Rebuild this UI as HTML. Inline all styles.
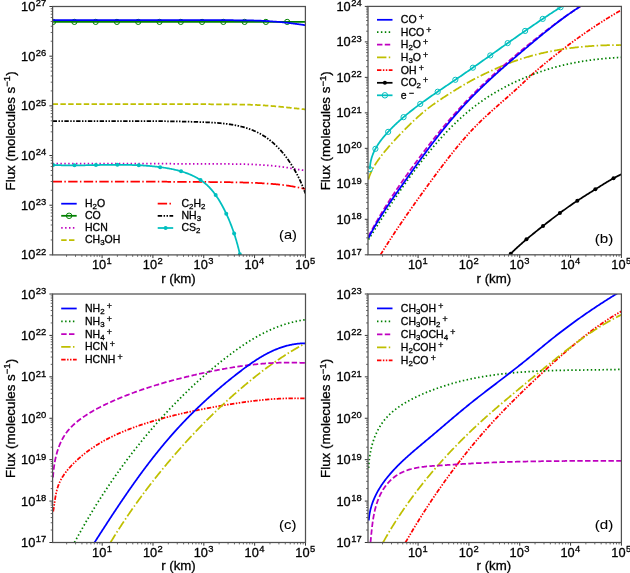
<!DOCTYPE html>
<html><head><meta charset="utf-8"><style>
html,body{margin:0;padding:0;background:#fff;}
svg{display:block;will-change:transform;}
text{font-family:"Liberation Sans",sans-serif;fill:#000;stroke:#000;stroke-width:0.3px;}
</style></head><body>
<svg width="630" height="573" viewBox="0 0 630 573">
<rect width="630" height="573" fill="#fff"/>
<defs>
<clipPath id="clipa"><rect x="52.6" y="6.5" width="252.8" height="248.4"/></clipPath>
<clipPath id="mclipa"><rect x="48.6" y="2.5" width="260.8" height="256.4"/></clipPath>
<clipPath id="clipb"><rect x="368" y="6.4" width="253.4" height="248.4"/></clipPath>
<clipPath id="mclipb"><rect x="364" y="2.4" width="261.4" height="256.4"/></clipPath>
<clipPath id="clipc"><rect x="52.6" y="294" width="252.9" height="248.5"/></clipPath>
<clipPath id="mclipc"><rect x="48.6" y="290" width="260.9" height="256.5"/></clipPath>
<clipPath id="clipd"><rect x="368" y="294" width="253.4" height="248.5"/></clipPath>
<clipPath id="mclipd"><rect x="364" y="290" width="261.4" height="256.5"/></clipPath>
</defs>
<path d="M52.6 181.6 L53.23 181.6 L53.87 181.6 L54.5 181.6 L55.13 181.6 L55.77 181.6 L56.4 181.6 L57.04 181.6 L57.67 181.61 L58.3 181.61 L58.94 181.61 L59.57 181.61 L60.2 181.61 L60.84 181.61 L61.47 181.61 L62.1 181.61 L62.74 181.61 L63.37 181.61 L64 181.61 L64.64 181.61 L65.27 181.61 L65.91 181.61 L66.54 181.61 L67.17 181.62 L67.81 181.62 L68.44 181.62 L69.07 181.62 L69.71 181.62 L70.34 181.62 L70.97 181.62 L71.61 181.62 L72.24 181.62 L72.87 181.62 L73.51 181.62 L74.14 181.62 L74.78 181.62 L75.41 181.62 L76.04 181.63 L76.68 181.63 L77.31 181.63 L77.94 181.63 L78.58 181.63 L79.21 181.63 L79.84 181.63 L80.48 181.63 L81.11 181.63 L81.74 181.63 L82.38 181.63 L83.01 181.63 L83.65 181.63 L84.28 181.63 L84.91 181.63 L85.55 181.64 L86.18 181.64 L86.81 181.64 L87.45 181.64 L88.08 181.64 L88.71 181.64 L89.35 181.64 L89.98 181.64 L90.62 181.64 L91.25 181.64 L91.88 181.64 L92.52 181.64 L93.15 181.64 L93.78 181.64 L94.42 181.64 L95.05 181.64 L95.68 181.65 L96.32 181.65 L96.95 181.65 L97.58 181.65 L98.22 181.65 L98.85 181.65 L99.49 181.65 L100.12 181.65 L100.75 181.65 L101.39 181.65 L102.02 181.65 L102.65 181.65 L103.29 181.65 L103.92 181.65 L104.55 181.65 L105.19 181.66 L105.82 181.66 L106.45 181.66 L107.09 181.66 L107.72 181.66 L108.36 181.66 L108.99 181.66 L109.62 181.66 L110.26 181.66 L110.89 181.66 L111.52 181.66 L112.16 181.66 L112.79 181.66 L113.42 181.66 L114.06 181.66 L114.69 181.66 L115.32 181.66 L115.96 181.66 L116.59 181.66 L117.23 181.67 L117.86 181.67 L118.49 181.67 L119.13 181.67 L119.76 181.67 L120.39 181.67 L121.03 181.67 L121.66 181.67 L122.29 181.67 L122.93 181.67 L123.56 181.67 L124.19 181.67 L124.83 181.67 L125.46 181.67 L126.1 181.67 L126.73 181.67 L127.36 181.67 L128 181.67 L128.63 181.67 L129.26 181.68 L129.9 181.68 L130.53 181.68 L131.16 181.68 L131.8 181.68 L132.43 181.68 L133.07 181.68 L133.7 181.68 L134.33 181.68 L134.97 181.68 L135.6 181.68 L136.23 181.68 L136.87 181.68 L137.5 181.68 L138.13 181.68 L138.77 181.68 L139.4 181.69 L140.03 181.69 L140.67 181.69 L141.3 181.69 L141.94 181.69 L142.57 181.69 L143.2 181.69 L143.84 181.69 L144.47 181.69 L145.1 181.69 L145.74 181.69 L146.37 181.69 L147 181.7 L147.64 181.7 L148.27 181.7 L148.9 181.7 L149.54 181.7 L150.17 181.7 L150.81 181.7 L151.44 181.7 L152.07 181.7 L152.71 181.7 L153.34 181.71 L153.97 181.71 L154.61 181.71 L155.24 181.71 L155.87 181.71 L156.51 181.71 L157.14 181.72 L157.77 181.72 L158.41 181.72 L159.04 181.72 L159.68 181.72 L160.31 181.72 L160.94 181.73 L161.58 181.73 L162.21 181.73 L162.84 181.73 L163.48 181.73 L164.11 181.74 L164.74 181.74 L165.38 181.74 L166.01 181.74 L166.65 181.74 L167.28 181.75 L167.91 181.75 L168.55 181.75 L169.18 181.75 L169.81 181.76 L170.45 181.76 L171.08 181.76 L171.71 181.76 L172.35 181.77 L172.98 181.77 L173.61 181.77 L174.25 181.77 L174.88 181.78 L175.52 181.78 L176.15 181.78 L176.78 181.79 L177.42 181.79 L178.05 181.79 L178.68 181.79 L179.32 181.8 L179.95 181.8 L180.58 181.8 L181.22 181.81 L181.85 181.81 L182.48 181.81 L183.12 181.81 L183.75 181.82 L184.39 181.82 L185.02 181.82 L185.65 181.83 L186.29 181.83 L186.92 181.83 L187.55 181.84 L188.19 181.84 L188.82 181.85 L189.45 181.85 L190.09 181.85 L190.72 181.86 L191.35 181.86 L191.99 181.86 L192.62 181.87 L193.26 181.87 L193.89 181.88 L194.52 181.88 L195.16 181.88 L195.79 181.89 L196.42 181.89 L197.06 181.9 L197.69 181.9 L198.32 181.91 L198.96 181.91 L199.59 181.92 L200.23 181.92 L200.86 181.92 L201.49 181.93 L202.13 181.93 L202.76 181.94 L203.39 181.94 L204.03 181.95 L204.66 181.95 L205.29 181.96 L205.93 181.97 L206.56 181.97 L207.19 181.98 L207.83 181.98 L208.46 181.99 L209.1 181.99 L209.73 182 L210.36 182 L211 182.01 L211.63 182.02 L212.26 182.02 L212.9 182.03 L213.53 182.03 L214.16 182.04 L214.8 182.05 L215.43 182.05 L216.06 182.06 L216.7 182.07 L217.33 182.07 L217.97 182.08 L218.6 182.08 L219.23 182.09 L219.87 182.1 L220.5 182.11 L221.13 182.11 L221.77 182.12 L222.4 182.13 L223.03 182.14 L223.67 182.14 L224.3 182.15 L224.93 182.16 L225.57 182.17 L226.2 182.18 L226.84 182.19 L227.47 182.2 L228.1 182.21 L228.74 182.22 L229.37 182.23 L230 182.24 L230.64 182.25 L231.27 182.26 L231.9 182.27 L232.54 182.28 L233.17 182.3 L233.81 182.31 L234.44 182.32 L235.07 182.33 L235.71 182.34 L236.34 182.36 L236.97 182.37 L237.61 182.38 L238.24 182.4 L238.87 182.41 L239.51 182.42 L240.14 182.44 L240.77 182.45 L241.41 182.46 L242.04 182.48 L242.68 182.49 L243.31 182.51 L243.94 182.52 L244.58 182.54 L245.21 182.55 L245.84 182.57 L246.48 182.59 L247.11 182.61 L247.74 182.62 L248.38 182.64 L249.01 182.66 L249.64 182.68 L250.28 182.7 L250.91 182.73 L251.55 182.75 L252.18 182.77 L252.81 182.79 L253.45 182.82 L254.08 182.84 L254.71 182.87 L255.35 182.9 L255.98 182.93 L256.61 182.96 L257.25 182.99 L257.88 183.02 L258.51 183.05 L259.15 183.08 L259.78 183.12 L260.42 183.15 L261.05 183.19 L261.68 183.22 L262.32 183.26 L262.95 183.3 L263.58 183.33 L264.22 183.37 L264.85 183.41 L265.48 183.45 L266.12 183.49 L266.75 183.53 L267.38 183.58 L268.02 183.62 L268.65 183.67 L269.29 183.71 L269.92 183.76 L270.55 183.81 L271.19 183.85 L271.82 183.9 L272.45 183.96 L273.09 184.01 L273.72 184.06 L274.35 184.11 L274.99 184.17 L275.62 184.23 L276.26 184.29 L276.89 184.34 L277.52 184.41 L278.16 184.47 L278.79 184.53 L279.42 184.6 L280.06 184.67 L280.69 184.73 L281.32 184.81 L281.96 184.88 L282.59 184.95 L283.22 185.03 L283.86 185.11 L284.49 185.19 L285.13 185.27 L285.76 185.36 L286.39 185.45 L287.03 185.54 L287.66 185.63 L288.29 185.73 L288.93 185.83 L289.56 185.93 L290.19 186.03 L290.83 186.13 L291.46 186.24 L292.09 186.35 L292.73 186.45 L293.36 186.56 L294 186.67 L294.63 186.79 L295.26 186.9 L295.9 187.02 L296.53 187.14 L297.16 187.26 L297.8 187.38 L298.43 187.5 L299.06 187.63 L299.7 187.76 L300.33 187.89 L300.96 188.02 L301.6 188.16 L302.23 188.29 L302.87 188.43 L303.5 188.57 L304.13 188.71 L304.77 188.86 L305.4 189" fill="none" stroke="#ff0000" stroke-width="1.75" stroke-dasharray="9.41,2.35,1.47,2.35" clip-path="url(#clipa)"/>
<path d="M52.6 163.5 L53.23 163.5 L53.87 163.5 L54.5 163.5 L55.13 163.5 L55.77 163.5 L56.4 163.5 L57.04 163.5 L57.67 163.51 L58.3 163.51 L58.94 163.51 L59.57 163.51 L60.2 163.51 L60.84 163.51 L61.47 163.51 L62.1 163.51 L62.74 163.51 L63.37 163.51 L64 163.51 L64.64 163.51 L65.27 163.51 L65.91 163.51 L66.54 163.51 L67.17 163.52 L67.81 163.52 L68.44 163.52 L69.07 163.52 L69.71 163.52 L70.34 163.52 L70.97 163.52 L71.61 163.52 L72.24 163.52 L72.87 163.52 L73.51 163.52 L74.14 163.52 L74.78 163.52 L75.41 163.52 L76.04 163.53 L76.68 163.53 L77.31 163.53 L77.94 163.53 L78.58 163.53 L79.21 163.53 L79.84 163.53 L80.48 163.53 L81.11 163.53 L81.74 163.53 L82.38 163.53 L83.01 163.53 L83.65 163.53 L84.28 163.53 L84.91 163.53 L85.55 163.54 L86.18 163.54 L86.81 163.54 L87.45 163.54 L88.08 163.54 L88.71 163.54 L89.35 163.54 L89.98 163.54 L90.62 163.54 L91.25 163.54 L91.88 163.54 L92.52 163.54 L93.15 163.54 L93.78 163.54 L94.42 163.54 L95.05 163.54 L95.68 163.55 L96.32 163.55 L96.95 163.55 L97.58 163.55 L98.22 163.55 L98.85 163.55 L99.49 163.55 L100.12 163.55 L100.75 163.55 L101.39 163.55 L102.02 163.55 L102.65 163.55 L103.29 163.55 L103.92 163.55 L104.55 163.55 L105.19 163.55 L105.82 163.56 L106.45 163.56 L107.09 163.56 L107.72 163.56 L108.36 163.56 L108.99 163.56 L109.62 163.56 L110.26 163.56 L110.89 163.56 L111.52 163.56 L112.16 163.56 L112.79 163.56 L113.42 163.56 L114.06 163.56 L114.69 163.56 L115.32 163.56 L115.96 163.56 L116.59 163.56 L117.23 163.56 L117.86 163.56 L118.49 163.57 L119.13 163.57 L119.76 163.57 L120.39 163.57 L121.03 163.57 L121.66 163.57 L122.29 163.57 L122.93 163.57 L123.56 163.57 L124.19 163.57 L124.83 163.57 L125.46 163.57 L126.1 163.57 L126.73 163.57 L127.36 163.57 L128 163.57 L128.63 163.57 L129.26 163.57 L129.9 163.57 L130.53 163.57 L131.16 163.58 L131.8 163.58 L132.43 163.58 L133.07 163.58 L133.7 163.58 L134.33 163.58 L134.97 163.58 L135.6 163.58 L136.23 163.58 L136.87 163.58 L137.5 163.58 L138.13 163.58 L138.77 163.58 L139.4 163.58 L140.03 163.58 L140.67 163.59 L141.3 163.59 L141.94 163.59 L142.57 163.59 L143.2 163.59 L143.84 163.59 L144.47 163.59 L145.1 163.59 L145.74 163.59 L146.37 163.59 L147 163.59 L147.64 163.6 L148.27 163.6 L148.9 163.6 L149.54 163.6 L150.17 163.6 L150.81 163.6 L151.44 163.6 L152.07 163.61 L152.71 163.61 L153.34 163.61 L153.97 163.61 L154.61 163.62 L155.24 163.62 L155.87 163.62 L156.51 163.63 L157.14 163.63 L157.77 163.63 L158.41 163.64 L159.04 163.64 L159.68 163.64 L160.31 163.65 L160.94 163.65 L161.58 163.66 L162.21 163.66 L162.84 163.67 L163.48 163.67 L164.11 163.68 L164.74 163.68 L165.38 163.69 L166.01 163.69 L166.65 163.7 L167.28 163.7 L167.91 163.71 L168.55 163.71 L169.18 163.72 L169.81 163.72 L170.45 163.73 L171.08 163.73 L171.71 163.74 L172.35 163.74 L172.98 163.75 L173.61 163.75 L174.25 163.76 L174.88 163.76 L175.52 163.77 L176.15 163.77 L176.78 163.77 L177.42 163.78 L178.05 163.78 L178.68 163.78 L179.32 163.79 L179.95 163.79 L180.58 163.79 L181.22 163.8 L181.85 163.8 L182.48 163.8 L183.12 163.8 L183.75 163.81 L184.39 163.81 L185.02 163.81 L185.65 163.81 L186.29 163.81 L186.92 163.82 L187.55 163.82 L188.19 163.82 L188.82 163.82 L189.45 163.82 L190.09 163.82 L190.72 163.83 L191.35 163.83 L191.99 163.83 L192.62 163.83 L193.26 163.83 L193.89 163.83 L194.52 163.83 L195.16 163.84 L195.79 163.84 L196.42 163.84 L197.06 163.84 L197.69 163.84 L198.32 163.84 L198.96 163.84 L199.59 163.84 L200.23 163.84 L200.86 163.85 L201.49 163.85 L202.13 163.85 L202.76 163.85 L203.39 163.85 L204.03 163.85 L204.66 163.85 L205.29 163.85 L205.93 163.86 L206.56 163.86 L207.19 163.86 L207.83 163.86 L208.46 163.86 L209.1 163.86 L209.73 163.86 L210.36 163.87 L211 163.87 L211.63 163.87 L212.26 163.87 L212.9 163.87 L213.53 163.88 L214.16 163.88 L214.8 163.88 L215.43 163.88 L216.06 163.88 L216.7 163.89 L217.33 163.89 L217.97 163.89 L218.6 163.89 L219.23 163.9 L219.87 163.9 L220.5 163.9 L221.13 163.91 L221.77 163.91 L222.4 163.91 L223.03 163.92 L223.67 163.92 L224.3 163.93 L224.93 163.93 L225.57 163.94 L226.2 163.94 L226.84 163.95 L227.47 163.95 L228.1 163.96 L228.74 163.97 L229.37 163.97 L230 163.98 L230.64 163.99 L231.27 164 L231.9 164 L232.54 164.01 L233.17 164.02 L233.81 164.03 L234.44 164.04 L235.07 164.05 L235.71 164.06 L236.34 164.07 L236.97 164.08 L237.61 164.09 L238.24 164.1 L238.87 164.11 L239.51 164.12 L240.14 164.13 L240.77 164.14 L241.41 164.15 L242.04 164.16 L242.68 164.17 L243.31 164.19 L243.94 164.2 L244.58 164.21 L245.21 164.23 L245.84 164.24 L246.48 164.26 L247.11 164.27 L247.74 164.29 L248.38 164.31 L249.01 164.33 L249.64 164.36 L250.28 164.38 L250.91 164.4 L251.55 164.43 L252.18 164.45 L252.81 164.48 L253.45 164.5 L254.08 164.53 L254.71 164.56 L255.35 164.59 L255.98 164.62 L256.61 164.65 L257.25 164.68 L257.88 164.72 L258.51 164.75 L259.15 164.78 L259.78 164.82 L260.42 164.85 L261.05 164.89 L261.68 164.92 L262.32 164.96 L262.95 165 L263.58 165.04 L264.22 165.08 L264.85 165.12 L265.48 165.16 L266.12 165.21 L266.75 165.26 L267.38 165.31 L268.02 165.36 L268.65 165.41 L269.29 165.47 L269.92 165.53 L270.55 165.59 L271.19 165.65 L271.82 165.71 L272.45 165.77 L273.09 165.84 L273.72 165.9 L274.35 165.97 L274.99 166.04 L275.62 166.11 L276.26 166.18 L276.89 166.25 L277.52 166.33 L278.16 166.4 L278.79 166.48 L279.42 166.55 L280.06 166.63 L280.69 166.71 L281.32 166.79 L281.96 166.87 L282.59 166.95 L283.22 167.03 L283.86 167.11 L284.49 167.21 L285.13 167.3 L285.76 167.4 L286.39 167.5 L287.03 167.61 L287.66 167.72 L288.29 167.83 L288.93 167.94 L289.56 168.05 L290.19 168.17 L290.83 168.28 L291.46 168.39 L292.09 168.51 L292.73 168.62 L293.36 168.73 L294 168.84 L294.63 168.94 L295.26 169.04 L295.9 169.14 L296.53 169.24 L297.16 169.34 L297.8 169.44 L298.43 169.54 L299.06 169.64 L299.7 169.74 L300.33 169.84 L300.96 169.93 L301.6 170.03 L302.23 170.13 L302.87 170.22 L303.5 170.32 L304.13 170.41 L304.77 170.51 L305.4 170.6" fill="none" stroke="#bf00bf" stroke-width="1.75" stroke-dasharray="1.47,2.43" clip-path="url(#clipa)"/>
<path d="M52.6 104.1 L53.23 104.1 L53.87 104.1 L54.5 104.1 L55.13 104.1 L55.77 104.1 L56.4 104.1 L57.04 104.1 L57.67 104.1 L58.3 104.1 L58.94 104.1 L59.57 104.1 L60.2 104.1 L60.84 104.1 L61.47 104.1 L62.1 104.1 L62.74 104.1 L63.37 104.1 L64 104.1 L64.64 104.1 L65.27 104.1 L65.91 104.1 L66.54 104.1 L67.17 104.1 L67.81 104.1 L68.44 104.1 L69.07 104.1 L69.71 104.1 L70.34 104.1 L70.97 104.1 L71.61 104.1 L72.24 104.1 L72.87 104.1 L73.51 104.1 L74.14 104.1 L74.78 104.1 L75.41 104.1 L76.04 104.1 L76.68 104.1 L77.31 104.1 L77.94 104.1 L78.58 104.1 L79.21 104.1 L79.84 104.1 L80.48 104.1 L81.11 104.1 L81.74 104.1 L82.38 104.1 L83.01 104.1 L83.65 104.1 L84.28 104.1 L84.91 104.1 L85.55 104.1 L86.18 104.1 L86.81 104.1 L87.45 104.1 L88.08 104.1 L88.71 104.1 L89.35 104.1 L89.98 104.1 L90.62 104.1 L91.25 104.1 L91.88 104.1 L92.52 104.1 L93.15 104.1 L93.78 104.1 L94.42 104.1 L95.05 104.1 L95.68 104.1 L96.32 104.1 L96.95 104.1 L97.58 104.1 L98.22 104.1 L98.85 104.1 L99.49 104.1 L100.12 104.1 L100.75 104.1 L101.39 104.1 L102.02 104.1 L102.65 104.1 L103.29 104.1 L103.92 104.1 L104.55 104.1 L105.19 104.1 L105.82 104.1 L106.45 104.1 L107.09 104.1 L107.72 104.1 L108.36 104.1 L108.99 104.1 L109.62 104.1 L110.26 104.1 L110.89 104.1 L111.52 104.1 L112.16 104.1 L112.79 104.1 L113.42 104.1 L114.06 104.1 L114.69 104.1 L115.32 104.1 L115.96 104.1 L116.59 104.1 L117.23 104.1 L117.86 104.1 L118.49 104.1 L119.13 104.1 L119.76 104.1 L120.39 104.1 L121.03 104.1 L121.66 104.1 L122.29 104.1 L122.93 104.1 L123.56 104.1 L124.19 104.1 L124.83 104.1 L125.46 104.1 L126.1 104.1 L126.73 104.1 L127.36 104.1 L128 104.1 L128.63 104.1 L129.26 104.1 L129.9 104.1 L130.53 104.1 L131.16 104.1 L131.8 104.1 L132.43 104.1 L133.07 104.1 L133.7 104.1 L134.33 104.1 L134.97 104.1 L135.6 104.1 L136.23 104.1 L136.87 104.1 L137.5 104.1 L138.13 104.1 L138.77 104.1 L139.4 104.1 L140.03 104.1 L140.67 104.1 L141.3 104.1 L141.94 104.1 L142.57 104.1 L143.2 104.1 L143.84 104.1 L144.47 104.1 L145.1 104.1 L145.74 104.1 L146.37 104.1 L147 104.1 L147.64 104.1 L148.27 104.1 L148.9 104.1 L149.54 104.1 L150.17 104.1 L150.81 104.1 L151.44 104.1 L152.07 104.1 L152.71 104.1 L153.34 104.1 L153.97 104.1 L154.61 104.1 L155.24 104.1 L155.87 104.1 L156.51 104.1 L157.14 104.1 L157.77 104.1 L158.41 104.1 L159.04 104.1 L159.68 104.1 L160.31 104.11 L160.94 104.11 L161.58 104.11 L162.21 104.11 L162.84 104.11 L163.48 104.11 L164.11 104.11 L164.74 104.11 L165.38 104.11 L166.01 104.11 L166.65 104.11 L167.28 104.11 L167.91 104.12 L168.55 104.12 L169.18 104.12 L169.81 104.12 L170.45 104.12 L171.08 104.12 L171.71 104.12 L172.35 104.12 L172.98 104.13 L173.61 104.13 L174.25 104.13 L174.88 104.13 L175.52 104.13 L176.15 104.13 L176.78 104.13 L177.42 104.14 L178.05 104.14 L178.68 104.14 L179.32 104.14 L179.95 104.14 L180.58 104.14 L181.22 104.14 L181.85 104.15 L182.48 104.15 L183.12 104.15 L183.75 104.15 L184.39 104.15 L185.02 104.15 L185.65 104.16 L186.29 104.16 L186.92 104.16 L187.55 104.16 L188.19 104.16 L188.82 104.17 L189.45 104.17 L190.09 104.17 L190.72 104.17 L191.35 104.17 L191.99 104.17 L192.62 104.18 L193.26 104.18 L193.89 104.18 L194.52 104.18 L195.16 104.18 L195.79 104.19 L196.42 104.19 L197.06 104.19 L197.69 104.19 L198.32 104.19 L198.96 104.2 L199.59 104.2 L200.23 104.2 L200.86 104.2 L201.49 104.21 L202.13 104.21 L202.76 104.21 L203.39 104.21 L204.03 104.21 L204.66 104.22 L205.29 104.22 L205.93 104.22 L206.56 104.23 L207.19 104.23 L207.83 104.23 L208.46 104.24 L209.1 104.24 L209.73 104.24 L210.36 104.25 L211 104.25 L211.63 104.25 L212.26 104.26 L212.9 104.26 L213.53 104.27 L214.16 104.27 L214.8 104.27 L215.43 104.28 L216.06 104.28 L216.7 104.29 L217.33 104.29 L217.97 104.3 L218.6 104.3 L219.23 104.31 L219.87 104.31 L220.5 104.32 L221.13 104.32 L221.77 104.33 L222.4 104.33 L223.03 104.34 L223.67 104.34 L224.3 104.35 L224.93 104.35 L225.57 104.36 L226.2 104.36 L226.84 104.37 L227.47 104.38 L228.1 104.38 L228.74 104.39 L229.37 104.39 L230 104.4 L230.64 104.41 L231.27 104.41 L231.9 104.42 L232.54 104.43 L233.17 104.43 L233.81 104.44 L234.44 104.45 L235.07 104.46 L235.71 104.47 L236.34 104.47 L236.97 104.48 L237.61 104.49 L238.24 104.5 L238.87 104.51 L239.51 104.52 L240.14 104.53 L240.77 104.54 L241.41 104.55 L242.04 104.56 L242.68 104.57 L243.31 104.59 L243.94 104.6 L244.58 104.61 L245.21 104.62 L245.84 104.64 L246.48 104.65 L247.11 104.67 L247.74 104.68 L248.38 104.69 L249.01 104.71 L249.64 104.73 L250.28 104.74 L250.91 104.76 L251.55 104.78 L252.18 104.79 L252.81 104.81 L253.45 104.83 L254.08 104.86 L254.71 104.88 L255.35 104.91 L255.98 104.94 L256.61 104.97 L257.25 105.01 L257.88 105.04 L258.51 105.08 L259.15 105.12 L259.78 105.16 L260.42 105.2 L261.05 105.24 L261.68 105.28 L262.32 105.32 L262.95 105.36 L263.58 105.41 L264.22 105.45 L264.85 105.49 L265.48 105.53 L266.12 105.58 L266.75 105.62 L267.38 105.66 L268.02 105.71 L268.65 105.76 L269.29 105.81 L269.92 105.86 L270.55 105.91 L271.19 105.96 L271.82 106.01 L272.45 106.06 L273.09 106.11 L273.72 106.17 L274.35 106.22 L274.99 106.28 L275.62 106.33 L276.26 106.39 L276.89 106.45 L277.52 106.5 L278.16 106.56 L278.79 106.62 L279.42 106.68 L280.06 106.74 L280.69 106.8 L281.32 106.86 L281.96 106.93 L282.59 106.99 L283.22 107.06 L283.86 107.12 L284.49 107.19 L285.13 107.26 L285.76 107.33 L286.39 107.4 L287.03 107.46 L287.66 107.53 L288.29 107.6 L288.93 107.67 L289.56 107.74 L290.19 107.81 L290.83 107.88 L291.46 107.94 L292.09 108.01 L292.73 108.08 L293.36 108.14 L294 108.21 L294.63 108.27 L295.26 108.34 L295.9 108.41 L296.53 108.47 L297.16 108.54 L297.8 108.61 L298.43 108.67 L299.06 108.74 L299.7 108.8 L300.33 108.87 L300.96 108.94 L301.6 109 L302.23 109.07 L302.87 109.14 L303.5 109.2 L304.13 109.27 L304.77 109.33 L305.4 109.4" fill="none" stroke="#bfbf00" stroke-width="1.75" stroke-dasharray="5.44,2.35" clip-path="url(#clipa)"/>
<path d="M52.6 121 L53.45 121.01 L54.3 121.02 L55.15 121.03 L56 121.04 L56.85 121.05 L57.7 121.06 L58.55 121.07 L59.4 121.07 L60.24 121.08 L61.09 121.09 L61.94 121.1 L62.79 121.1 L63.63 121.11 L64.48 121.12 L65.32 121.12 L66.17 121.13 L67.01 121.13 L67.86 121.14 L68.7 121.14 L69.55 121.15 L70.39 121.15 L71.23 121.16 L72.08 121.16 L72.92 121.16 L73.76 121.17 L74.6 121.17 L75.44 121.17 L76.28 121.17 L77.13 121.18 L77.97 121.18 L78.81 121.18 L79.65 121.18 L80.49 121.18 L81.32 121.18 L82.16 121.18 L83 121.18 L83.84 121.18 L84.68 121.18 L85.52 121.18 L86.36 121.18 L87.19 121.18 L88.03 121.18 L88.87 121.18 L89.7 121.18 L90.54 121.18 L91.38 121.18 L92.21 121.18 L93.05 121.18 L93.88 121.18 L94.72 121.18 L95.55 121.18 L96.39 121.17 L97.22 121.17 L98.06 121.17 L98.89 121.17 L99.73 121.17 L100.56 121.16 L101.4 121.16 L102.23 121.16 L103.06 121.16 L103.9 121.16 L104.73 121.15 L105.56 121.15 L106.4 121.15 L107.23 121.15 L108.06 121.14 L108.9 121.14 L109.73 121.14 L110.56 121.14 L111.39 121.13 L112.23 121.13 L113.06 121.13 L113.89 121.13 L114.72 121.12 L115.56 121.12 L116.39 121.12 L117.22 121.12 L118.05 121.11 L118.88 121.11 L119.72 121.11 L120.55 121.11 L121.38 121.11 L122.21 121.1 L123.04 121.1 L123.87 121.1 L124.71 121.1 L125.54 121.1 L126.37 121.1 L127.2 121.1 L128.03 121.09 L128.86 121.09 L129.7 121.09 L130.53 121.09 L131.36 121.09 L132.19 121.09 L133.02 121.09 L133.85 121.09 L134.69 121.09 L135.52 121.09 L136.35 121.09 L137.18 121.09 L138.01 121.09 L138.85 121.09 L139.68 121.09 L140.51 121.09 L141.34 121.09 L142.17 121.1 L143.01 121.1 L143.84 121.1 L144.67 121.1 L145.51 121.1 L146.34 121.11 L147.17 121.11 L148 121.11 L148.84 121.12 L149.67 121.12 L150.51 121.13 L151.34 121.13 L152.17 121.13 L153.01 121.14 L153.84 121.14 L154.68 121.15 L155.51 121.16 L156.34 121.16 L157.18 121.17 L158.01 121.17 L158.85 121.18 L159.69 121.19 L160.52 121.2 L161.36 121.2 L162.19 121.21 L163.03 121.22 L163.87 121.23 L164.7 121.24 L165.54 121.25 L166.38 121.26 L167.21 121.27 L168.05 121.28 L168.89 121.29 L169.73 121.3 L170.57 121.32 L171.41 121.33 L172.25 121.34 L173.08 121.36 L173.92 121.37 L174.76 121.38 L175.6 121.4 L176.44 121.41 L177.29 121.43 L178.13 121.45 L178.97 121.46 L179.81 121.48 L180.65 121.5 L181.49 121.51 L182.34 121.53 L183.18 121.55 L184.02 121.57 L184.87 121.59 L185.71 121.61 L186.56 121.63 L187.4 121.65 L188.25 121.68 L189.09 121.7 L189.94 121.72 L190.78 121.74 L191.63 121.77 L192.48 121.79 L193.33 121.82 L194.17 121.84 L195.02 121.87 L195.87 121.9 L196.72 121.92 L197.57 121.95 L198.42 121.98 L199.27 122.01 L200.12 122.04 L200.97 122.07 L201.82 122.1 L202.68 122.13 L203.53 122.17 L204.38 122.2 L205.23 122.24 L206.09 122.27 L206.94 122.31 L207.79 122.35 L208.64 122.39 L209.5 122.44 L210.35 122.48 L211.2 122.53 L212.05 122.58 L212.9 122.63 L213.75 122.68 L214.61 122.74 L215.45 122.8 L216.3 122.86 L217.15 122.92 L218 122.99 L218.85 123.06 L219.69 123.13 L220.54 123.21 L221.38 123.29 L222.22 123.38 L223.07 123.46 L223.91 123.55 L224.75 123.65 L225.58 123.75 L226.42 123.85 L227.26 123.96 L228.09 124.07 L228.92 124.19 L229.75 124.31 L230.58 124.43 L231.41 124.56 L232.23 124.7 L233.06 124.84 L233.88 124.98 L234.7 125.13 L235.52 125.29 L236.33 125.45 L237.15 125.62 L237.96 125.79 L238.77 125.97 L239.57 126.15 L240.38 126.34 L241.18 126.54 L241.98 126.74 L242.77 126.95 L243.57 127.17 L244.36 127.39 L245.15 127.62 L245.94 127.85 L246.72 128.1 L247.5 128.35 L248.28 128.6 L249.05 128.87 L249.82 129.14 L250.59 129.42 L251.35 129.71 L252.12 130 L252.87 130.31 L253.63 130.62 L254.38 130.94 L255.13 131.27 L255.87 131.6 L256.61 131.95 L257.35 132.3 L258.08 132.66 L258.81 133.03 L259.54 133.41 L260.26 133.8 L260.97 134.2 L261.69 134.6 L262.4 135.02 L263.1 135.45 L263.8 135.88 L264.5 136.33 L265.19 136.78 L265.88 137.25 L266.56 137.72 L267.24 138.2 L267.92 138.69 L268.59 139.19 L269.25 139.69 L269.91 140.21 L270.57 140.73 L271.22 141.26 L271.86 141.8 L272.51 142.35 L273.14 142.9 L273.77 143.46 L274.4 144.03 L275.02 144.6 L275.64 145.18 L276.25 145.77 L276.85 146.36 L277.45 146.96 L278.05 147.57 L278.64 148.18 L279.22 148.79 L279.8 149.42 L280.38 150.05 L280.95 150.68 L281.51 151.32 L282.07 151.96 L282.62 152.61 L283.16 153.26 L283.7 153.92 L284.24 154.58 L284.76 155.25 L285.29 155.92 L285.8 156.59 L286.32 157.27 L286.82 157.95 L287.32 158.64 L287.82 159.33 L288.31 160.02 L288.79 160.72 L289.27 161.42 L289.75 162.12 L290.22 162.83 L290.68 163.54 L291.14 164.25 L291.59 164.96 L292.04 165.68 L292.49 166.4 L292.93 167.12 L293.36 167.84 L293.79 168.57 L294.21 169.3 L294.63 170.03 L295.05 170.76 L295.46 171.49 L295.87 172.23 L296.27 172.97 L296.66 173.71 L297.06 174.45 L297.44 175.2 L297.83 175.94 L298.2 176.69 L298.58 177.44 L298.95 178.19 L299.31 178.94 L299.67 179.69 L300.03 180.45 L300.38 181.21 L300.72 181.97 L301.06 182.73 L301.4 183.49 L301.74 184.25 L302.07 185.01 L302.39 185.78 L302.71 186.55 L303.03 187.31 L303.34 188.08 L303.65 188.85 L303.95 189.62 L304.25 190.4 L304.54 191.17 L304.83 191.94 L305.12 192.72 L305.4 193.49" fill="none" stroke="#000000" stroke-width="1.75" stroke-dasharray="4.41,1.47,1.47,1.47,1.47,1.47" clip-path="url(#clipa)"/>
<path d="M53.1 164.99 L53.94 165.03 L54.78 165.06 L55.62 165.09 L56.46 165.12 L57.3 165.15 L58.14 165.18 L58.98 165.2 L59.82 165.22 L60.66 165.24 L61.5 165.26 L62.34 165.28 L63.18 165.29 L64.01 165.31 L64.85 165.32 L65.69 165.33 L66.53 165.34 L67.37 165.35 L68.2 165.35 L69.04 165.36 L69.88 165.36 L70.72 165.36 L71.56 165.37 L72.39 165.37 L73.23 165.36 L74.07 165.36 L74.9 165.36 L75.74 165.36 L76.58 165.35 L77.41 165.35 L78.25 165.34 L79.09 165.33 L79.92 165.32 L80.76 165.31 L81.6 165.3 L82.43 165.29 L83.27 165.28 L84.1 165.27 L84.94 165.26 L85.78 165.25 L86.61 165.23 L87.45 165.22 L88.28 165.21 L89.12 165.19 L89.95 165.18 L90.79 165.16 L91.62 165.15 L92.46 165.13 L93.29 165.12 L94.13 165.1 L94.96 165.09 L95.8 165.07 L96.63 165.06 L97.47 165.04 L98.3 165.02 L99.14 165.01 L99.97 164.99 L100.81 164.98 L101.64 164.97 L102.48 164.95 L103.31 164.94 L104.15 164.93 L104.98 164.91 L105.82 164.9 L106.65 164.89 L107.49 164.88 L108.32 164.87 L109.16 164.86 L109.99 164.85 L110.83 164.84 L111.66 164.83 L112.5 164.83 L113.33 164.82 L114.17 164.82 L115 164.81 L115.84 164.81 L116.67 164.81 L117.51 164.81 L118.34 164.81 L119.18 164.81 L120.01 164.81 L120.85 164.81 L121.68 164.82 L122.52 164.82 L123.35 164.83 L124.19 164.84 L125.02 164.85 L125.86 164.86 L126.69 164.88 L127.53 164.89 L128.37 164.91 L129.2 164.93 L130.04 164.95 L130.87 164.97 L131.71 164.99 L132.55 165.02 L133.38 165.05 L134.22 165.08 L135.05 165.11 L135.89 165.14 L136.73 165.18 L137.56 165.21 L138.4 165.25 L139.24 165.29 L140.07 165.34 L140.91 165.38 L141.75 165.43 L142.59 165.48 L143.42 165.54 L144.26 165.59 L145.1 165.65 L145.94 165.71 L146.78 165.77 L147.61 165.84 L148.45 165.9 L149.29 165.98 L150.13 166.05 L150.97 166.12 L151.81 166.2 L152.65 166.28 L153.48 166.37 L154.32 166.46 L155.16 166.55 L156 166.64 L156.84 166.74 L157.68 166.84 L158.52 166.94 L159.36 167.04 L160.2 167.15 L161.04 167.26 L161.88 167.38 L162.72 167.5 L163.56 167.62 L164.4 167.75 L165.24 167.88 L166.08 168.01 L166.92 168.15 L167.76 168.29 L168.59 168.44 L169.43 168.59 L170.26 168.75 L171.09 168.91 L171.92 169.08 L172.75 169.25 L173.58 169.43 L174.4 169.61 L175.22 169.8 L176.04 169.99 L176.86 170.19 L177.68 170.4 L178.49 170.61 L179.3 170.83 L180.11 171.05 L180.91 171.28 L181.71 171.52 L182.51 171.76 L183.3 172.01 L184.1 172.27 L184.88 172.53 L185.67 172.8 L186.45 173.08 L187.22 173.37 L188 173.66 L188.76 173.96 L189.53 174.27 L190.29 174.59 L191.04 174.91 L191.79 175.25 L192.54 175.59 L193.28 175.94 L194.01 176.3 L194.74 176.66 L195.46 177.04 L196.18 177.43 L196.9 177.82 L197.6 178.22 L198.31 178.64 L199 179.06 L199.69 179.49 L200.37 179.93 L201.05 180.39 L201.72 180.85 L202.39 181.32 L203.04 181.8 L203.69 182.3 L204.34 182.8 L204.97 183.31 L205.6 183.84 L206.22 184.37 L206.84 184.92 L207.44 185.48 L208.04 186.05 L208.63 186.63 L209.22 187.22 L209.79 187.82 L210.36 188.43 L210.92 189.06 L211.48 189.69 L212.02 190.33 L212.56 190.98 L213.09 191.63 L213.62 192.3 L214.14 192.97 L214.65 193.65 L215.15 194.34 L215.65 195.03 L216.14 195.73 L216.63 196.44 L217.11 197.15 L217.58 197.87 L218.04 198.59 L218.5 199.31 L218.96 200.04 L219.41 200.77 L219.85 201.51 L220.29 202.25 L220.72 202.99 L221.14 203.73 L221.56 204.48 L221.98 205.23 L222.39 205.98 L222.79 206.73 L223.19 207.48 L223.58 208.23 L223.97 208.99 L224.36 209.74 L224.74 210.5 L225.11 211.26 L225.48 212.02 L225.85 212.78 L226.21 213.55 L226.56 214.31 L226.91 215.08 L227.26 215.84 L227.6 216.61 L227.94 217.38 L228.28 218.15 L228.61 218.92 L228.93 219.69 L229.26 220.46 L229.57 221.24 L229.89 222.01 L230.2 222.78 L230.51 223.56 L230.81 224.34 L231.11 225.11 L231.41 225.89 L231.7 226.67 L231.99 227.45 L232.28 228.23 L232.56 229.01 L232.84 229.79 L233.11 230.57 L233.39 231.35 L233.66 232.14 L233.92 232.92 L234.18 233.71 L234.44 234.49 L234.7 235.28 L234.95 236.07 L235.2 236.86 L235.45 237.65 L235.69 238.44 L235.93 239.24 L236.17 240.03 L236.4 240.83 L236.63 241.62 L236.86 242.42 L237.08 243.22 L237.31 244.02 L237.53 244.82 L237.74 245.63 L237.95 246.43 L238.16 247.24 L238.37 248.05 L238.58 248.85 L238.78 249.66 L238.98 250.48 L239.18 251.29 L239.37 252.1 L239.56 252.92 L239.75 253.74 L239.94 254.56 L240.12 255.38 L240.3 256.2 L240.48 257.02 L240.66 257.85 L240.83 258.68 L241 259.5 L241.17 260.34 L241.34 261.17 L241.5 262" fill="none" stroke="#00bfbf" stroke-width="1.75" clip-path="url(#clipa)"/>
<g clip-path="url(#clipa)"><circle cx="53.1" cy="164.99" r="2.0" fill="#00bfbf" stroke="none"/><circle cx="74.51" cy="165.36" r="2.0" fill="#00bfbf" stroke="none"/><circle cx="95.93" cy="165.07" r="2.0" fill="#00bfbf" stroke="none"/><circle cx="117.35" cy="164.81" r="2.0" fill="#00bfbf" stroke="none"/><circle cx="138.76" cy="165.27" r="2.0" fill="#00bfbf" stroke="none"/><circle cx="160.1" cy="167.14" r="2.0" fill="#00bfbf" stroke="none"/><circle cx="181.08" cy="171.33" r="2.0" fill="#00bfbf" stroke="none"/><circle cx="200.55" cy="180.05" r="2.0" fill="#00bfbf" stroke="none"/><circle cx="215.66" cy="195.05" r="2.0" fill="#00bfbf" stroke="none"/><circle cx="226.25" cy="213.64" r="2.0" fill="#00bfbf" stroke="none"/><circle cx="234.13" cy="233.55" r="2.0" fill="#00bfbf" stroke="none"/><circle cx="239.85" cy="254.18" r="2.0" fill="#00bfbf" stroke="none"/></g>
<path d="M53.1 21.9 L58.25 21.9 L63.4 21.9 L68.55 21.9 L73.7 21.9 L78.84 21.9 L83.99 21.9 L89.14 21.9 L94.29 21.9 L99.44 21.9 L104.59 21.9 L109.74 21.9 L114.89 21.9 L120.04 21.9 L125.19 21.9 L130.33 21.9 L135.48 21.9 L140.63 21.9 L145.78 21.9 L150.93 21.9 L156.08 21.9 L161.23 21.9 L166.38 21.9 L171.53 21.9 L176.68 21.9 L181.82 21.9 L186.97 21.9 L192.12 21.9 L197.27 21.9 L202.42 21.9 L207.57 21.9 L212.72 21.9 L217.87 21.9 L223.02 21.9 L228.17 21.9 L233.31 21.9 L238.46 21.9 L243.61 21.9 L248.76 21.9 L253.91 21.9 L259.06 21.9 L264.21 21.9 L269.36 21.9 L274.51 21.9 L279.66 21.9 L284.8 21.9 L289.95 21.9 L295.1 21.9 L300.25 21.9 L305.4 21.9" fill="none" stroke="#008000" stroke-width="1.75" clip-path="url(#clipa)"/>
<g clip-path="url(#clipa)"><circle cx="53.1" cy="21.9" r="2.6" fill="none" stroke="#008000" stroke-width="1"/><circle cx="74.38" cy="21.9" r="2.6" fill="none" stroke="#008000" stroke-width="1"/><circle cx="95.66" cy="21.9" r="2.6" fill="none" stroke="#008000" stroke-width="1"/><circle cx="116.94" cy="21.9" r="2.6" fill="none" stroke="#008000" stroke-width="1"/><circle cx="138.22" cy="21.9" r="2.6" fill="none" stroke="#008000" stroke-width="1"/><circle cx="159.5" cy="21.9" r="2.6" fill="none" stroke="#008000" stroke-width="1"/><circle cx="180.78" cy="21.9" r="2.6" fill="none" stroke="#008000" stroke-width="1"/><circle cx="202.06" cy="21.9" r="2.6" fill="none" stroke="#008000" stroke-width="1"/><circle cx="223.34" cy="21.9" r="2.6" fill="none" stroke="#008000" stroke-width="1"/><circle cx="244.62" cy="21.9" r="2.6" fill="none" stroke="#008000" stroke-width="1"/><circle cx="265.9" cy="21.9" r="2.6" fill="none" stroke="#008000" stroke-width="1"/><circle cx="287.18" cy="21.9" r="2.6" fill="none" stroke="#008000" stroke-width="1"/></g>
<path d="M52.6 20.1 L53.23 20.1 L53.87 20.1 L54.5 20.1 L55.13 20.1 L55.77 20.1 L56.4 20.1 L57.04 20.1 L57.67 20.1 L58.3 20.1 L58.94 20.1 L59.57 20.1 L60.2 20.1 L60.84 20.1 L61.47 20.1 L62.1 20.1 L62.74 20.1 L63.37 20.1 L64 20.1 L64.64 20.1 L65.27 20.1 L65.91 20.1 L66.54 20.1 L67.17 20.1 L67.81 20.1 L68.44 20.1 L69.07 20.1 L69.71 20.1 L70.34 20.1 L70.97 20.1 L71.61 20.1 L72.24 20.1 L72.87 20.1 L73.51 20.1 L74.14 20.1 L74.78 20.1 L75.41 20.1 L76.04 20.1 L76.68 20.1 L77.31 20.1 L77.94 20.1 L78.58 20.1 L79.21 20.1 L79.84 20.1 L80.48 20.1 L81.11 20.1 L81.74 20.1 L82.38 20.1 L83.01 20.1 L83.65 20.1 L84.28 20.1 L84.91 20.1 L85.55 20.1 L86.18 20.1 L86.81 20.1 L87.45 20.1 L88.08 20.1 L88.71 20.1 L89.35 20.1 L89.98 20.1 L90.62 20.1 L91.25 20.1 L91.88 20.1 L92.52 20.1 L93.15 20.1 L93.78 20.1 L94.42 20.1 L95.05 20.1 L95.68 20.1 L96.32 20.1 L96.95 20.1 L97.58 20.1 L98.22 20.1 L98.85 20.1 L99.49 20.1 L100.12 20.1 L100.75 20.1 L101.39 20.1 L102.02 20.1 L102.65 20.1 L103.29 20.1 L103.92 20.1 L104.55 20.1 L105.19 20.1 L105.82 20.1 L106.45 20.1 L107.09 20.1 L107.72 20.1 L108.36 20.1 L108.99 20.1 L109.62 20.1 L110.26 20.1 L110.89 20.1 L111.52 20.1 L112.16 20.1 L112.79 20.1 L113.42 20.1 L114.06 20.1 L114.69 20.1 L115.32 20.1 L115.96 20.1 L116.59 20.1 L117.23 20.1 L117.86 20.1 L118.49 20.1 L119.13 20.1 L119.76 20.1 L120.39 20.1 L121.03 20.1 L121.66 20.1 L122.29 20.1 L122.93 20.1 L123.56 20.1 L124.19 20.1 L124.83 20.1 L125.46 20.1 L126.1 20.1 L126.73 20.1 L127.36 20.1 L128 20.1 L128.63 20.1 L129.26 20.1 L129.9 20.1 L130.53 20.1 L131.16 20.1 L131.8 20.1 L132.43 20.1 L133.07 20.1 L133.7 20.1 L134.33 20.1 L134.97 20.1 L135.6 20.1 L136.23 20.1 L136.87 20.1 L137.5 20.1 L138.13 20.1 L138.77 20.1 L139.4 20.1 L140.03 20.1 L140.67 20.1 L141.3 20.1 L141.94 20.1 L142.57 20.1 L143.2 20.1 L143.84 20.1 L144.47 20.1 L145.1 20.1 L145.74 20.1 L146.37 20.1 L147 20.1 L147.64 20.1 L148.27 20.1 L148.9 20.1 L149.54 20.1 L150.17 20.1 L150.81 20.1 L151.44 20.1 L152.07 20.1 L152.71 20.1 L153.34 20.1 L153.97 20.1 L154.61 20.1 L155.24 20.1 L155.87 20.1 L156.51 20.1 L157.14 20.1 L157.77 20.1 L158.41 20.1 L159.04 20.1 L159.68 20.1 L160.31 20.1 L160.94 20.1 L161.58 20.1 L162.21 20.1 L162.84 20.1 L163.48 20.1 L164.11 20.11 L164.74 20.11 L165.38 20.11 L166.01 20.11 L166.65 20.11 L167.28 20.11 L167.91 20.11 L168.55 20.11 L169.18 20.11 L169.81 20.11 L170.45 20.11 L171.08 20.11 L171.71 20.11 L172.35 20.11 L172.98 20.11 L173.61 20.11 L174.25 20.11 L174.88 20.12 L175.52 20.12 L176.15 20.12 L176.78 20.12 L177.42 20.12 L178.05 20.12 L178.68 20.12 L179.32 20.12 L179.95 20.12 L180.58 20.12 L181.22 20.12 L181.85 20.12 L182.48 20.12 L183.12 20.13 L183.75 20.13 L184.39 20.13 L185.02 20.13 L185.65 20.13 L186.29 20.13 L186.92 20.13 L187.55 20.13 L188.19 20.13 L188.82 20.13 L189.45 20.13 L190.09 20.13 L190.72 20.14 L191.35 20.14 L191.99 20.14 L192.62 20.14 L193.26 20.14 L193.89 20.14 L194.52 20.14 L195.16 20.14 L195.79 20.14 L196.42 20.14 L197.06 20.15 L197.69 20.15 L198.32 20.15 L198.96 20.15 L199.59 20.15 L200.23 20.15 L200.86 20.15 L201.49 20.15 L202.13 20.15 L202.76 20.15 L203.39 20.16 L204.03 20.16 L204.66 20.16 L205.29 20.16 L205.93 20.16 L206.56 20.16 L207.19 20.16 L207.83 20.16 L208.46 20.16 L209.1 20.17 L209.73 20.17 L210.36 20.17 L211 20.17 L211.63 20.17 L212.26 20.17 L212.9 20.17 L213.53 20.18 L214.16 20.18 L214.8 20.18 L215.43 20.18 L216.06 20.18 L216.7 20.18 L217.33 20.19 L217.97 20.19 L218.6 20.19 L219.23 20.19 L219.87 20.19 L220.5 20.19 L221.13 20.2 L221.77 20.2 L222.4 20.2 L223.03 20.2 L223.67 20.2 L224.3 20.21 L224.93 20.21 L225.57 20.21 L226.2 20.21 L226.84 20.22 L227.47 20.22 L228.1 20.22 L228.74 20.22 L229.37 20.23 L230 20.23 L230.64 20.23 L231.27 20.23 L231.9 20.24 L232.54 20.24 L233.17 20.24 L233.81 20.25 L234.44 20.25 L235.07 20.25 L235.71 20.26 L236.34 20.26 L236.97 20.26 L237.61 20.27 L238.24 20.27 L238.87 20.27 L239.51 20.28 L240.14 20.28 L240.77 20.29 L241.41 20.29 L242.04 20.29 L242.68 20.3 L243.31 20.3 L243.94 20.31 L244.58 20.31 L245.21 20.32 L245.84 20.33 L246.48 20.34 L247.11 20.35 L247.74 20.36 L248.38 20.37 L249.01 20.38 L249.64 20.39 L250.28 20.4 L250.91 20.42 L251.55 20.43 L252.18 20.45 L252.81 20.46 L253.45 20.48 L254.08 20.5 L254.71 20.52 L255.35 20.54 L255.98 20.55 L256.61 20.57 L257.25 20.59 L257.88 20.61 L258.51 20.64 L259.15 20.66 L259.78 20.68 L260.42 20.7 L261.05 20.73 L261.68 20.75 L262.32 20.77 L262.95 20.8 L263.58 20.82 L264.22 20.86 L264.85 20.89 L265.48 20.93 L266.12 20.97 L266.75 21.01 L267.38 21.06 L268.02 21.11 L268.65 21.16 L269.29 21.21 L269.92 21.26 L270.55 21.31 L271.19 21.36 L271.82 21.41 L272.45 21.46 L273.09 21.51 L273.72 21.55 L274.35 21.6 L274.99 21.65 L275.62 21.69 L276.26 21.74 L276.89 21.79 L277.52 21.84 L278.16 21.89 L278.79 21.94 L279.42 21.99 L280.06 22.04 L280.69 22.09 L281.32 22.15 L281.96 22.2 L282.59 22.26 L283.22 22.32 L283.86 22.39 L284.49 22.45 L285.13 22.52 L285.76 22.59 L286.39 22.67 L287.03 22.74 L287.66 22.82 L288.29 22.9 L288.93 22.98 L289.56 23.06 L290.19 23.14 L290.83 23.22 L291.46 23.3 L292.09 23.38 L292.73 23.47 L293.36 23.55 L294 23.63 L294.63 23.71 L295.26 23.79 L295.9 23.88 L296.53 23.96 L297.16 24.04 L297.8 24.13 L298.43 24.22 L299.06 24.3 L299.7 24.39 L300.33 24.48 L300.96 24.57 L301.6 24.65 L302.23 24.74 L302.87 24.83 L303.5 24.92 L304.13 25.02 L304.77 25.11 L305.4 25.2" fill="none" stroke="#0000ff" stroke-width="1.75" clip-path="url(#clipa)"/>
<g stroke="#000"><line x1="66.55" y1="254.9" x2="66.55" y2="256.8" stroke-width="0.6"/><line x1="75.5" y1="254.9" x2="75.5" y2="256.8" stroke-width="0.6"/><line x1="81.85" y1="254.9" x2="81.85" y2="256.8" stroke-width="0.6"/><line x1="86.78" y1="254.9" x2="86.78" y2="256.8" stroke-width="0.6"/><line x1="90.8" y1="254.9" x2="90.8" y2="256.8" stroke-width="0.6"/><line x1="94.21" y1="254.9" x2="94.21" y2="256.8" stroke-width="0.6"/><line x1="97.15" y1="254.9" x2="97.15" y2="256.8" stroke-width="0.6"/><line x1="99.75" y1="254.9" x2="99.75" y2="256.8" stroke-width="0.6"/><line x1="102.08" y1="254.9" x2="102.08" y2="258.1" stroke-width="0.8"/><line x1="117.38" y1="254.9" x2="117.38" y2="256.8" stroke-width="0.6"/><line x1="126.33" y1="254.9" x2="126.33" y2="256.8" stroke-width="0.6"/><line x1="132.68" y1="254.9" x2="132.68" y2="256.8" stroke-width="0.6"/><line x1="137.61" y1="254.9" x2="137.61" y2="256.8" stroke-width="0.6"/><line x1="141.63" y1="254.9" x2="141.63" y2="256.8" stroke-width="0.6"/><line x1="145.04" y1="254.9" x2="145.04" y2="256.8" stroke-width="0.6"/><line x1="147.98" y1="254.9" x2="147.98" y2="256.8" stroke-width="0.6"/><line x1="150.58" y1="254.9" x2="150.58" y2="256.8" stroke-width="0.6"/><line x1="152.91" y1="254.9" x2="152.91" y2="258.1" stroke-width="0.8"/><line x1="168.21" y1="254.9" x2="168.21" y2="256.8" stroke-width="0.6"/><line x1="177.16" y1="254.9" x2="177.16" y2="256.8" stroke-width="0.6"/><line x1="183.51" y1="254.9" x2="183.51" y2="256.8" stroke-width="0.6"/><line x1="188.44" y1="254.9" x2="188.44" y2="256.8" stroke-width="0.6"/><line x1="192.46" y1="254.9" x2="192.46" y2="256.8" stroke-width="0.6"/><line x1="195.87" y1="254.9" x2="195.87" y2="256.8" stroke-width="0.6"/><line x1="198.81" y1="254.9" x2="198.81" y2="256.8" stroke-width="0.6"/><line x1="201.41" y1="254.9" x2="201.41" y2="256.8" stroke-width="0.6"/><line x1="203.74" y1="254.9" x2="203.74" y2="258.1" stroke-width="0.8"/><line x1="219.04" y1="254.9" x2="219.04" y2="256.8" stroke-width="0.6"/><line x1="227.99" y1="254.9" x2="227.99" y2="256.8" stroke-width="0.6"/><line x1="234.34" y1="254.9" x2="234.34" y2="256.8" stroke-width="0.6"/><line x1="239.27" y1="254.9" x2="239.27" y2="256.8" stroke-width="0.6"/><line x1="243.29" y1="254.9" x2="243.29" y2="256.8" stroke-width="0.6"/><line x1="246.7" y1="254.9" x2="246.7" y2="256.8" stroke-width="0.6"/><line x1="249.64" y1="254.9" x2="249.64" y2="256.8" stroke-width="0.6"/><line x1="252.24" y1="254.9" x2="252.24" y2="256.8" stroke-width="0.6"/><line x1="254.57" y1="254.9" x2="254.57" y2="258.1" stroke-width="0.8"/><line x1="269.87" y1="254.9" x2="269.87" y2="256.8" stroke-width="0.6"/><line x1="278.82" y1="254.9" x2="278.82" y2="256.8" stroke-width="0.6"/><line x1="285.17" y1="254.9" x2="285.17" y2="256.8" stroke-width="0.6"/><line x1="290.1" y1="254.9" x2="290.1" y2="256.8" stroke-width="0.6"/><line x1="294.12" y1="254.9" x2="294.12" y2="256.8" stroke-width="0.6"/><line x1="297.53" y1="254.9" x2="297.53" y2="256.8" stroke-width="0.6"/><line x1="300.47" y1="254.9" x2="300.47" y2="256.8" stroke-width="0.6"/><line x1="303.07" y1="254.9" x2="303.07" y2="256.8" stroke-width="0.6"/><line x1="305.4" y1="254.9" x2="305.4" y2="258.1" stroke-width="0.8"/><line x1="49.4" y1="254.9" x2="52.6" y2="254.9" stroke-width="0.8"/><line x1="50.7" y1="239.94" x2="52.6" y2="239.94" stroke-width="0.6"/><line x1="50.7" y1="231.2" x2="52.6" y2="231.2" stroke-width="0.6"/><line x1="50.7" y1="224.99" x2="52.6" y2="224.99" stroke-width="0.6"/><line x1="50.7" y1="220.18" x2="52.6" y2="220.18" stroke-width="0.6"/><line x1="50.7" y1="216.24" x2="52.6" y2="216.24" stroke-width="0.6"/><line x1="50.7" y1="212.92" x2="52.6" y2="212.92" stroke-width="0.6"/><line x1="50.7" y1="210.03" x2="52.6" y2="210.03" stroke-width="0.6"/><line x1="50.7" y1="207.49" x2="52.6" y2="207.49" stroke-width="0.6"/><line x1="49.4" y1="205.22" x2="52.6" y2="205.22" stroke-width="0.8"/><line x1="50.7" y1="190.26" x2="52.6" y2="190.26" stroke-width="0.6"/><line x1="50.7" y1="181.52" x2="52.6" y2="181.52" stroke-width="0.6"/><line x1="50.7" y1="175.31" x2="52.6" y2="175.31" stroke-width="0.6"/><line x1="50.7" y1="170.5" x2="52.6" y2="170.5" stroke-width="0.6"/><line x1="50.7" y1="166.56" x2="52.6" y2="166.56" stroke-width="0.6"/><line x1="50.7" y1="163.24" x2="52.6" y2="163.24" stroke-width="0.6"/><line x1="50.7" y1="160.35" x2="52.6" y2="160.35" stroke-width="0.6"/><line x1="50.7" y1="157.81" x2="52.6" y2="157.81" stroke-width="0.6"/><line x1="49.4" y1="155.54" x2="52.6" y2="155.54" stroke-width="0.8"/><line x1="50.7" y1="140.58" x2="52.6" y2="140.58" stroke-width="0.6"/><line x1="50.7" y1="131.84" x2="52.6" y2="131.84" stroke-width="0.6"/><line x1="50.7" y1="125.63" x2="52.6" y2="125.63" stroke-width="0.6"/><line x1="50.7" y1="120.82" x2="52.6" y2="120.82" stroke-width="0.6"/><line x1="50.7" y1="116.88" x2="52.6" y2="116.88" stroke-width="0.6"/><line x1="50.7" y1="113.56" x2="52.6" y2="113.56" stroke-width="0.6"/><line x1="50.7" y1="110.67" x2="52.6" y2="110.67" stroke-width="0.6"/><line x1="50.7" y1="108.13" x2="52.6" y2="108.13" stroke-width="0.6"/><line x1="49.4" y1="105.86" x2="52.6" y2="105.86" stroke-width="0.8"/><line x1="50.7" y1="90.9" x2="52.6" y2="90.9" stroke-width="0.6"/><line x1="50.7" y1="82.16" x2="52.6" y2="82.16" stroke-width="0.6"/><line x1="50.7" y1="75.95" x2="52.6" y2="75.95" stroke-width="0.6"/><line x1="50.7" y1="71.14" x2="52.6" y2="71.14" stroke-width="0.6"/><line x1="50.7" y1="67.2" x2="52.6" y2="67.2" stroke-width="0.6"/><line x1="50.7" y1="63.88" x2="52.6" y2="63.88" stroke-width="0.6"/><line x1="50.7" y1="60.99" x2="52.6" y2="60.99" stroke-width="0.6"/><line x1="50.7" y1="58.45" x2="52.6" y2="58.45" stroke-width="0.6"/><line x1="49.4" y1="56.18" x2="52.6" y2="56.18" stroke-width="0.8"/><line x1="50.7" y1="41.22" x2="52.6" y2="41.22" stroke-width="0.6"/><line x1="50.7" y1="32.48" x2="52.6" y2="32.48" stroke-width="0.6"/><line x1="50.7" y1="26.27" x2="52.6" y2="26.27" stroke-width="0.6"/><line x1="50.7" y1="21.46" x2="52.6" y2="21.46" stroke-width="0.6"/><line x1="50.7" y1="17.52" x2="52.6" y2="17.52" stroke-width="0.6"/><line x1="50.7" y1="14.2" x2="52.6" y2="14.2" stroke-width="0.6"/><line x1="50.7" y1="11.31" x2="52.6" y2="11.31" stroke-width="0.6"/><line x1="50.7" y1="8.77" x2="52.6" y2="8.77" stroke-width="0.6"/><line x1="49.4" y1="6.5" x2="52.6" y2="6.5" stroke-width="0.8"/></g>
<text x="101.88" y="269.2" text-anchor="middle" font-size="12.8">10<tspan font-size="9.4" dx="0.4" dy="-4.8">1</tspan></text>
<text x="152.71" y="269.2" text-anchor="middle" font-size="12.8">10<tspan font-size="9.4" dx="0.4" dy="-4.8">2</tspan></text>
<text x="203.54" y="269.2" text-anchor="middle" font-size="12.8">10<tspan font-size="9.4" dx="0.4" dy="-4.8">3</tspan></text>
<text x="254.37" y="269.2" text-anchor="middle" font-size="12.8">10<tspan font-size="9.4" dx="0.4" dy="-4.8">4</tspan></text>
<text x="305.2" y="269.2" text-anchor="middle" font-size="12.8">10<tspan font-size="9.4" dx="0.4" dy="-4.8">5</tspan></text>
<text x="46.3" y="259.4" text-anchor="end" font-size="12.8">10<tspan font-size="9.4" dx="0.6" dy="-4.6">22</tspan></text>
<text x="46.3" y="209.72" text-anchor="end" font-size="12.8">10<tspan font-size="9.4" dx="0.6" dy="-4.6">23</tspan></text>
<text x="46.3" y="160.04" text-anchor="end" font-size="12.8">10<tspan font-size="9.4" dx="0.6" dy="-4.6">24</tspan></text>
<text x="46.3" y="110.36" text-anchor="end" font-size="12.8">10<tspan font-size="9.4" dx="0.6" dy="-4.6">25</tspan></text>
<text x="46.3" y="60.68" text-anchor="end" font-size="12.8">10<tspan font-size="9.4" dx="0.6" dy="-4.6">26</tspan></text>
<text x="46.3" y="11" text-anchor="end" font-size="12.8">10<tspan font-size="9.4" dx="0.6" dy="-4.6">27</tspan></text>
<text x="178.5" y="282.7" text-anchor="middle" font-size="12.6" textLength="34.6" lengthAdjust="spacingAndGlyphs">r (km)</text>
<text transform="translate(14.9 130.9) rotate(-90)" text-anchor="middle" font-size="12.6" textLength="119" lengthAdjust="spacingAndGlyphs">Flux (molecules s<tspan font-size="9" dy="-4.5">&#8722;1</tspan><tspan dy="4.5">)</tspan></text>
<text x="288.05" y="239.2" text-anchor="middle" font-size="12.4" textLength="17.9" lengthAdjust="spacingAndGlyphs" style="stroke-width:0.08px">(a)</text>
<path d="M380.49 254.79 L380.93 254.08 L381.37 253.37 L381.8 252.66 L382.25 251.95 L382.69 251.25 L383.13 250.54 L383.57 249.83 L384.02 249.12 L384.46 248.42 L384.91 247.71 L385.35 247.01 L385.8 246.3 L386.25 245.6 L386.7 244.89 L387.15 244.19 L387.6 243.48 L388.05 242.78 L388.5 242.08 L388.96 241.38 L389.41 240.67 L389.86 239.97 L390.32 239.27 L390.78 238.57 L391.23 237.87 L391.69 237.17 L392.15 236.47 L392.61 235.78 L393.07 235.08 L393.53 234.38 L393.99 233.68 L394.45 232.99 L394.91 232.29 L395.38 231.59 L395.84 230.9 L396.31 230.2 L396.77 229.51 L397.24 228.81 L397.7 228.12 L398.17 227.42 L398.64 226.73 L399.11 226.04 L399.58 225.34 L400.05 224.65 L400.52 223.96 L400.99 223.27 L401.46 222.58 L401.93 221.89 L402.4 221.2 L402.88 220.51 L403.35 219.82 L403.83 219.13 L404.3 218.44 L404.78 217.75 L405.25 217.06 L405.73 216.37 L406.21 215.68 L406.68 215 L407.16 214.31 L407.64 213.62 L408.12 212.94 L408.6 212.25 L409.08 211.56 L409.56 210.88 L410.04 210.19 L410.52 209.51 L411 208.82 L411.48 208.14 L411.96 207.46 L412.45 206.77 L412.93 206.09 L413.41 205.41 L413.9 204.72 L414.38 204.04 L414.87 203.36 L415.35 202.68 L415.84 201.99 L416.32 201.31 L416.81 200.63 L417.29 199.95 L417.78 199.27 L418.27 198.59 L418.76 197.91 L419.24 197.23 L419.73 196.55 L420.22 195.87 L420.71 195.19 L421.2 194.51 L421.68 193.84 L422.17 193.16 L422.66 192.48 L423.15 191.8 L423.64 191.12 L424.13 190.45 L424.62 189.77 L425.11 189.09 L425.6 188.42 L426.09 187.74 L426.59 187.06 L427.08 186.39 L427.57 185.71 L428.06 185.04 L428.55 184.36 L429.05 183.69 L429.54 183.01 L430.03 182.34 L430.53 181.67 L431.02 180.99 L431.52 180.32 L432.01 179.65 L432.51 178.97 L433 178.3 L433.5 177.63 L433.99 176.96 L434.49 176.29 L434.99 175.62 L435.49 174.94 L435.99 174.27 L436.49 173.6 L436.99 172.93 L437.49 172.27 L437.99 171.6 L438.49 170.93 L438.99 170.26 L439.49 169.59 L439.99 168.92 L440.5 168.26 L441 167.59 L441.51 166.92 L442.01 166.26 L442.52 165.59 L443.02 164.93 L443.53 164.26 L444.04 163.6 L444.55 162.93 L445.06 162.27 L445.57 161.61 L446.08 160.95 L446.59 160.28 L447.1 159.62 L447.62 158.96 L448.13 158.3 L448.64 157.64 L449.16 156.98 L449.68 156.32 L450.19 155.66 L450.71 155 L451.23 154.34 L451.75 153.69 L452.27 153.03 L452.79 152.38 L453.32 151.72 L453.84 151.07 L454.36 150.41 L454.89 149.76 L455.42 149.11 L455.95 148.46 L456.48 147.81 L457.01 147.16 L457.54 146.51 L458.07 145.87 L458.61 145.22 L459.14 144.58 L459.68 143.94 L460.22 143.29 L460.76 142.65 L461.3 142.01 L461.84 141.37 L462.38 140.74 L462.93 140.1 L463.48 139.47 L464.03 138.84 L464.58 138.2 L465.13 137.57 L465.68 136.95 L466.24 136.32 L466.79 135.69 L467.35 135.07 L467.91 134.45 L468.47 133.83 L469.03 133.21 L469.6 132.59 L470.17 131.98 L470.74 131.36 L471.31 130.75 L471.88 130.14 L472.45 129.54 L473.03 128.93 L473.61 128.33 L474.19 127.72 L474.77 127.12 L475.35 126.53 L475.94 125.93 L476.53 125.34 L477.12 124.75 L477.71 124.16 L478.3 123.57 L478.9 122.98 L479.5 122.4 L480.1 121.81 L480.7 121.23 L481.3 120.65 L481.9 120.08 L482.51 119.5 L483.11 118.92 L483.72 118.35 L484.33 117.78 L484.94 117.21 L485.55 116.64 L486.17 116.07 L486.78 115.5 L487.39 114.94 L488.01 114.37 L488.63 113.81 L489.25 113.24 L489.87 112.68 L490.49 112.12 L491.11 111.56 L491.73 111 L492.35 110.44 L492.98 109.89 L493.6 109.33 L494.22 108.77 L494.85 108.22 L495.48 107.66 L496.1 107.11 L496.73 106.55 L497.36 106 L497.98 105.45 L498.61 104.89 L499.24 104.34 L499.87 103.79 L500.5 103.24 L501.12 102.68 L501.75 102.13 L502.38 101.58 L503.01 101.03 L503.64 100.48 L504.27 99.92 L504.9 99.37 L505.52 98.82 L506.15 98.27 L506.78 97.72 L507.41 97.16 L508.03 96.61 L508.66 96.06 L509.29 95.5 L509.91 94.95 L510.54 94.39 L511.16 93.84 L511.79 93.28 L512.41 92.72 L513.03 92.17 L513.65 91.61 L514.28 91.05 L514.9 90.49 L515.52 89.93 L516.13 89.37 L516.75 88.8 L517.37 88.24 L517.98 87.68 L518.6 87.11 L519.21 86.54 L519.83 85.98 L520.44 85.41 L521.05 84.84 L521.66 84.26 L522.27 83.69 L522.87 83.12 L523.48 82.54 L524.09 81.97 L524.7 81.39 L525.3 80.82 L525.91 80.24 L526.52 79.67 L527.12 79.1 L527.73 78.52 L528.34 77.95 L528.95 77.38 L529.56 76.81 L530.17 76.24 L530.79 75.68 L531.4 75.11 L532.02 74.55 L532.64 73.99 L533.27 73.43 L533.89 72.88 L534.52 72.33 L535.14 71.78 L535.77 71.23 L536.41 70.68 L537.04 70.14 L537.67 69.59 L538.31 69.05 L538.95 68.51 L539.59 67.97 L540.22 67.44 L540.87 66.9 L541.51 66.36 L542.15 65.83 L542.79 65.29 L543.44 64.76 L544.08 64.23 L544.72 63.7 L545.37 63.16 L546.02 62.63 L546.66 62.1 L547.31 61.57 L547.96 61.05 L548.61 60.52 L549.26 59.99 L549.91 59.46 L550.56 58.94 L551.21 58.41 L551.86 57.89 L552.51 57.37 L553.17 56.84 L553.82 56.32 L554.48 55.8 L555.13 55.28 L555.79 54.76 L556.44 54.24 L557.1 53.73 L557.76 53.21 L558.42 52.69 L559.08 52.18 L559.74 51.66 L560.4 51.15 L561.06 50.64 L561.72 50.13 L562.39 49.62 L563.05 49.11 L563.72 48.6 L564.38 48.09 L565.05 47.58 L565.71 47.07 L566.38 46.57 L567.05 46.06 L567.72 45.56 L568.39 45.06 L569.06 44.56 L569.73 44.06 L570.4 43.56 L571.07 43.06 L571.74 42.56 L572.42 42.06 L573.09 41.56 L573.77 41.07 L574.44 40.57 L575.12 40.08 L575.8 39.59 L576.48 39.1 L577.15 38.61 L577.83 38.12 L578.51 37.63 L579.19 37.14 L579.88 36.66 L580.56 36.17 L581.24 35.69 L581.92 35.2 L582.61 34.72 L583.29 34.24 L583.98 33.76 L584.67 33.28 L585.35 32.8 L586.04 32.33 L586.73 31.85 L587.42 31.38 L588.11 30.9 L588.8 30.43 L589.49 29.96 L590.18 29.49 L590.88 29.02 L591.57 28.55 L592.27 28.09 L592.96 27.62 L593.66 27.16 L594.36 26.69 L595.05 26.23 L595.75 25.77 L596.45 25.31 L597.15 24.85 L597.85 24.39 L598.55 23.94 L599.25 23.48 L599.96 23.03 L600.66 22.58 L601.37 22.12 L602.07 21.67 L602.78 21.22 L603.48 20.78 L604.19 20.33 L604.9 19.88 L605.61 19.44 L606.32 19 L607.03 18.56 L607.74 18.12 L608.45 17.68 L609.16 17.24 L609.88 16.8 L610.59 16.37 L611.31 15.93 L612.02 15.5 L612.74 15.07 L613.46 14.64 L614.17 14.21 L614.89 13.78 L615.61 13.36 L616.33 12.93 L617.05 12.51 L617.78 12.09 L618.5 11.67 L619.22 11.25 L619.95 10.83 L620.67 10.41 L621.4 10" fill="none" stroke="#ff0000" stroke-width="1.75" stroke-dasharray="4.41,1.47,1.47,1.47,1.47,1.47" clip-path="url(#clipb)"/>
<path d="M368.31 179.5 L368.56 178.69 L368.82 177.89 L369.09 177.09 L369.38 176.3 L369.67 175.51 L369.98 174.73 L370.3 173.96 L370.63 173.19 L370.96 172.43 L371.31 171.67 L371.67 170.92 L372.04 170.18 L372.41 169.44 L372.8 168.7 L373.19 167.97 L373.6 167.25 L374.01 166.53 L374.43 165.82 L374.85 165.11 L375.29 164.4 L375.73 163.7 L376.18 163 L376.63 162.31 L377.09 161.62 L377.56 160.93 L378.03 160.25 L378.51 159.57 L379 158.9 L379.49 158.23 L379.99 157.56 L380.49 156.89 L380.99 156.23 L381.5 155.57 L382.01 154.91 L382.53 154.26 L383.05 153.6 L383.57 152.95 L384.1 152.3 L384.63 151.66 L385.16 151.01 L385.7 150.37 L386.24 149.73 L386.78 149.09 L387.32 148.45 L387.86 147.82 L388.41 147.18 L388.95 146.55 L389.5 145.92 L390.05 145.28 L390.61 144.66 L391.16 144.03 L391.72 143.4 L392.27 142.78 L392.83 142.15 L393.4 141.53 L393.96 140.91 L394.52 140.29 L395.09 139.68 L395.66 139.06 L396.23 138.45 L396.8 137.83 L397.37 137.22 L397.94 136.61 L398.52 136 L399.1 135.39 L399.67 134.79 L400.25 134.18 L400.83 133.58 L401.41 132.97 L402 132.37 L402.58 131.77 L403.16 131.18 L403.75 130.58 L404.34 129.98 L404.92 129.39 L405.51 128.79 L406.1 128.2 L406.69 127.61 L407.28 127.02 L407.88 126.43 L408.47 125.85 L409.06 125.26 L409.66 124.68 L410.26 124.09 L410.85 123.51 L411.45 122.93 L412.06 122.36 L412.66 121.78 L413.26 121.21 L413.87 120.64 L414.48 120.07 L415.08 119.5 L415.7 118.94 L416.31 118.37 L416.92 117.81 L417.54 117.25 L418.16 116.7 L418.78 116.14 L419.4 115.59 L420.02 115.04 L420.65 114.5 L421.28 113.95 L421.91 113.41 L422.54 112.87 L423.18 112.34 L423.82 111.8 L424.46 111.27 L425.1 110.74 L425.75 110.22 L426.4 109.7 L427.05 109.18 L427.7 108.67 L428.36 108.15 L429.02 107.65 L429.68 107.14 L430.34 106.64 L431.01 106.14 L431.68 105.64 L432.35 105.15 L433.03 104.66 L433.71 104.17 L434.39 103.69 L435.07 103.2 L435.75 102.73 L436.44 102.25 L437.13 101.77 L437.82 101.3 L438.51 100.83 L439.2 100.36 L439.9 99.89 L440.6 99.43 L441.29 98.97 L441.99 98.51 L442.69 98.05 L443.39 97.59 L444.1 97.13 L444.8 96.68 L445.5 96.22 L446.21 95.77 L446.91 95.32 L447.62 94.87 L448.32 94.42 L449.03 93.97 L449.74 93.52 L450.44 93.07 L451.15 92.62 L451.86 92.18 L452.57 91.73 L453.28 91.29 L453.99 90.85 L454.7 90.4 L455.41 89.96 L456.12 89.52 L456.83 89.09 L457.54 88.65 L458.25 88.21 L458.97 87.78 L459.68 87.35 L460.4 86.92 L461.11 86.49 L461.83 86.06 L462.54 85.63 L463.26 85.21 L463.98 84.79 L464.7 84.37 L465.42 83.95 L466.15 83.53 L466.87 83.12 L467.59 82.71 L468.32 82.3 L469.04 81.89 L469.77 81.49 L470.5 81.08 L471.23 80.68 L471.96 80.28 L472.69 79.89 L473.43 79.5 L474.16 79.1 L474.9 78.72 L475.64 78.33 L476.37 77.95 L477.11 77.57 L477.86 77.19 L478.6 76.82 L479.34 76.44 L480.09 76.07 L480.83 75.7 L481.58 75.34 L482.33 74.97 L483.08 74.61 L483.83 74.25 L484.58 73.89 L485.33 73.53 L486.08 73.17 L486.84 72.82 L487.59 72.47 L488.35 72.12 L489.11 71.77 L489.86 71.42 L490.62 71.07 L491.38 70.72 L492.14 70.38 L492.9 70.03 L493.66 69.69 L494.42 69.35 L495.18 69.01 L495.95 68.67 L496.71 68.33 L497.47 68 L498.24 67.66 L499 67.33 L499.77 67 L500.54 66.67 L501.31 66.34 L502.08 66.02 L502.85 65.7 L503.62 65.37 L504.39 65.06 L505.16 64.74 L505.94 64.43 L506.71 64.11 L507.49 63.81 L508.26 63.5 L509.04 63.2 L509.82 62.89 L510.6 62.6 L511.38 62.3 L512.16 62.01 L512.95 61.72 L513.73 61.43 L514.52 61.15 L515.3 60.87 L516.09 60.59 L516.88 60.32 L517.67 60.05 L518.46 59.78 L519.25 59.52 L520.05 59.25 L520.84 58.99 L521.63 58.74 L522.43 58.48 L523.23 58.23 L524.02 57.99 L524.82 57.74 L525.62 57.5 L526.42 57.26 L527.22 57.02 L528.02 56.79 L528.83 56.56 L529.63 56.33 L530.43 56.1 L531.24 55.88 L532.04 55.66 L532.85 55.44 L533.66 55.23 L534.47 55.02 L535.28 54.81 L536.08 54.6 L536.89 54.4 L537.71 54.19 L538.52 53.99 L539.33 53.8 L540.14 53.6 L540.95 53.41 L541.77 53.22 L542.58 53.04 L543.4 52.85 L544.21 52.67 L545.03 52.49 L545.84 52.32 L546.66 52.14 L547.48 51.97 L548.3 51.8 L549.11 51.63 L549.93 51.47 L550.75 51.31 L551.57 51.15 L552.39 50.99 L553.21 50.83 L554.04 50.68 L554.86 50.53 L555.68 50.38 L556.5 50.24 L557.32 50.09 L558.15 49.95 L558.97 49.81 L559.8 49.68 L560.62 49.54 L561.45 49.41 L562.27 49.28 L563.1 49.15 L563.92 49.02 L564.75 48.9 L565.58 48.78 L566.4 48.66 L567.23 48.54 L568.06 48.43 L568.89 48.32 L569.72 48.21 L570.55 48.1 L571.37 47.99 L572.2 47.89 L573.03 47.78 L573.86 47.68 L574.69 47.59 L575.53 47.49 L576.36 47.4 L577.19 47.3 L578.02 47.21 L578.85 47.13 L579.68 47.04 L580.51 46.95 L581.35 46.87 L582.18 46.79 L583.01 46.71 L583.84 46.64 L584.68 46.56 L585.51 46.49 L586.34 46.42 L587.18 46.35 L588.01 46.28 L588.84 46.22 L589.68 46.16 L590.51 46.09 L591.35 46.03 L592.18 45.98 L593.02 45.92 L593.85 45.87 L594.68 45.81 L595.52 45.76 L596.35 45.71 L597.19 45.67 L598.02 45.62 L598.86 45.58 L599.69 45.54 L600.53 45.49 L601.36 45.46 L602.2 45.42 L603.03 45.38 L603.87 45.35 L604.7 45.32 L605.54 45.29 L606.38 45.26 L607.21 45.23 L608.05 45.21 L608.88 45.18 L609.72 45.16 L610.55 45.14 L611.39 45.12 L612.22 45.1 L613.06 45.08 L613.89 45.07 L614.73 45.05 L615.56 45.04 L616.39 45.03 L617.23 45.02 L618.06 45.02 L618.9 45.01 L619.73 45 L620.57 45 L621.4 45" fill="none" stroke="#bfbf00" stroke-width="1.75" stroke-dasharray="9.41,2.35,1.47,2.35" clip-path="url(#clipb)"/>
<path d="M368.5 239.5 L368.94 238.79 L369.38 238.08 L369.83 237.37 L370.27 236.66 L370.71 235.96 L371.16 235.25 L371.6 234.54 L372.05 233.83 L372.49 233.13 L372.93 232.42 L373.38 231.71 L373.82 231 L374.27 230.3 L374.72 229.59 L375.16 228.88 L375.61 228.18 L376.05 227.47 L376.5 226.77 L376.95 226.06 L377.39 225.35 L377.84 224.65 L378.29 223.94 L378.74 223.24 L379.19 222.53 L379.64 221.83 L380.08 221.12 L380.53 220.42 L380.98 219.72 L381.43 219.01 L381.89 218.31 L382.34 217.61 L382.79 216.9 L383.24 216.2 L383.69 215.5 L384.15 214.8 L384.6 214.1 L385.05 213.39 L385.51 212.69 L385.96 211.99 L386.42 211.29 L386.87 210.59 L387.33 209.89 L387.78 209.19 L388.24 208.49 L388.7 207.8 L389.16 207.1 L389.61 206.4 L390.07 205.7 L390.53 205.01 L390.99 204.31 L391.45 203.61 L391.92 202.92 L392.38 202.22 L392.84 201.53 L393.3 200.83 L393.77 200.14 L394.23 199.44 L394.7 198.75 L395.16 198.06 L395.63 197.36 L396.09 196.67 L396.56 195.98 L397.03 195.29 L397.5 194.6 L397.97 193.91 L398.44 193.22 L398.91 192.53 L399.38 191.84 L399.85 191.15 L400.33 190.46 L400.8 189.78 L401.27 189.09 L401.75 188.4 L402.23 187.72 L402.7 187.03 L403.18 186.35 L403.66 185.66 L404.14 184.98 L404.62 184.3 L405.1 183.62 L405.58 182.93 L406.06 182.25 L406.54 181.57 L407.03 180.89 L407.51 180.21 L408 179.53 L408.49 178.86 L408.97 178.18 L409.46 177.5 L409.95 176.83 L410.44 176.15 L410.93 175.48 L411.42 174.8 L411.92 174.13 L412.41 173.45 L412.9 172.78 L413.4 172.11 L413.9 171.44 L414.39 170.77 L414.89 170.1 L415.39 169.43 L415.89 168.76 L416.39 168.1 L416.9 167.43 L417.4 166.76 L417.9 166.1 L418.41 165.43 L418.92 164.77 L419.42 164.11 L419.93 163.44 L420.44 162.78 L420.95 162.12 L421.46 161.46 L421.98 160.8 L422.49 160.15 L423.01 159.49 L423.52 158.83 L424.04 158.17 L424.56 157.52 L425.08 156.87 L425.6 156.21 L426.12 155.56 L426.64 154.91 L427.17 154.26 L427.69 153.61 L428.22 152.96 L428.75 152.31 L429.28 151.66 L429.81 151.02 L430.34 150.37 L430.87 149.73 L431.41 149.08 L431.94 148.44 L432.48 147.8 L433.02 147.16 L433.56 146.52 L434.1 145.88 L434.64 145.25 L435.18 144.61 L435.73 143.98 L436.27 143.34 L436.82 142.71 L437.37 142.08 L437.92 141.45 L438.47 140.83 L439.02 140.2 L439.58 139.57 L440.14 138.95 L440.69 138.33 L441.25 137.71 L441.81 137.09 L442.37 136.47 L442.94 135.85 L443.5 135.24 L444.07 134.63 L444.64 134.01 L445.21 133.4 L445.78 132.8 L446.35 132.19 L446.93 131.58 L447.5 130.98 L448.08 130.38 L448.66 129.78 L449.24 129.18 L449.82 128.58 L450.41 127.99 L450.99 127.39 L451.58 126.8 L452.17 126.21 L452.76 125.62 L453.36 125.04 L453.95 124.45 L454.55 123.87 L455.14 123.29 L455.74 122.71 L456.35 122.14 L456.95 121.56 L457.56 120.99 L458.16 120.42 L458.77 119.85 L459.38 119.29 L460 118.72 L460.61 118.16 L461.23 117.6 L461.85 117.05 L462.47 116.49 L463.09 115.94 L463.71 115.39 L464.34 114.84 L464.97 114.29 L465.6 113.75 L466.23 113.21 L466.86 112.67 L467.5 112.13 L468.14 111.6 L468.78 111.07 L469.42 110.54 L470.06 110.01 L470.71 109.49 L471.36 108.96 L472.01 108.44 L472.66 107.93 L473.32 107.41 L473.97 106.9 L474.63 106.39 L475.29 105.89 L475.96 105.38 L476.62 104.88 L477.29 104.38 L477.96 103.89 L478.63 103.39 L479.31 102.9 L479.98 102.42 L480.66 101.93 L481.34 101.45 L482.03 100.97 L482.71 100.49 L483.4 100.02 L484.09 99.55 L484.78 99.08 L485.47 98.62 L486.17 98.15 L486.87 97.69 L487.57 97.24 L488.27 96.78 L488.97 96.33 L489.68 95.88 L490.39 95.44 L491.09 94.99 L491.81 94.55 L492.52 94.11 L493.23 93.68 L493.95 93.25 L494.67 92.82 L495.39 92.39 L496.11 91.96 L496.83 91.54 L497.56 91.12 L498.29 90.71 L499.02 90.29 L499.75 89.88 L500.48 89.47 L501.21 89.07 L501.95 88.66 L502.68 88.26 L503.42 87.86 L504.16 87.47 L504.9 87.08 L505.64 86.69 L506.39 86.3 L507.13 85.91 L507.88 85.53 L508.63 85.15 L509.38 84.77 L510.13 84.4 L510.88 84.03 L511.64 83.66 L512.39 83.29 L513.15 82.93 L513.9 82.57 L514.66 82.21 L515.42 81.85 L516.18 81.5 L516.94 81.15 L517.71 80.8 L518.47 80.45 L519.24 80.11 L520 79.77 L520.77 79.43 L521.54 79.09 L522.31 78.76 L523.08 78.43 L523.85 78.1 L524.62 77.77 L525.39 77.45 L526.17 77.13 L526.94 76.81 L527.72 76.49 L528.49 76.18 L529.27 75.87 L530.05 75.56 L530.83 75.26 L531.61 74.95 L532.39 74.65 L533.17 74.36 L533.96 74.06 L534.74 73.77 L535.53 73.48 L536.31 73.19 L537.1 72.91 L537.89 72.63 L538.67 72.35 L539.46 72.07 L540.25 71.8 L541.04 71.53 L541.84 71.26 L542.63 70.99 L543.42 70.73 L544.22 70.47 L545.01 70.21 L545.81 69.96 L546.6 69.71 L547.4 69.46 L548.2 69.21 L549 68.97 L549.79 68.73 L550.6 68.49 L551.4 68.26 L552.2 68.03 L553 67.8 L553.8 67.57 L554.61 67.35 L555.41 67.13 L556.22 66.91 L557.02 66.69 L557.83 66.48 L558.64 66.27 L559.44 66.07 L560.25 65.86 L561.06 65.66 L561.87 65.46 L562.68 65.27 L563.49 65.07 L564.3 64.88 L565.12 64.7 L565.93 64.51 L566.74 64.33 L567.56 64.15 L568.37 63.97 L569.19 63.8 L570 63.63 L570.82 63.46 L571.64 63.29 L572.45 63.13 L573.27 62.96 L574.09 62.8 L574.91 62.65 L575.73 62.49 L576.55 62.34 L577.37 62.19 L578.19 62.05 L579.01 61.9 L579.84 61.76 L580.66 61.62 L581.48 61.48 L582.31 61.35 L583.13 61.21 L583.95 61.08 L584.78 60.95 L585.6 60.83 L586.43 60.7 L587.26 60.58 L588.08 60.46 L588.91 60.35 L589.74 60.23 L590.57 60.12 L591.39 60.01 L592.22 59.9 L593.05 59.79 L593.88 59.69 L594.71 59.59 L595.54 59.49 L596.37 59.39 L597.2 59.29 L598.03 59.2 L598.86 59.1 L599.7 59.01 L600.53 58.93 L601.36 58.84 L602.19 58.76 L603.02 58.67 L603.86 58.59 L604.69 58.51 L605.52 58.44 L606.36 58.36 L607.19 58.29 L608.03 58.22 L608.86 58.15 L609.7 58.08 L610.53 58.01 L611.37 57.95 L612.2 57.89 L613.04 57.83 L613.87 57.77 L614.71 57.71 L615.54 57.65 L616.38 57.6 L617.22 57.55 L618.05 57.5 L618.89 57.45 L619.73 57.4 L620.56 57.35 L621.4 57.31" fill="none" stroke="#008000" stroke-width="1.75" stroke-dasharray="1.47,2.43" clip-path="url(#clipb)"/>
<path d="M368.48 236.49 L368.86 235.75 L369.24 235 L369.63 234.26 L370.01 233.52 L370.4 232.78 L370.79 232.04 L371.18 231.31 L371.57 230.57 L371.97 229.83 L372.36 229.1 L372.76 228.37 L373.16 227.63 L373.56 226.9 L373.96 226.17 L374.37 225.44 L374.77 224.71 L375.18 223.99 L375.59 223.26 L376 222.53 L376.42 221.81 L376.83 221.08 L377.25 220.36 L377.66 219.64 L378.08 218.92 L378.5 218.2 L378.93 217.48 L379.35 216.76 L379.77 216.04 L380.2 215.32 L380.63 214.61 L381.06 213.89 L381.49 213.18 L381.92 212.47 L382.35 211.75 L382.79 211.04 L383.22 210.33 L383.66 209.62 L384.1 208.91 L384.54 208.2 L384.98 207.49 L385.42 206.78 L385.86 206.08 L386.31 205.37 L386.75 204.66 L387.2 203.96 L387.65 203.25 L388.1 202.55 L388.55 201.85 L389 201.14 L389.45 200.44 L389.91 199.74 L390.36 199.04 L390.82 198.34 L391.27 197.64 L391.73 196.94 L392.19 196.25 L392.65 195.55 L393.11 194.85 L393.57 194.16 L394.03 193.46 L394.5 192.77 L394.96 192.07 L395.43 191.38 L395.89 190.68 L396.36 189.99 L396.83 189.3 L397.3 188.61 L397.77 187.92 L398.24 187.23 L398.71 186.54 L399.18 185.85 L399.65 185.16 L400.13 184.47 L400.6 183.78 L401.08 183.09 L401.55 182.41 L402.03 181.72 L402.51 181.03 L402.99 180.35 L403.47 179.66 L403.95 178.98 L404.43 178.3 L404.91 177.61 L405.39 176.93 L405.87 176.25 L406.36 175.56 L406.84 174.88 L407.32 174.2 L407.81 173.52 L408.29 172.84 L408.78 172.16 L409.27 171.48 L409.75 170.8 L410.24 170.12 L410.73 169.44 L411.22 168.76 L411.71 168.08 L412.2 167.41 L412.69 166.73 L413.18 166.05 L413.67 165.38 L414.16 164.7 L414.66 164.02 L415.15 163.35 L415.64 162.67 L416.14 162 L416.63 161.33 L417.13 160.65 L417.62 159.98 L418.12 159.31 L418.62 158.63 L419.12 157.96 L419.61 157.29 L420.11 156.62 L420.61 155.95 L421.11 155.28 L421.62 154.61 L422.12 153.94 L422.62 153.27 L423.12 152.61 L423.63 151.94 L424.13 151.27 L424.64 150.61 L425.14 149.94 L425.65 149.28 L426.15 148.61 L426.66 147.95 L427.17 147.29 L427.68 146.62 L428.19 145.96 L428.7 145.3 L429.21 144.64 L429.72 143.98 L430.24 143.32 L430.75 142.66 L431.27 142 L431.78 141.34 L432.3 140.69 L432.81 140.03 L433.33 139.38 L433.85 138.72 L434.37 138.07 L434.89 137.41 L435.41 136.76 L435.93 136.11 L436.45 135.45 L436.97 134.8 L437.5 134.15 L438.02 133.5 L438.55 132.86 L439.07 132.21 L439.6 131.56 L440.13 130.91 L440.66 130.27 L441.19 129.62 L441.72 128.98 L442.25 128.33 L442.78 127.69 L443.31 127.05 L443.85 126.41 L444.38 125.77 L444.92 125.13 L445.46 124.49 L445.99 123.85 L446.53 123.21 L447.07 122.58 L447.61 121.94 L448.15 121.3 L448.7 120.67 L449.24 120.04 L449.78 119.41 L450.33 118.77 L450.88 118.14 L451.42 117.51 L451.97 116.88 L452.52 116.26 L453.07 115.63 L453.62 115 L454.17 114.38 L454.73 113.75 L455.28 113.13 L455.83 112.51 L456.39 111.89 L456.95 111.26 L457.51 110.64 L458.07 110.03 L458.63 109.41 L459.19 108.79 L459.75 108.17 L460.31 107.56 L460.88 106.95 L461.44 106.33 L462.01 105.72 L462.58 105.11 L463.15 104.5 L463.72 103.89 L464.29 103.28 L464.86 102.68 L465.43 102.07 L466.01 101.46 L466.58 100.86 L467.16 100.26 L467.74 99.66 L468.31 99.05 L468.89 98.45 L469.47 97.86 L470.06 97.26 L470.64 96.66 L471.22 96.06 L471.81 95.47 L472.39 94.88 L472.98 94.28 L473.57 93.69 L474.16 93.1 L474.75 92.51 L475.34 91.92 L475.93 91.33 L476.52 90.74 L477.12 90.16 L477.71 89.57 L478.31 88.99 L478.9 88.4 L479.5 87.82 L480.1 87.24 L480.7 86.66 L481.3 86.07 L481.9 85.5 L482.5 84.92 L483.1 84.34 L483.71 83.76 L484.31 83.19 L484.92 82.61 L485.53 82.04 L486.13 81.46 L486.74 80.89 L487.35 80.32 L487.96 79.75 L488.57 79.18 L489.18 78.61 L489.79 78.04 L490.41 77.47 L491.02 76.91 L491.64 76.34 L492.25 75.78 L492.87 75.21 L493.49 74.65 L494.1 74.09 L494.72 73.52 L495.34 72.96 L495.96 72.4 L496.58 71.84 L497.2 71.28 L497.83 70.73 L498.45 70.17 L499.07 69.61 L499.7 69.06 L500.32 68.5 L500.95 67.95 L501.58 67.39 L502.2 66.84 L502.83 66.29 L503.46 65.74 L504.09 65.19 L504.72 64.64 L505.35 64.09 L505.98 63.54 L506.61 62.99 L507.25 62.44 L507.88 61.9 L508.51 61.35 L509.15 60.8 L509.78 60.26 L510.42 59.72 L511.05 59.17 L511.69 58.63 L512.33 58.09 L512.96 57.55 L513.6 57.01 L514.24 56.47 L514.88 55.93 L515.52 55.39 L516.16 54.85 L516.8 54.31 L517.44 53.78 L518.09 53.24 L518.73 52.71 L519.37 52.17 L520.02 51.64 L520.66 51.1 L521.3 50.57 L521.95 50.04 L522.59 49.5 L523.24 48.97 L523.89 48.44 L524.53 47.91 L525.18 47.38 L525.83 46.85 L526.48 46.32 L527.12 45.8 L527.77 45.27 L528.42 44.74 L529.07 44.21 L529.72 43.69 L530.37 43.16 L531.02 42.64 L531.67 42.11 L532.33 41.59 L532.98 41.07 L533.63 40.54 L534.28 40.02 L534.94 39.5 L535.59 38.98 L536.24 38.46 L536.9 37.94 L537.55 37.42 L538.21 36.9 L538.87 36.38 L539.52 35.87 L540.18 35.35 L540.84 34.83 L541.49 34.32 L542.15 33.8 L542.81 33.29 L543.47 32.78 L544.13 32.27 L544.79 31.76 L545.45 31.24 L546.11 30.74 L546.78 30.23 L547.44 29.72 L548.1 29.21 L548.77 28.7 L549.43 28.2 L550.1 27.69 L550.76 27.19 L551.43 26.69 L552.1 26.19 L552.76 25.68 L553.43 25.18 L554.1 24.69 L554.77 24.19 L555.44 23.69 L556.11 23.19 L556.78 22.7 L557.46 22.2 L558.13 21.71 L558.8 21.22 L559.48 20.73 L560.15 20.24 L560.83 19.75 L561.51 19.26 L562.18 18.77 L562.86 18.29 L563.54 17.8 L564.22 17.32 L564.9 16.83 L565.58 16.35 L566.27 15.87 L566.95 15.39 L567.63 14.91 L568.32 14.44 L569 13.96 L569.69 13.49 L570.38 13.01 L571.06 12.54 L571.75 12.07 L572.44 11.6 L573.13 11.13 L573.83 10.66 L574.52 10.2 L575.21 9.73 L575.91 9.27 L576.6 8.81 L577.3 8.35 L577.99 7.89 L578.69 7.43 L579.39 6.97 L580.09 6.52 L580.79 6.07 L581.49 5.61 L582.2 5.16 L582.9 4.71 L583.61 4.26 L584.31 3.82 L585.02 3.37 L585.73 2.93 L586.44 2.49 L587.15 2.04 L587.86 1.61 L588.57 1.17 L589.28 0.73 L590 0.3" fill="none" stroke="#bf00bf" stroke-width="1.75" stroke-dasharray="5.44,2.35" clip-path="url(#clipb)"/>
<path d="M368.49 237.99 L368.87 237.24 L369.25 236.49 L369.64 235.75 L370.03 235 L370.42 234.26 L370.81 233.52 L371.2 232.78 L371.6 232.04 L372 231.31 L372.41 230.57 L372.81 229.84 L373.22 229.11 L373.63 228.38 L374.04 227.65 L374.46 226.92 L374.87 226.2 L375.29 225.48 L375.71 224.75 L376.14 224.03 L376.56 223.32 L376.99 222.6 L377.42 221.88 L377.85 221.17 L378.28 220.45 L378.72 219.74 L379.16 219.03 L379.6 218.32 L380.04 217.61 L380.48 216.91 L380.92 216.2 L381.37 215.49 L381.82 214.79 L382.27 214.09 L382.72 213.39 L383.17 212.69 L383.62 211.99 L384.08 211.29 L384.53 210.59 L384.99 209.89 L385.45 209.2 L385.91 208.5 L386.37 207.81 L386.84 207.11 L387.3 206.42 L387.76 205.73 L388.23 205.04 L388.7 204.35 L389.17 203.66 L389.64 202.97 L390.11 202.28 L390.58 201.59 L391.05 200.9 L391.52 200.22 L392 199.53 L392.47 198.84 L392.95 198.16 L393.43 197.47 L393.9 196.79 L394.38 196.1 L394.86 195.42 L395.34 194.73 L395.82 194.05 L396.3 193.37 L396.78 192.68 L397.26 192 L397.74 191.32 L398.22 190.64 L398.7 189.95 L399.19 189.27 L399.67 188.59 L400.15 187.91 L400.63 187.23 L401.12 186.54 L401.6 185.86 L402.08 185.18 L402.57 184.5 L403.05 183.81 L403.53 183.13 L404.02 182.45 L404.5 181.77 L404.99 181.08 L405.47 180.4 L405.95 179.72 L406.44 179.04 L406.92 178.35 L407.41 177.67 L407.89 176.99 L408.38 176.31 L408.86 175.62 L409.35 174.94 L409.83 174.26 L410.32 173.58 L410.81 172.9 L411.29 172.21 L411.78 171.53 L412.26 170.85 L412.75 170.17 L413.24 169.49 L413.73 168.81 L414.22 168.13 L414.7 167.45 L415.19 166.77 L415.68 166.09 L416.17 165.41 L416.66 164.73 L417.15 164.05 L417.64 163.37 L418.13 162.69 L418.62 162.01 L419.12 161.33 L419.61 160.65 L420.1 159.97 L420.59 159.3 L421.09 158.62 L421.58 157.94 L422.08 157.27 L422.57 156.59 L423.07 155.91 L423.56 155.24 L424.06 154.56 L424.56 153.89 L425.05 153.22 L425.55 152.54 L426.05 151.87 L426.55 151.2 L427.05 150.52 L427.55 149.85 L428.05 149.18 L428.55 148.51 L429.06 147.84 L429.56 147.17 L430.06 146.5 L430.57 145.83 L431.07 145.16 L431.58 144.49 L432.08 143.83 L432.59 143.16 L433.1 142.49 L433.61 141.83 L434.12 141.16 L434.63 140.5 L435.14 139.84 L435.65 139.17 L436.16 138.51 L436.67 137.85 L437.19 137.19 L437.7 136.53 L438.22 135.87 L438.73 135.21 L439.25 134.55 L439.77 133.89 L440.29 133.24 L440.81 132.58 L441.33 131.93 L441.85 131.27 L442.37 130.62 L442.9 129.97 L443.42 129.31 L443.95 128.66 L444.47 128.01 L445 127.36 L445.53 126.71 L446.06 126.07 L446.59 125.42 L447.12 124.77 L447.65 124.13 L448.18 123.48 L448.72 122.84 L449.25 122.2 L449.79 121.56 L450.33 120.92 L450.86 120.28 L451.4 119.64 L451.94 119 L452.48 118.36 L453.03 117.73 L453.57 117.09 L454.12 116.46 L454.66 115.82 L455.21 115.19 L455.76 114.56 L456.31 113.93 L456.86 113.3 L457.41 112.68 L457.96 112.05 L458.52 111.42 L459.07 110.8 L459.63 110.18 L460.19 109.55 L460.75 108.93 L461.31 108.31 L461.87 107.7 L462.43 107.08 L463 106.46 L463.56 105.85 L464.13 105.23 L464.7 104.62 L465.27 104.01 L465.84 103.4 L466.41 102.79 L466.98 102.18 L467.56 101.58 L468.14 100.97 L468.71 100.37 L469.29 99.76 L469.87 99.16 L470.45 98.56 L471.03 97.96 L471.62 97.36 L472.2 96.76 L472.79 96.17 L473.38 95.57 L473.96 94.98 L474.55 94.38 L475.14 93.79 L475.73 93.2 L476.33 92.61 L476.92 92.02 L477.52 91.43 L478.11 90.84 L478.71 90.26 L479.31 89.67 L479.9 89.09 L480.5 88.5 L481.11 87.92 L481.71 87.34 L482.31 86.76 L482.91 86.18 L483.52 85.6 L484.12 85.02 L484.73 84.45 L485.34 83.87 L485.95 83.29 L486.56 82.72 L487.17 82.15 L487.78 81.57 L488.39 81 L489 80.43 L489.62 79.86 L490.23 79.29 L490.85 78.72 L491.46 78.15 L492.08 77.59 L492.7 77.02 L493.32 76.46 L493.93 75.89 L494.55 75.33 L495.17 74.76 L495.8 74.2 L496.42 73.64 L497.04 73.08 L497.66 72.52 L498.29 71.96 L498.91 71.4 L499.54 70.84 L500.17 70.28 L500.79 69.72 L501.42 69.17 L502.05 68.61 L502.68 68.06 L503.3 67.5 L503.93 66.95 L504.56 66.39 L505.2 65.84 L505.83 65.29 L506.46 64.74 L507.09 64.19 L507.72 63.63 L508.36 63.08 L508.99 62.54 L509.62 61.99 L510.26 61.44 L510.89 60.89 L511.53 60.34 L512.17 59.79 L512.8 59.25 L513.44 58.7 L514.08 58.15 L514.71 57.61 L515.35 57.06 L515.99 56.52 L516.63 55.98 L517.27 55.43 L517.91 54.89 L518.55 54.35 L519.18 53.8 L519.82 53.26 L520.46 52.72 L521.11 52.18 L521.75 51.64 L522.39 51.09 L523.03 50.55 L523.67 50.01 L524.31 49.47 L524.95 48.93 L525.59 48.39 L526.24 47.85 L526.88 47.32 L527.52 46.78 L528.16 46.24 L528.81 45.7 L529.45 45.16 L530.09 44.62 L530.73 44.09 L531.38 43.55 L532.02 43.01 L532.66 42.48 L533.31 41.94 L533.95 41.4 L534.59 40.87 L535.24 40.33 L535.88 39.8 L536.53 39.26 L537.17 38.73 L537.81 38.19 L538.46 37.66 L539.11 37.13 L539.75 36.59 L540.4 36.06 L541.04 35.53 L541.69 35 L542.34 34.47 L542.99 33.94 L543.64 33.41 L544.28 32.89 L544.93 32.36 L545.58 31.83 L546.23 31.31 L546.89 30.78 L547.54 30.26 L548.19 29.74 L548.84 29.21 L549.5 28.69 L550.15 28.17 L550.81 27.65 L551.46 27.14 L552.12 26.62 L552.78 26.1 L553.44 25.59 L554.09 25.07 L554.75 24.56 L555.41 24.05 L556.08 23.54 L556.74 23.03 L557.4 22.52 L558.07 22.01 L558.73 21.51 L559.4 21.01 L560.07 20.5 L560.73 20 L561.4 19.5 L562.07 19 L562.75 18.51 L563.42 18.01 L564.09 17.52 L564.77 17.02 L565.44 16.53 L566.12 16.04 L566.8 15.55 L567.48 15.07 L568.16 14.58 L568.84 14.1 L569.53 13.62 L570.21 13.14 L570.9 12.66 L571.58 12.18 L572.27 11.71 L572.96 11.24 L573.65 10.77 L574.35 10.3 L575.04 9.83 L575.74 9.37 L576.44 8.9 L577.14 8.44 L577.84 7.98 L578.54 7.52 L579.24 7.07 L579.95 6.62 L580.65 6.17 L581.36 5.72 L582.07 5.27 L582.79 4.82 L583.5 4.38 L584.21 3.94 L584.93 3.5 L585.65 3.07 L586.37 2.64 L587.09 2.2 L587.82 1.78 L588.55 1.35 L589.27 0.93 L590 0.5" fill="none" stroke="#0000ff" stroke-width="1.75" clip-path="url(#clipb)"/>
<path d="M508.5 256 L509.09 255.39 L509.68 254.79 L510.27 254.19 L510.86 253.59 L511.46 252.99 L512.06 252.4 L512.66 251.81 L513.27 251.22 L513.87 250.64 L514.48 250.06 L515.09 249.47 L515.71 248.9 L516.32 248.32 L516.94 247.75 L517.56 247.18 L518.18 246.61 L518.8 246.04 L519.43 245.48 L520.05 244.91 L520.68 244.35 L521.31 243.8 L521.94 243.24 L522.58 242.68 L523.21 242.13 L523.85 241.58 L524.49 241.03 L525.13 240.48 L525.77 239.94 L526.41 239.39 L527.05 238.85 L527.7 238.31 L528.34 237.77 L528.99 237.23 L529.64 236.69 L530.29 236.16 L530.94 235.62 L531.59 235.09 L532.24 234.56 L532.9 234.02 L533.55 233.49 L534.2 232.96 L534.86 232.44 L535.52 231.91 L536.17 231.38 L536.83 230.86 L537.49 230.33 L538.15 229.81 L538.81 229.28 L539.47 228.76 L540.13 228.24 L540.79 227.72 L541.45 227.19 L542.12 226.67 L542.78 226.15 L543.44 225.63 L544.1 225.11 L544.77 224.59 L545.43 224.07 L546.09 223.55 L546.76 223.04 L547.42 222.52 L548.09 222 L548.75 221.48 L549.42 220.97 L550.08 220.45 L550.75 219.94 L551.42 219.42 L552.08 218.91 L552.75 218.4 L553.42 217.89 L554.09 217.37 L554.76 216.86 L555.43 216.35 L556.1 215.85 L556.77 215.34 L557.45 214.83 L558.12 214.33 L558.79 213.82 L559.47 213.32 L560.15 212.82 L560.82 212.32 L561.5 211.82 L562.18 211.32 L562.86 210.82 L563.54 210.33 L564.22 209.83 L564.91 209.34 L565.59 208.85 L566.27 208.36 L566.96 207.87 L567.65 207.38 L568.34 206.89 L569.02 206.41 L569.71 205.92 L570.41 205.44 L571.1 204.96 L571.79 204.48 L572.48 204.01 L573.18 203.53 L573.88 203.06 L574.57 202.59 L575.27 202.12 L575.97 201.65 L576.67 201.18 L577.38 200.72 L578.08 200.25 L578.78 199.79 L579.49 199.33 L580.2 198.87 L580.9 198.42 L581.61 197.96 L582.32 197.51 L583.03 197.06 L583.74 196.6 L584.45 196.15 L585.16 195.7 L585.87 195.25 L586.59 194.8 L587.3 194.36 L588.01 193.91 L588.73 193.46 L589.44 193.01 L590.15 192.57 L590.87 192.12 L591.58 191.67 L592.3 191.22 L593.01 190.78 L593.72 190.33 L594.44 189.88 L595.15 189.43 L595.86 188.98 L596.58 188.53 L597.29 188.08 L598 187.63 L598.71 187.18 L599.42 186.73 L600.14 186.28 L600.85 185.83 L601.56 185.38 L602.28 184.94 L602.99 184.49 L603.71 184.04 L604.43 183.6 L605.14 183.16 L605.86 182.72 L606.58 182.28 L607.3 181.85 L608.03 181.42 L608.75 180.99 L609.48 180.56 L610.2 180.14 L610.93 179.72 L611.66 179.3 L612.4 178.89 L613.13 178.48 L613.87 178.08 L614.61 177.68 L615.35 177.28 L616.1 176.89 L616.85 176.5 L617.6 176.12 L618.35 175.75 L619.11 175.38 L619.87 175.01 L620.63 174.65 L621.4 174.3" fill="none" stroke="#000000" stroke-width="1.75" clip-path="url(#clipb)"/>
<g clip-path="url(#clipb)"><circle cx="510.74" cy="253.71" r="2.0" fill="#000000" stroke="none"/><circle cx="526.46" cy="239.35" r="2.0" fill="#000000" stroke="none"/><circle cx="543.02" cy="225.96" r="2.0" fill="#000000" stroke="none"/><circle cx="559.92" cy="212.99" r="2.0" fill="#000000" stroke="none"/><circle cx="577.34" cy="200.74" r="2.0" fill="#000000" stroke="none"/><circle cx="595.32" cy="189.32" r="2.0" fill="#000000" stroke="none"/><circle cx="613.52" cy="178.27" r="2.0" fill="#000000" stroke="none"/></g>
<path d="M369.9 169.21 L369.92 168.3 L369.97 167.41 L370.03 166.52 L370.11 165.64 L370.21 164.77 L370.33 163.91 L370.46 163.06 L370.61 162.21 L370.77 161.38 L370.95 160.55 L371.15 159.72 L371.36 158.91 L371.59 158.1 L371.83 157.3 L372.08 156.51 L372.35 155.72 L372.64 154.94 L372.93 154.17 L373.24 153.4 L373.57 152.64 L373.9 151.89 L374.25 151.15 L374.61 150.41 L374.98 149.67 L375.36 148.94 L375.76 148.22 L376.16 147.51 L376.57 146.79 L377 146.09 L377.43 145.39 L377.87 144.7 L378.33 144.01 L378.79 143.32 L379.26 142.64 L379.73 141.97 L380.22 141.3 L380.71 140.64 L381.21 139.98 L381.72 139.32 L382.23 138.67 L382.75 138.02 L383.28 137.38 L383.81 136.74 L384.34 136.11 L384.89 135.48 L385.43 134.85 L385.98 134.22 L386.54 133.6 L387.1 132.99 L387.66 132.37 L388.22 131.76 L388.79 131.15 L389.36 130.55 L389.94 129.95 L390.52 129.35 L391.1 128.75 L391.68 128.16 L392.27 127.57 L392.86 126.98 L393.45 126.39 L394.04 125.81 L394.64 125.23 L395.24 124.65 L395.84 124.08 L396.45 123.51 L397.05 122.94 L397.66 122.37 L398.28 121.81 L398.89 121.25 L399.51 120.69 L400.13 120.13 L400.75 119.58 L401.38 119.03 L402.01 118.48 L402.63 117.93 L403.27 117.38 L403.9 116.84 L404.54 116.3 L405.17 115.76 L405.81 115.22 L406.46 114.69 L407.1 114.16 L407.75 113.63 L408.4 113.1 L409.05 112.57 L409.7 112.05 L410.35 111.52 L411.01 111 L411.66 110.48 L412.32 109.97 L412.98 109.45 L413.65 108.94 L414.31 108.43 L414.98 107.91 L415.64 107.41 L416.31 106.9 L416.98 106.39 L417.65 105.89 L418.33 105.39 L419 104.88 L419.68 104.38 L420.36 103.88 L421.03 103.39 L421.71 102.89 L422.39 102.4 L423.08 101.9 L423.76 101.41 L424.44 100.92 L425.13 100.43 L425.82 99.94 L426.5 99.45 L427.19 98.96 L427.88 98.48 L428.57 97.99 L429.26 97.51 L429.95 97.03 L430.65 96.54 L431.34 96.06 L432.03 95.58 L432.73 95.1 L433.42 94.62 L434.12 94.15 L434.81 93.67 L435.51 93.19 L436.21 92.71 L436.91 92.24 L437.61 91.76 L438.3 91.29 L439 90.81 L439.7 90.34 L440.4 89.87 L441.1 89.39 L441.8 88.92 L442.5 88.45 L443.2 87.97 L443.9 87.5 L444.6 87.03 L445.31 86.56 L446.01 86.09 L446.71 85.62 L447.41 85.14 L448.11 84.67 L448.81 84.2 L449.51 83.73 L450.21 83.26 L450.91 82.79 L451.61 82.32 L452.31 81.84 L453.01 81.37 L453.7 80.9 L454.4 80.43 L455.1 79.95 L455.8 79.48 L456.49 79.01 L457.19 78.53 L457.88 78.06 L458.58 77.58 L459.27 77.11 L459.97 76.63 L460.66 76.16 L461.35 75.68 L462.05 75.21 L462.74 74.73 L463.43 74.25 L464.12 73.78 L464.81 73.3 L465.5 72.82 L466.19 72.34 L466.88 71.87 L467.57 71.39 L468.26 70.91 L468.95 70.43 L469.64 69.95 L470.33 69.47 L471.02 68.99 L471.7 68.51 L472.39 68.03 L473.08 67.55 L473.76 67.07 L474.45 66.59 L475.14 66.11 L475.82 65.63 L476.51 65.15 L477.19 64.67 L477.88 64.19 L478.56 63.71 L479.25 63.23 L479.93 62.75 L480.61 62.26 L481.3 61.78 L481.98 61.3 L482.66 60.82 L483.35 60.34 L484.03 59.86 L484.71 59.37 L485.4 58.89 L486.08 58.41 L486.76 57.93 L487.44 57.44 L488.13 56.96 L488.81 56.48 L489.49 56 L490.17 55.51 L490.85 55.03 L491.53 54.55 L492.22 54.06 L492.9 53.58 L493.58 53.1 L494.26 52.62 L494.94 52.13 L495.62 51.65 L496.3 51.17 L496.98 50.69 L497.66 50.2 L498.35 49.72 L499.03 49.24 L499.71 48.76 L500.39 48.27 L501.07 47.79 L501.75 47.31 L502.43 46.83 L503.11 46.34 L503.79 45.86 L504.47 45.38 L505.16 44.9 L505.84 44.42 L506.52 43.93 L507.2 43.45 L507.88 42.97 L508.56 42.49 L509.25 42.01 L509.93 41.53 L510.61 41.05 L511.29 40.57 L511.97 40.08 L512.66 39.6 L513.34 39.12 L514.02 38.64 L514.71 38.16 L515.39 37.68 L516.07 37.2 L516.76 36.73 L517.44 36.25 L518.12 35.77 L518.81 35.29 L519.49 34.81 L520.18 34.33 L520.86 33.85 L521.55 33.38 L522.23 32.9 L522.92 32.42 L523.6 31.95 L524.29 31.47 L524.98 30.99 L525.66 30.52 L526.35 30.04 L527.04 29.56 L527.73 29.09 L528.42 28.61 L529.1 28.14 L529.79 27.67 L530.48 27.19 L531.17 26.72 L531.86 26.25 L532.55 25.77 L533.24 25.3 L533.94 24.83 L534.63 24.36 L535.32 23.88 L536.01 23.41 L536.7 22.94 L537.4 22.47 L538.09 22 L538.79 21.53 L539.48 21.06 L540.18 20.59 L540.87 20.13 L541.57 19.66 L542.26 19.19 L542.96 18.72 L543.66 18.26 L544.36 17.79 L545.06 17.33 L545.76 16.86 L546.46 16.4 L547.16 15.93 L547.86 15.47 L548.56 15.01 L549.26 14.54 L549.96 14.08 L550.67 13.62 L551.37 13.16 L552.08 12.7 L552.78 12.24 L553.49 11.78 L554.19 11.32 L554.9 10.86 L555.61 10.4 L556.32 9.94 L557.02 9.49 L557.73 9.03 L558.44 8.57 L559.16 8.12 L559.87 7.66 L560.58 7.21 L561.29 6.76 L562.01 6.3" fill="none" stroke="#00bfbf" stroke-width="1.75" clip-path="url(#clipb)"/>
<g clip-path="url(#clipb)"><circle cx="369.9" cy="169.21" r="2.6" fill="none" stroke="#00bfbf" stroke-width="1"/><circle cx="375.42" cy="148.85" r="2.6" fill="none" stroke="#00bfbf" stroke-width="1"/><circle cx="388.15" cy="131.84" r="2.6" fill="none" stroke="#00bfbf" stroke-width="1"/><circle cx="403.55" cy="117.14" r="2.6" fill="none" stroke="#00bfbf" stroke-width="1"/><circle cx="420.26" cy="103.95" r="2.6" fill="none" stroke="#00bfbf" stroke-width="1"/><circle cx="437.69" cy="91.71" r="2.6" fill="none" stroke="#00bfbf" stroke-width="1"/><circle cx="455.34" cy="79.79" r="2.6" fill="none" stroke="#00bfbf" stroke-width="1"/><circle cx="472.88" cy="67.69" r="2.6" fill="none" stroke="#00bfbf" stroke-width="1"/><circle cx="490.29" cy="55.43" r="2.6" fill="none" stroke="#00bfbf" stroke-width="1"/><circle cx="507.67" cy="43.12" r="2.6" fill="none" stroke="#00bfbf" stroke-width="1"/><circle cx="525.12" cy="30.9" r="2.6" fill="none" stroke="#00bfbf" stroke-width="1"/><circle cx="542.71" cy="18.89" r="2.6" fill="none" stroke="#00bfbf" stroke-width="1"/><circle cx="560.54" cy="7.24" r="2.6" fill="none" stroke="#00bfbf" stroke-width="1"/></g>
<g stroke="#000"><line x1="382.55" y1="254.8" x2="382.55" y2="256.7" stroke-width="0.6"/><line x1="391.5" y1="254.8" x2="391.5" y2="256.7" stroke-width="0.6"/><line x1="397.85" y1="254.8" x2="397.85" y2="256.7" stroke-width="0.6"/><line x1="402.78" y1="254.8" x2="402.78" y2="256.7" stroke-width="0.6"/><line x1="406.8" y1="254.8" x2="406.8" y2="256.7" stroke-width="0.6"/><line x1="410.21" y1="254.8" x2="410.21" y2="256.7" stroke-width="0.6"/><line x1="413.15" y1="254.8" x2="413.15" y2="256.7" stroke-width="0.6"/><line x1="415.75" y1="254.8" x2="415.75" y2="256.7" stroke-width="0.6"/><line x1="418.08" y1="254.8" x2="418.08" y2="258" stroke-width="0.8"/><line x1="433.38" y1="254.8" x2="433.38" y2="256.7" stroke-width="0.6"/><line x1="442.33" y1="254.8" x2="442.33" y2="256.7" stroke-width="0.6"/><line x1="448.68" y1="254.8" x2="448.68" y2="256.7" stroke-width="0.6"/><line x1="453.61" y1="254.8" x2="453.61" y2="256.7" stroke-width="0.6"/><line x1="457.63" y1="254.8" x2="457.63" y2="256.7" stroke-width="0.6"/><line x1="461.04" y1="254.8" x2="461.04" y2="256.7" stroke-width="0.6"/><line x1="463.98" y1="254.8" x2="463.98" y2="256.7" stroke-width="0.6"/><line x1="466.58" y1="254.8" x2="466.58" y2="256.7" stroke-width="0.6"/><line x1="468.91" y1="254.8" x2="468.91" y2="258" stroke-width="0.8"/><line x1="484.21" y1="254.8" x2="484.21" y2="256.7" stroke-width="0.6"/><line x1="493.16" y1="254.8" x2="493.16" y2="256.7" stroke-width="0.6"/><line x1="499.51" y1="254.8" x2="499.51" y2="256.7" stroke-width="0.6"/><line x1="504.44" y1="254.8" x2="504.44" y2="256.7" stroke-width="0.6"/><line x1="508.46" y1="254.8" x2="508.46" y2="256.7" stroke-width="0.6"/><line x1="511.87" y1="254.8" x2="511.87" y2="256.7" stroke-width="0.6"/><line x1="514.81" y1="254.8" x2="514.81" y2="256.7" stroke-width="0.6"/><line x1="517.41" y1="254.8" x2="517.41" y2="256.7" stroke-width="0.6"/><line x1="519.74" y1="254.8" x2="519.74" y2="258" stroke-width="0.8"/><line x1="535.04" y1="254.8" x2="535.04" y2="256.7" stroke-width="0.6"/><line x1="543.99" y1="254.8" x2="543.99" y2="256.7" stroke-width="0.6"/><line x1="550.34" y1="254.8" x2="550.34" y2="256.7" stroke-width="0.6"/><line x1="555.27" y1="254.8" x2="555.27" y2="256.7" stroke-width="0.6"/><line x1="559.29" y1="254.8" x2="559.29" y2="256.7" stroke-width="0.6"/><line x1="562.7" y1="254.8" x2="562.7" y2="256.7" stroke-width="0.6"/><line x1="565.64" y1="254.8" x2="565.64" y2="256.7" stroke-width="0.6"/><line x1="568.24" y1="254.8" x2="568.24" y2="256.7" stroke-width="0.6"/><line x1="570.57" y1="254.8" x2="570.57" y2="258" stroke-width="0.8"/><line x1="585.87" y1="254.8" x2="585.87" y2="256.7" stroke-width="0.6"/><line x1="594.82" y1="254.8" x2="594.82" y2="256.7" stroke-width="0.6"/><line x1="601.17" y1="254.8" x2="601.17" y2="256.7" stroke-width="0.6"/><line x1="606.1" y1="254.8" x2="606.1" y2="256.7" stroke-width="0.6"/><line x1="610.12" y1="254.8" x2="610.12" y2="256.7" stroke-width="0.6"/><line x1="613.53" y1="254.8" x2="613.53" y2="256.7" stroke-width="0.6"/><line x1="616.47" y1="254.8" x2="616.47" y2="256.7" stroke-width="0.6"/><line x1="619.07" y1="254.8" x2="619.07" y2="256.7" stroke-width="0.6"/><line x1="621.4" y1="254.8" x2="621.4" y2="258" stroke-width="0.8"/><line x1="364.8" y1="254.8" x2="368" y2="254.8" stroke-width="0.8"/><line x1="366.1" y1="244.12" x2="368" y2="244.12" stroke-width="0.6"/><line x1="366.1" y1="237.87" x2="368" y2="237.87" stroke-width="0.6"/><line x1="366.1" y1="233.44" x2="368" y2="233.44" stroke-width="0.6"/><line x1="366.1" y1="230" x2="368" y2="230" stroke-width="0.6"/><line x1="366.1" y1="227.19" x2="368" y2="227.19" stroke-width="0.6"/><line x1="366.1" y1="224.81" x2="368" y2="224.81" stroke-width="0.6"/><line x1="366.1" y1="222.75" x2="368" y2="222.75" stroke-width="0.6"/><line x1="366.1" y1="220.94" x2="368" y2="220.94" stroke-width="0.6"/><line x1="364.8" y1="219.31" x2="368" y2="219.31" stroke-width="0.8"/><line x1="366.1" y1="208.63" x2="368" y2="208.63" stroke-width="0.6"/><line x1="366.1" y1="202.38" x2="368" y2="202.38" stroke-width="0.6"/><line x1="366.1" y1="197.95" x2="368" y2="197.95" stroke-width="0.6"/><line x1="366.1" y1="194.51" x2="368" y2="194.51" stroke-width="0.6"/><line x1="366.1" y1="191.7" x2="368" y2="191.7" stroke-width="0.6"/><line x1="366.1" y1="189.33" x2="368" y2="189.33" stroke-width="0.6"/><line x1="366.1" y1="187.27" x2="368" y2="187.27" stroke-width="0.6"/><line x1="366.1" y1="185.45" x2="368" y2="185.45" stroke-width="0.6"/><line x1="364.8" y1="183.83" x2="368" y2="183.83" stroke-width="0.8"/><line x1="366.1" y1="173.15" x2="368" y2="173.15" stroke-width="0.6"/><line x1="366.1" y1="166.9" x2="368" y2="166.9" stroke-width="0.6"/><line x1="366.1" y1="162.46" x2="368" y2="162.46" stroke-width="0.6"/><line x1="366.1" y1="159.03" x2="368" y2="159.03" stroke-width="0.6"/><line x1="366.1" y1="156.22" x2="368" y2="156.22" stroke-width="0.6"/><line x1="366.1" y1="153.84" x2="368" y2="153.84" stroke-width="0.6"/><line x1="366.1" y1="151.78" x2="368" y2="151.78" stroke-width="0.6"/><line x1="366.1" y1="149.97" x2="368" y2="149.97" stroke-width="0.6"/><line x1="364.8" y1="148.34" x2="368" y2="148.34" stroke-width="0.8"/><line x1="366.1" y1="137.66" x2="368" y2="137.66" stroke-width="0.6"/><line x1="366.1" y1="131.41" x2="368" y2="131.41" stroke-width="0.6"/><line x1="366.1" y1="126.98" x2="368" y2="126.98" stroke-width="0.6"/><line x1="366.1" y1="123.54" x2="368" y2="123.54" stroke-width="0.6"/><line x1="366.1" y1="120.73" x2="368" y2="120.73" stroke-width="0.6"/><line x1="366.1" y1="118.35" x2="368" y2="118.35" stroke-width="0.6"/><line x1="366.1" y1="116.3" x2="368" y2="116.3" stroke-width="0.6"/><line x1="366.1" y1="114.48" x2="368" y2="114.48" stroke-width="0.6"/><line x1="364.8" y1="112.86" x2="368" y2="112.86" stroke-width="0.8"/><line x1="366.1" y1="102.17" x2="368" y2="102.17" stroke-width="0.6"/><line x1="366.1" y1="95.93" x2="368" y2="95.93" stroke-width="0.6"/><line x1="366.1" y1="91.49" x2="368" y2="91.49" stroke-width="0.6"/><line x1="366.1" y1="88.05" x2="368" y2="88.05" stroke-width="0.6"/><line x1="366.1" y1="85.24" x2="368" y2="85.24" stroke-width="0.6"/><line x1="366.1" y1="82.87" x2="368" y2="82.87" stroke-width="0.6"/><line x1="366.1" y1="80.81" x2="368" y2="80.81" stroke-width="0.6"/><line x1="366.1" y1="79" x2="368" y2="79" stroke-width="0.6"/><line x1="364.8" y1="77.37" x2="368" y2="77.37" stroke-width="0.8"/><line x1="366.1" y1="66.69" x2="368" y2="66.69" stroke-width="0.6"/><line x1="366.1" y1="60.44" x2="368" y2="60.44" stroke-width="0.6"/><line x1="366.1" y1="56.01" x2="368" y2="56.01" stroke-width="0.6"/><line x1="366.1" y1="52.57" x2="368" y2="52.57" stroke-width="0.6"/><line x1="366.1" y1="49.76" x2="368" y2="49.76" stroke-width="0.6"/><line x1="366.1" y1="47.38" x2="368" y2="47.38" stroke-width="0.6"/><line x1="366.1" y1="45.32" x2="368" y2="45.32" stroke-width="0.6"/><line x1="366.1" y1="43.51" x2="368" y2="43.51" stroke-width="0.6"/><line x1="364.8" y1="41.89" x2="368" y2="41.89" stroke-width="0.8"/><line x1="366.1" y1="31.2" x2="368" y2="31.2" stroke-width="0.6"/><line x1="366.1" y1="24.95" x2="368" y2="24.95" stroke-width="0.6"/><line x1="366.1" y1="20.52" x2="368" y2="20.52" stroke-width="0.6"/><line x1="366.1" y1="17.08" x2="368" y2="17.08" stroke-width="0.6"/><line x1="366.1" y1="14.27" x2="368" y2="14.27" stroke-width="0.6"/><line x1="366.1" y1="11.9" x2="368" y2="11.9" stroke-width="0.6"/><line x1="366.1" y1="9.84" x2="368" y2="9.84" stroke-width="0.6"/><line x1="366.1" y1="8.02" x2="368" y2="8.02" stroke-width="0.6"/><line x1="364.8" y1="6.4" x2="368" y2="6.4" stroke-width="0.8"/></g>
<text x="417.88" y="269.1" text-anchor="middle" font-size="12.8">10<tspan font-size="9.4" dx="0.4" dy="-4.8">1</tspan></text>
<text x="468.71" y="269.1" text-anchor="middle" font-size="12.8">10<tspan font-size="9.4" dx="0.4" dy="-4.8">2</tspan></text>
<text x="519.54" y="269.1" text-anchor="middle" font-size="12.8">10<tspan font-size="9.4" dx="0.4" dy="-4.8">3</tspan></text>
<text x="570.37" y="269.1" text-anchor="middle" font-size="12.8">10<tspan font-size="9.4" dx="0.4" dy="-4.8">4</tspan></text>
<text x="621.2" y="269.1" text-anchor="middle" font-size="12.8">10<tspan font-size="9.4" dx="0.4" dy="-4.8">5</tspan></text>
<text x="361.7" y="259.3" text-anchor="end" font-size="12.8">10<tspan font-size="9.4" dx="0.6" dy="-4.6">17</tspan></text>
<text x="361.7" y="223.81" text-anchor="end" font-size="12.8">10<tspan font-size="9.4" dx="0.6" dy="-4.6">18</tspan></text>
<text x="361.7" y="188.33" text-anchor="end" font-size="12.8">10<tspan font-size="9.4" dx="0.6" dy="-4.6">19</tspan></text>
<text x="361.7" y="152.84" text-anchor="end" font-size="12.8">10<tspan font-size="9.4" dx="0.6" dy="-4.6">20</tspan></text>
<text x="361.7" y="117.36" text-anchor="end" font-size="12.8">10<tspan font-size="9.4" dx="0.6" dy="-4.6">21</tspan></text>
<text x="361.7" y="81.87" text-anchor="end" font-size="12.8">10<tspan font-size="9.4" dx="0.6" dy="-4.6">22</tspan></text>
<text x="361.7" y="46.39" text-anchor="end" font-size="12.8">10<tspan font-size="9.4" dx="0.6" dy="-4.6">23</tspan></text>
<text x="361.7" y="10.9" text-anchor="end" font-size="12.8">10<tspan font-size="9.4" dx="0.6" dy="-4.6">24</tspan></text>
<text x="493.9" y="282.6" text-anchor="middle" font-size="12.6" textLength="34.6" lengthAdjust="spacingAndGlyphs">r (km)</text>
<text transform="translate(330.3 130.8) rotate(-90)" text-anchor="middle" font-size="12.6" textLength="119" lengthAdjust="spacingAndGlyphs">Flux (molecules s<tspan font-size="9" dy="-4.5">&#8722;1</tspan><tspan dy="4.5">)</tspan></text>
<text x="604.05" y="243.4" text-anchor="middle" font-size="12.4" textLength="18.5" lengthAdjust="spacingAndGlyphs" style="stroke-width:0.08px">(b)</text>
<path d="M53.2 511.5 L53.34 510.7 L53.48 509.9 L53.61 509.09 L53.74 508.27 L53.86 507.45 L53.98 506.62 L54.1 505.79 L54.22 504.96 L54.34 504.12 L54.46 503.28 L54.58 502.44 L54.7 501.6 L54.83 500.75 L54.96 499.91 L55.09 499.06 L55.22 498.22 L55.36 497.37 L55.51 496.53 L55.66 495.69 L55.81 494.85 L55.98 494.01 L56.15 493.18 L56.33 492.35 L56.52 491.52 L56.72 490.7 L56.93 489.88 L57.15 489.07 L57.39 488.27 L57.63 487.47 L57.89 486.67 L58.16 485.89 L58.45 485.11 L58.75 484.34 L59.06 483.58 L59.39 482.82 L59.73 482.07 L60.08 481.33 L60.45 480.6 L60.82 479.87 L61.21 479.15 L61.61 478.44 L62.03 477.73 L62.45 477.03 L62.88 476.34 L63.33 475.65 L63.78 474.97 L64.25 474.29 L64.72 473.62 L65.21 472.95 L65.7 472.29 L66.2 471.64 L66.71 470.99 L67.23 470.35 L67.75 469.71 L68.29 469.08 L68.83 468.45 L69.38 467.83 L69.93 467.21 L70.49 466.6 L71.06 465.99 L71.63 465.38 L72.21 464.78 L72.79 464.18 L73.38 463.59 L73.97 463 L74.57 462.42 L75.17 461.83 L75.77 461.26 L76.38 460.68 L77 460.11 L77.62 459.55 L78.24 458.98 L78.87 458.43 L79.5 457.87 L80.14 457.32 L80.77 456.78 L81.42 456.23 L82.06 455.7 L82.71 455.16 L83.37 454.63 L84.03 454.1 L84.69 453.58 L85.35 453.06 L86.02 452.55 L86.69 452.04 L87.37 451.53 L88.05 451.03 L88.73 450.53 L89.41 450.04 L90.1 449.54 L90.79 449.06 L91.48 448.58 L92.18 448.1 L92.87 447.62 L93.57 447.15 L94.28 446.69 L94.98 446.22 L95.69 445.77 L96.4 445.31 L97.12 444.86 L97.83 444.42 L98.55 443.98 L99.27 443.54 L99.99 443.1 L100.71 442.68 L101.44 442.25 L102.16 441.83 L102.89 441.41 L103.62 441 L104.35 440.59 L105.09 440.19 L105.82 439.79 L106.56 439.39 L107.3 439 L108.04 438.61 L108.78 438.23 L109.52 437.84 L110.27 437.47 L111.01 437.09 L111.76 436.72 L112.51 436.36 L113.26 436 L114.01 435.64 L114.76 435.28 L115.52 434.93 L116.27 434.58 L117.03 434.23 L117.79 433.89 L118.55 433.55 L119.31 433.22 L120.07 432.88 L120.83 432.55 L121.6 432.23 L122.36 431.9 L123.13 431.58 L123.9 431.26 L124.67 430.95 L125.44 430.64 L126.21 430.33 L126.98 430.02 L127.75 429.72 L128.53 429.42 L129.3 429.12 L130.08 428.82 L130.86 428.53 L131.64 428.23 L132.41 427.94 L133.19 427.66 L133.98 427.37 L134.76 427.09 L135.54 426.81 L136.32 426.53 L137.11 426.25 L137.89 425.98 L138.68 425.71 L139.47 425.44 L140.26 425.17 L141.04 424.9 L141.83 424.64 L142.62 424.37 L143.41 424.11 L144.21 423.85 L145 423.6 L145.79 423.34 L146.58 423.09 L147.38 422.83 L148.17 422.58 L148.97 422.33 L149.77 422.09 L150.56 421.84 L151.36 421.6 L152.16 421.36 L152.96 421.12 L153.76 420.88 L154.56 420.64 L155.36 420.41 L156.16 420.17 L156.96 419.94 L157.76 419.71 L158.57 419.48 L159.37 419.25 L160.18 419.03 L160.98 418.8 L161.79 418.58 L162.59 418.36 L163.4 418.14 L164.2 417.92 L165.01 417.71 L165.82 417.49 L166.63 417.28 L167.44 417.07 L168.25 416.86 L169.06 416.65 L169.87 416.44 L170.68 416.23 L171.49 416.03 L172.3 415.83 L173.11 415.62 L173.93 415.42 L174.74 415.22 L175.55 415.02 L176.37 414.83 L177.18 414.63 L178 414.44 L178.81 414.25 L179.63 414.05 L180.44 413.86 L181.26 413.67 L182.08 413.49 L182.89 413.3 L183.71 413.11 L184.53 412.93 L185.35 412.75 L186.17 412.57 L186.98 412.38 L187.8 412.21 L188.62 412.03 L189.44 411.85 L190.26 411.67 L191.08 411.5 L191.9 411.32 L192.72 411.15 L193.54 410.98 L194.36 410.81 L195.19 410.64 L196.01 410.47 L196.83 410.3 L197.65 410.14 L198.47 409.97 L199.29 409.81 L200.12 409.64 L200.94 409.48 L201.76 409.32 L202.58 409.16 L203.41 409 L204.23 408.84 L205.05 408.68 L205.88 408.52 L206.7 408.37 L207.52 408.21 L208.35 408.06 L209.17 407.9 L210 407.75 L210.82 407.6 L211.64 407.45 L212.47 407.29 L213.29 407.14 L214.12 407 L214.94 406.85 L215.77 406.7 L216.59 406.55 L217.41 406.41 L218.24 406.26 L219.06 406.12 L219.89 405.97 L220.71 405.83 L221.54 405.69 L222.36 405.55 L223.18 405.4 L224.01 405.26 L224.83 405.12 L225.66 404.99 L226.48 404.85 L227.31 404.71 L228.13 404.58 L228.96 404.44 L229.78 404.31 L230.61 404.18 L231.43 404.04 L232.26 403.91 L233.08 403.78 L233.91 403.66 L234.73 403.53 L235.56 403.4 L236.38 403.28 L237.21 403.15 L238.03 403.03 L238.86 402.91 L239.68 402.79 L240.51 402.67 L241.34 402.55 L242.16 402.43 L242.99 402.31 L243.81 402.2 L244.64 402.09 L245.47 401.97 L246.29 401.86 L247.12 401.75 L247.95 401.64 L248.77 401.54 L249.6 401.43 L250.43 401.33 L251.26 401.22 L252.08 401.12 L252.91 401.02 L253.74 400.93 L254.57 400.83 L255.39 400.73 L256.22 400.64 L257.05 400.55 L257.88 400.46 L258.71 400.37 L259.54 400.28 L260.37 400.19 L261.2 400.11 L262.03 400.03 L262.86 399.94 L263.69 399.86 L264.52 399.79 L265.35 399.71 L266.18 399.64 L267.01 399.56 L267.84 399.49 L268.67 399.42 L269.5 399.36 L270.33 399.29 L271.16 399.23 L272 399.17 L272.83 399.11 L273.66 399.05 L274.49 398.99 L275.33 398.94 L276.16 398.88 L276.99 398.83 L277.83 398.79 L278.66 398.74 L279.5 398.69 L280.33 398.65 L281.16 398.61 L282 398.57 L282.83 398.54 L283.67 398.5 L284.51 398.47 L285.34 398.44 L286.18 398.41 L287.02 398.39 L287.85 398.36 L288.69 398.34 L289.53 398.32 L290.37 398.31 L291.2 398.29 L292.04 398.28 L292.88 398.27 L293.72 398.26 L294.56 398.26 L295.4 398.25 L296.24 398.25 L297.08 398.26 L297.92 398.26 L298.76 398.27 L299.6 398.27 L300.44 398.29 L301.29 398.3 L302.13 398.32 L302.97 398.33 L303.81 398.36 L304.66 398.38 L305.5 398.41" fill="none" stroke="#ff0000" stroke-width="1.75" stroke-dasharray="4.41,1.47,1.47,1.47,1.47,1.47" clip-path="url(#clipc)"/>
<path d="M110.5 542.5 L110.94 541.79 L111.37 541.07 L111.81 540.36 L112.25 539.64 L112.69 538.93 L113.13 538.21 L113.57 537.5 L114.01 536.79 L114.45 536.08 L114.89 535.37 L115.34 534.66 L115.78 533.95 L116.23 533.24 L116.68 532.53 L117.12 531.83 L117.57 531.12 L118.02 530.41 L118.47 529.71 L118.92 529 L119.38 528.3 L119.83 527.6 L120.28 526.9 L120.74 526.19 L121.2 525.49 L121.65 524.79 L122.11 524.09 L122.57 523.39 L123.03 522.7 L123.49 522 L123.95 521.3 L124.42 520.6 L124.88 519.91 L125.34 519.21 L125.81 518.52 L126.28 517.83 L126.74 517.13 L127.21 516.44 L127.68 515.75 L128.15 515.06 L128.62 514.37 L129.09 513.68 L129.57 512.99 L130.04 512.3 L130.51 511.61 L130.99 510.92 L131.47 510.24 L131.94 509.55 L132.42 508.87 L132.9 508.18 L133.38 507.5 L133.86 506.82 L134.34 506.13 L134.82 505.45 L135.31 504.77 L135.79 504.09 L136.28 503.41 L136.76 502.73 L137.25 502.05 L137.74 501.37 L138.23 500.7 L138.72 500.02 L139.21 499.34 L139.7 498.67 L140.19 497.99 L140.68 497.32 L141.18 496.65 L141.67 495.97 L142.17 495.3 L142.66 494.63 L143.16 493.96 L143.66 493.29 L144.16 492.62 L144.66 491.95 L145.16 491.28 L145.66 490.62 L146.16 489.95 L146.67 489.28 L147.17 488.62 L147.68 487.95 L148.18 487.29 L148.69 486.63 L149.2 485.96 L149.71 485.3 L150.22 484.64 L150.73 483.98 L151.24 483.32 L151.75 482.66 L152.26 482 L152.77 481.34 L153.29 480.68 L153.8 480.03 L154.32 479.37 L154.84 478.71 L155.36 478.06 L155.87 477.4 L156.39 476.75 L156.91 476.1 L157.43 475.44 L157.96 474.79 L158.48 474.14 L159 473.49 L159.53 472.84 L160.05 472.19 L160.58 471.54 L161.11 470.89 L161.63 470.25 L162.16 469.6 L162.69 468.95 L163.22 468.31 L163.75 467.66 L164.28 467.02 L164.82 466.37 L165.35 465.73 L165.88 465.09 L166.42 464.45 L166.95 463.81 L167.49 463.17 L168.03 462.53 L168.57 461.89 L169.11 461.25 L169.65 460.61 L170.19 459.97 L170.73 459.34 L171.27 458.7 L171.81 458.07 L172.36 457.43 L172.9 456.8 L173.45 456.16 L173.99 455.53 L174.54 454.9 L175.09 454.27 L175.64 453.63 L176.19 453 L176.74 452.37 L177.29 451.75 L177.84 451.12 L178.39 450.49 L178.94 449.86 L179.5 449.24 L180.05 448.61 L180.61 447.98 L181.16 447.36 L181.72 446.74 L182.28 446.11 L182.84 445.49 L183.4 444.87 L183.96 444.25 L184.52 443.63 L185.08 443.01 L185.64 442.39 L186.21 441.77 L186.77 441.15 L187.33 440.53 L187.9 439.92 L188.47 439.3 L189.03 438.68 L189.6 438.07 L190.17 437.46 L190.74 436.84 L191.31 436.23 L191.88 435.62 L192.45 435.01 L193.03 434.4 L193.6 433.79 L194.17 433.18 L194.75 432.57 L195.32 431.96 L195.9 431.36 L196.48 430.75 L197.06 430.14 L197.64 429.54 L198.22 428.94 L198.8 428.33 L199.38 427.73 L199.96 427.13 L200.54 426.53 L201.13 425.93 L201.71 425.33 L202.29 424.73 L202.88 424.13 L203.47 423.53 L204.05 422.94 L204.64 422.34 L205.23 421.75 L205.82 421.15 L206.41 420.56 L207 419.97 L207.6 419.38 L208.19 418.79 L208.78 418.2 L209.38 417.61 L209.97 417.02 L210.57 416.43 L211.17 415.84 L211.76 415.26 L212.36 414.67 L212.96 414.09 L213.56 413.5 L214.16 412.92 L214.76 412.34 L215.36 411.76 L215.97 411.18 L216.57 410.6 L217.18 410.02 L217.78 409.44 L218.39 408.86 L218.99 408.29 L219.6 407.71 L220.21 407.14 L220.82 406.56 L221.43 405.99 L222.04 405.42 L222.65 404.85 L223.26 404.28 L223.88 403.71 L224.49 403.14 L225.11 402.57 L225.72 402.01 L226.34 401.44 L226.96 400.88 L227.57 400.31 L228.19 399.75 L228.81 399.19 L229.43 398.62 L230.05 398.06 L230.67 397.5 L231.3 396.95 L231.92 396.39 L232.54 395.83 L233.17 395.27 L233.79 394.72 L234.42 394.17 L235.05 393.61 L235.68 393.06 L236.3 392.51 L236.93 391.96 L237.56 391.41 L238.2 390.86 L238.83 390.31 L239.46 389.77 L240.09 389.22 L240.73 388.67 L241.36 388.13 L242 387.59 L242.63 387.05 L243.27 386.51 L243.91 385.97 L244.55 385.43 L245.19 384.89 L245.83 384.35 L246.47 383.82 L247.11 383.28 L247.76 382.75 L248.4 382.22 L249.05 381.68 L249.69 381.15 L250.34 380.63 L250.98 380.1 L251.63 379.57 L252.28 379.05 L252.93 378.52 L253.58 378 L254.24 377.48 L254.89 376.96 L255.54 376.44 L256.2 375.92 L256.85 375.4 L257.51 374.89 L258.17 374.37 L258.83 373.86 L259.49 373.35 L260.15 372.84 L260.81 372.33 L261.47 371.82 L262.13 371.32 L262.8 370.81 L263.46 370.31 L264.13 369.81 L264.8 369.31 L265.47 368.81 L266.14 368.31 L266.81 367.82 L267.48 367.32 L268.15 366.83 L268.82 366.34 L269.5 365.85 L270.18 365.36 L270.85 364.87 L271.53 364.39 L272.21 363.91 L272.89 363.43 L273.57 362.95 L274.25 362.47 L274.94 361.99 L275.62 361.52 L276.31 361.04 L277 360.57 L277.68 360.1 L278.37 359.63 L279.06 359.17 L279.75 358.7 L280.45 358.24 L281.14 357.78 L281.84 357.32 L282.53 356.86 L283.23 356.41 L283.93 355.95 L284.63 355.5 L285.33 355.05 L286.03 354.6 L286.74 354.16 L287.44 353.71 L288.15 353.27 L288.85 352.83 L289.56 352.39 L290.27 351.95 L290.98 351.52 L291.7 351.09 L292.41 350.66 L293.12 350.23 L293.84 349.8 L294.56 349.38 L295.28 348.95 L296 348.53 L296.72 348.12 L297.44 347.7 L298.16 347.29 L298.89 346.87 L299.62 346.46 L300.34 346.06 L301.07 345.65 L301.8 345.25 L302.54 344.85 L303.27 344.45 L304 344.05 L304.74 343.66 L305.48 343.27" fill="none" stroke="#bfbf00" stroke-width="1.75" stroke-dasharray="9.41,2.35,1.47,2.35" clip-path="url(#clipc)"/>
<path d="M53.02 477.5 L53.07 476.68 L53.12 475.86 L53.18 475.03 L53.24 474.2 L53.31 473.37 L53.38 472.54 L53.46 471.71 L53.54 470.87 L53.63 470.04 L53.72 469.2 L53.83 468.36 L53.93 467.53 L54.04 466.69 L54.16 465.85 L54.29 465.01 L54.42 464.18 L54.55 463.34 L54.7 462.51 L54.85 461.67 L55 460.84 L55.17 460 L55.34 459.17 L55.52 458.34 L55.7 457.52 L55.89 456.69 L56.09 455.87 L56.3 455.05 L56.52 454.23 L56.74 453.41 L56.97 452.6 L57.21 451.79 L57.45 450.99 L57.71 450.18 L57.97 449.38 L58.24 448.59 L58.52 447.8 L58.81 447.01 L59.11 446.23 L59.41 445.45 L59.73 444.68 L60.05 443.91 L60.38 443.15 L60.73 442.39 L61.08 441.64 L61.44 440.89 L61.81 440.15 L62.19 439.42 L62.58 438.69 L62.98 437.97 L63.39 437.25 L63.81 436.55 L64.24 435.84 L64.68 435.15 L65.13 434.46 L65.6 433.79 L66.07 433.11 L66.55 432.45 L67.05 431.8 L67.55 431.15 L68.07 430.51 L68.6 429.88 L69.13 429.26 L69.68 428.64 L70.23 428.04 L70.8 427.44 L71.37 426.84 L71.96 426.26 L72.55 425.68 L73.15 425.11 L73.76 424.55 L74.37 423.99 L74.99 423.44 L75.62 422.89 L76.26 422.35 L76.9 421.82 L77.55 421.3 L78.21 420.78 L78.87 420.26 L79.54 419.76 L80.21 419.25 L80.89 418.76 L81.57 418.26 L82.25 417.78 L82.94 417.3 L83.64 416.82 L84.33 416.35 L85.04 415.88 L85.74 415.42 L86.45 414.96 L87.15 414.51 L87.87 414.06 L88.58 413.61 L89.3 413.17 L90.01 412.74 L90.74 412.3 L91.46 411.88 L92.18 411.45 L92.91 411.03 L93.64 410.61 L94.37 410.2 L95.11 409.79 L95.84 409.39 L96.58 408.98 L97.32 408.58 L98.06 408.19 L98.81 407.8 L99.55 407.41 L100.3 407.02 L101.05 406.64 L101.8 406.26 L102.55 405.89 L103.3 405.51 L104.06 405.14 L104.81 404.77 L105.57 404.41 L106.33 404.05 L107.09 403.69 L107.85 403.33 L108.61 402.98 L109.37 402.63 L110.14 402.28 L110.9 401.93 L111.67 401.59 L112.43 401.24 L113.2 400.9 L113.97 400.57 L114.74 400.23 L115.51 399.9 L116.28 399.56 L117.05 399.23 L117.82 398.91 L118.59 398.58 L119.36 398.26 L120.14 397.93 L120.91 397.61 L121.69 397.3 L122.46 396.98 L123.24 396.67 L124.01 396.35 L124.79 396.04 L125.57 395.73 L126.35 395.43 L127.13 395.12 L127.91 394.82 L128.69 394.52 L129.47 394.22 L130.25 393.92 L131.03 393.62 L131.82 393.33 L132.6 393.04 L133.38 392.75 L134.17 392.46 L134.95 392.17 L135.74 391.88 L136.52 391.6 L137.31 391.32 L138.1 391.04 L138.89 390.76 L139.67 390.48 L140.46 390.21 L141.25 389.93 L142.04 389.66 L142.83 389.39 L143.62 389.12 L144.42 388.86 L145.21 388.59 L146 388.33 L146.79 388.06 L147.59 387.8 L148.38 387.54 L149.18 387.29 L149.97 387.03 L150.77 386.78 L151.56 386.52 L152.36 386.27 L153.16 386.02 L153.96 385.77 L154.75 385.52 L155.55 385.28 L156.35 385.03 L157.15 384.79 L157.95 384.55 L158.75 384.31 L159.55 384.07 L160.35 383.83 L161.15 383.6 L161.96 383.36 L162.76 383.13 L163.56 382.9 L164.37 382.67 L165.17 382.44 L165.97 382.21 L166.78 381.99 L167.58 381.76 L168.39 381.54 L169.19 381.32 L170 381.09 L170.81 380.87 L171.61 380.66 L172.42 380.44 L173.23 380.22 L174.04 380.01 L174.84 379.79 L175.65 379.58 L176.46 379.37 L177.27 379.16 L178.08 378.95 L178.89 378.74 L179.7 378.53 L180.51 378.33 L181.32 378.12 L182.14 377.92 L182.95 377.72 L183.76 377.52 L184.57 377.32 L185.38 377.12 L186.2 376.92 L187.01 376.72 L187.82 376.53 L188.64 376.33 L189.45 376.14 L190.27 375.94 L191.08 375.75 L191.9 375.56 L192.71 375.37 L193.53 375.18 L194.34 374.99 L195.16 374.81 L195.97 374.62 L196.79 374.43 L197.61 374.25 L198.42 374.07 L199.24 373.88 L200.06 373.7 L200.88 373.52 L201.69 373.34 L202.51 373.16 L203.33 372.98 L204.15 372.81 L204.97 372.63 L205.79 372.46 L206.61 372.28 L207.42 372.11 L208.24 371.94 L209.06 371.77 L209.88 371.6 L210.7 371.43 L211.53 371.26 L212.35 371.1 L213.17 370.93 L213.99 370.77 L214.81 370.61 L215.63 370.44 L216.45 370.28 L217.28 370.13 L218.1 369.97 L218.92 369.81 L219.74 369.66 L220.57 369.5 L221.39 369.35 L222.21 369.2 L223.04 369.05 L223.86 368.9 L224.68 368.75 L225.51 368.61 L226.33 368.46 L227.16 368.32 L227.98 368.18 L228.81 368.04 L229.63 367.9 L230.46 367.76 L231.28 367.63 L232.11 367.49 L232.94 367.36 L233.76 367.23 L234.59 367.1 L235.42 366.97 L236.24 366.84 L237.07 366.72 L237.9 366.59 L238.73 366.47 L239.55 366.35 L240.38 366.23 L241.21 366.11 L242.04 366 L242.87 365.88 L243.7 365.77 L244.52 365.66 L245.35 365.55 L246.18 365.44 L247.01 365.34 L247.84 365.23 L248.67 365.13 L249.5 365.03 L250.33 364.93 L251.16 364.84 L251.99 364.74 L252.82 364.65 L253.65 364.56 L254.49 364.47 L255.32 364.38 L256.15 364.29 L256.98 364.21 L257.81 364.13 L258.64 364.05 L259.48 363.97 L260.31 363.89 L261.14 363.82 L261.97 363.74 L262.81 363.67 L263.64 363.6 L264.47 363.54 L265.31 363.47 L266.14 363.41 L266.97 363.35 L267.81 363.29 L268.64 363.24 L269.48 363.18 L270.31 363.13 L271.15 363.08 L271.98 363.03 L272.82 362.98 L273.65 362.94 L274.49 362.9 L275.32 362.86 L276.16 362.82 L276.99 362.79 L277.83 362.76 L278.67 362.72 L279.5 362.7 L280.34 362.67 L281.17 362.65 L282.01 362.63 L282.85 362.61 L283.69 362.59 L284.52 362.57 L285.36 362.56 L286.2 362.55 L287.04 362.55 L287.87 362.54 L288.71 362.54 L289.55 362.54 L290.39 362.54 L291.23 362.54 L292.06 362.55 L292.9 362.56 L293.74 362.57 L294.58 362.59 L295.42 362.6 L296.26 362.62 L297.1 362.65 L297.94 362.67 L298.78 362.7 L299.62 362.73 L300.46 362.76 L301.3 362.79 L302.14 362.83 L302.98 362.87 L303.82 362.91 L304.66 362.96 L305.5 363.01" fill="none" stroke="#bf00bf" stroke-width="1.75" stroke-dasharray="5.44,2.35" clip-path="url(#clipc)"/>
<path d="M74.5 542.51 L74.89 541.77 L75.29 541.03 L75.69 540.29 L76.09 539.56 L76.49 538.82 L76.89 538.08 L77.29 537.35 L77.69 536.61 L78.1 535.88 L78.5 535.15 L78.91 534.41 L79.31 533.68 L79.72 532.95 L80.13 532.22 L80.54 531.49 L80.95 530.76 L81.36 530.03 L81.77 529.3 L82.18 528.57 L82.59 527.84 L83.01 527.11 L83.42 526.39 L83.84 525.66 L84.25 524.94 L84.67 524.21 L85.09 523.49 L85.51 522.76 L85.93 522.04 L86.35 521.31 L86.77 520.59 L87.19 519.87 L87.61 519.15 L88.04 518.43 L88.46 517.71 L88.89 516.99 L89.32 516.27 L89.74 515.55 L90.17 514.83 L90.6 514.11 L91.03 513.4 L91.46 512.68 L91.9 511.96 L92.33 511.25 L92.76 510.54 L93.2 509.82 L93.63 509.11 L94.07 508.39 L94.51 507.68 L94.95 506.97 L95.38 506.26 L95.82 505.55 L96.27 504.84 L96.71 504.13 L97.15 503.42 L97.59 502.71 L98.04 502.01 L98.48 501.3 L98.93 500.59 L99.38 499.89 L99.83 499.18 L100.27 498.48 L100.72 497.77 L101.17 497.07 L101.63 496.37 L102.08 495.67 L102.53 494.96 L102.99 494.26 L103.44 493.56 L103.9 492.86 L104.35 492.16 L104.81 491.47 L105.27 490.77 L105.73 490.07 L106.19 489.37 L106.65 488.68 L107.11 487.98 L107.58 487.29 L108.04 486.6 L108.51 485.9 L108.97 485.21 L109.44 484.52 L109.91 483.83 L110.38 483.13 L110.84 482.44 L111.32 481.76 L111.79 481.07 L112.26 480.38 L112.73 479.69 L113.21 479 L113.68 478.32 L114.16 477.63 L114.63 476.95 L115.11 476.26 L115.59 475.58 L116.07 474.9 L116.55 474.21 L117.03 473.53 L117.51 472.85 L117.99 472.17 L118.48 471.49 L118.96 470.81 L119.45 470.13 L119.93 469.46 L120.42 468.78 L120.91 468.1 L121.4 467.43 L121.89 466.75 L122.38 466.08 L122.87 465.4 L123.37 464.73 L123.86 464.06 L124.35 463.39 L124.85 462.72 L125.35 462.05 L125.84 461.38 L126.34 460.71 L126.84 460.04 L127.34 459.37 L127.84 458.7 L128.34 458.04 L128.85 457.37 L129.35 456.71 L129.86 456.04 L130.36 455.38 L130.87 454.72 L131.38 454.06 L131.88 453.39 L132.39 452.73 L132.9 452.07 L133.41 451.42 L133.93 450.76 L134.44 450.1 L134.95 449.44 L135.47 448.79 L135.98 448.13 L136.5 447.48 L137.02 446.82 L137.54 446.17 L138.06 445.52 L138.58 444.86 L139.1 444.21 L139.62 443.56 L140.14 442.91 L140.67 442.26 L141.19 441.62 L141.72 440.97 L142.24 440.32 L142.77 439.67 L143.3 439.03 L143.83 438.38 L144.36 437.74 L144.89 437.1 L145.42 436.46 L145.96 435.81 L146.49 435.17 L147.03 434.53 L147.56 433.89 L148.1 433.26 L148.64 432.62 L149.17 431.98 L149.71 431.34 L150.26 430.71 L150.8 430.07 L151.34 429.44 L151.88 428.81 L152.43 428.17 L152.97 427.54 L153.52 426.91 L154.07 426.28 L154.61 425.65 L155.16 425.02 L155.71 424.39 L156.26 423.77 L156.81 423.14 L157.37 422.51 L157.92 421.89 L158.48 421.27 L159.03 420.64 L159.59 420.02 L160.15 419.4 L160.7 418.78 L161.26 418.16 L161.82 417.54 L162.38 416.92 L162.95 416.3 L163.51 415.68 L164.07 415.07 L164.64 414.45 L165.2 413.84 L165.77 413.23 L166.34 412.61 L166.91 412 L167.48 411.39 L168.05 410.78 L168.62 410.17 L169.19 409.56 L169.76 408.95 L170.34 408.34 L170.91 407.74 L171.49 407.13 L172.07 406.53 L172.65 405.92 L173.22 405.32 L173.8 404.72 L174.39 404.12 L174.97 403.52 L175.55 402.92 L176.13 402.32 L176.72 401.72 L177.3 401.12 L177.89 400.53 L178.48 399.93 L179.07 399.34 L179.66 398.74 L180.25 398.15 L180.84 397.56 L181.43 396.97 L182.02 396.38 L182.62 395.79 L183.21 395.2 L183.81 394.61 L184.41 394.03 L185.01 393.44 L185.61 392.86 L186.21 392.28 L186.81 391.69 L187.41 391.11 L188.01 390.53 L188.62 389.95 L189.22 389.37 L189.83 388.8 L190.43 388.22 L191.04 387.64 L191.65 387.07 L192.26 386.5 L192.87 385.92 L193.48 385.35 L194.1 384.78 L194.71 384.21 L195.32 383.64 L195.94 383.08 L196.56 382.51 L197.17 381.95 L197.79 381.38 L198.41 380.82 L199.03 380.26 L199.65 379.69 L200.28 379.13 L200.9 378.57 L201.53 378.02 L202.15 377.46 L202.78 376.9 L203.41 376.35 L204.03 375.79 L204.66 375.24 L205.29 374.69 L205.93 374.14 L206.56 373.59 L207.19 373.04 L207.83 372.5 L208.46 371.95 L209.1 371.4 L209.74 370.86 L210.37 370.32 L211.01 369.78 L211.65 369.24 L212.3 368.7 L212.94 368.16 L213.58 367.62 L214.23 367.09 L214.87 366.55 L215.52 366.02 L216.17 365.48 L216.81 364.95 L217.46 364.42 L218.11 363.89 L218.77 363.37 L219.42 362.84 L220.07 362.31 L220.73 361.79 L221.38 361.27 L222.04 360.75 L222.7 360.23 L223.36 359.71 L224.02 359.19 L224.68 358.67 L225.34 358.16 L226 357.64 L226.66 357.13 L227.33 356.62 L227.99 356.11 L228.66 355.6 L229.33 355.09 L230 354.59 L230.67 354.08 L231.34 353.58 L232.01 353.08 L232.69 352.58 L233.36 352.08 L234.04 351.59 L234.72 351.1 L235.4 350.6 L236.07 350.12 L236.76 349.63 L237.44 349.14 L238.12 348.66 L238.81 348.18 L239.49 347.7 L240.18 347.22 L240.87 346.75 L241.56 346.28 L242.25 345.81 L242.94 345.34 L243.64 344.88 L244.33 344.42 L245.03 343.96 L245.73 343.5 L246.43 343.05 L247.13 342.6 L247.83 342.15 L248.53 341.7 L249.24 341.26 L249.95 340.82 L250.66 340.38 L251.37 339.95 L252.08 339.52 L252.79 339.09 L253.5 338.67 L254.22 338.25 L254.94 337.83 L255.66 337.41 L256.38 337 L257.1 336.59 L257.82 336.19 L258.55 335.79 L259.28 335.39 L260 334.99 L260.73 334.6 L261.47 334.22 L262.2 333.83 L262.94 333.45 L263.67 333.08 L264.41 332.71 L265.15 332.34 L265.89 331.97 L266.64 331.61 L267.38 331.26 L268.13 330.9 L268.88 330.56 L269.63 330.21 L270.38 329.87 L271.14 329.54 L271.9 329.21 L272.65 328.88 L273.41 328.56 L274.18 328.24 L274.94 327.92 L275.71 327.61 L276.47 327.31 L277.24 327.01 L278.02 326.71 L278.79 326.42 L279.57 326.14 L280.34 325.86 L281.12 325.58 L281.9 325.31 L282.69 325.04 L283.47 324.78 L284.26 324.52 L285.05 324.27 L285.84 324.02 L286.64 323.78 L287.43 323.55 L288.23 323.31 L289.03 323.09 L289.83 322.87 L290.64 322.65 L291.44 322.44 L292.25 322.24 L293.06 322.04 L293.88 321.85 L294.69 321.66 L295.51 321.48 L296.33 321.3 L297.15 321.13 L297.97 320.97 L298.8 320.81 L299.63 320.65 L300.46 320.51 L301.29 320.37 L302.13 320.23 L302.96 320.1 L303.8 319.98 L304.65 319.86 L305.49 319.75" fill="none" stroke="#008000" stroke-width="1.75" stroke-dasharray="1.47,2.43" clip-path="url(#clipc)"/>
<path d="M94.52 542.51 L94.97 541.81 L95.42 541.1 L95.87 540.4 L96.32 539.69 L96.78 538.99 L97.23 538.28 L97.68 537.58 L98.13 536.87 L98.59 536.17 L99.04 535.46 L99.49 534.76 L99.94 534.06 L100.4 533.35 L100.85 532.65 L101.3 531.94 L101.76 531.24 L102.21 530.53 L102.67 529.83 L103.12 529.13 L103.57 528.42 L104.03 527.72 L104.48 527.02 L104.94 526.31 L105.4 525.61 L105.85 524.91 L106.31 524.21 L106.76 523.5 L107.22 522.8 L107.68 522.1 L108.13 521.4 L108.59 520.7 L109.05 520 L109.51 519.29 L109.97 518.59 L110.42 517.89 L110.88 517.19 L111.34 516.49 L111.8 515.79 L112.26 515.09 L112.72 514.39 L113.18 513.69 L113.65 512.99 L114.11 512.3 L114.57 511.6 L115.03 510.9 L115.49 510.2 L115.96 509.5 L116.42 508.81 L116.88 508.11 L117.35 507.41 L117.81 506.72 L118.28 506.02 L118.75 505.33 L119.21 504.63 L119.68 503.94 L120.14 503.24 L120.61 502.55 L121.08 501.85 L121.55 501.16 L122.02 500.47 L122.49 499.77 L122.96 499.08 L123.43 498.39 L123.9 497.7 L124.37 497.01 L124.84 496.32 L125.32 495.63 L125.79 494.94 L126.26 494.25 L126.74 493.56 L127.21 492.87 L127.69 492.18 L128.16 491.49 L128.64 490.81 L129.12 490.12 L129.6 489.43 L130.07 488.75 L130.55 488.06 L131.03 487.38 L131.51 486.69 L131.99 486.01 L132.48 485.33 L132.96 484.64 L133.44 483.96 L133.92 483.28 L134.41 482.6 L134.89 481.92 L135.38 481.24 L135.87 480.56 L136.35 479.88 L136.84 479.2 L137.33 478.52 L137.82 477.84 L138.31 477.17 L138.8 476.49 L139.29 475.81 L139.78 475.14 L140.27 474.46 L140.77 473.79 L141.26 473.12 L141.76 472.44 L142.25 471.77 L142.75 471.1 L143.25 470.43 L143.75 469.76 L144.24 469.09 L144.74 468.42 L145.25 467.75 L145.75 467.09 L146.25 466.42 L146.75 465.75 L147.26 465.09 L147.76 464.42 L148.27 463.76 L148.77 463.09 L149.28 462.43 L149.79 461.77 L150.3 461.11 L150.81 460.45 L151.32 459.79 L151.83 459.13 L152.35 458.47 L152.86 457.81 L153.37 457.16 L153.89 456.5 L154.41 455.84 L154.92 455.19 L155.44 454.54 L155.96 453.88 L156.48 453.23 L157 452.58 L157.53 451.93 L158.05 451.28 L158.58 450.63 L159.1 449.98 L159.63 449.33 L160.15 448.69 L160.68 448.04 L161.21 447.39 L161.74 446.75 L162.27 446.11 L162.81 445.46 L163.34 444.82 L163.88 444.18 L164.41 443.54 L164.95 442.9 L165.49 442.26 L166.03 441.63 L166.57 440.99 L167.11 440.36 L167.65 439.72 L168.19 439.09 L168.74 438.45 L169.28 437.82 L169.83 437.19 L170.38 436.56 L170.93 435.93 L171.48 435.3 L172.03 434.68 L172.58 434.05 L173.14 433.43 L173.69 432.8 L174.25 432.18 L174.81 431.56 L175.36 430.94 L175.92 430.31 L176.49 429.7 L177.05 429.08 L177.61 428.46 L178.18 427.84 L178.74 427.23 L179.31 426.61 L179.88 426 L180.45 425.39 L181.02 424.78 L181.59 424.17 L182.17 423.56 L182.74 422.95 L183.32 422.34 L183.89 421.74 L184.47 421.13 L185.05 420.53 L185.63 419.92 L186.21 419.32 L186.79 418.72 L187.38 418.12 L187.96 417.52 L188.55 416.92 L189.14 416.33 L189.73 415.73 L190.32 415.14 L190.91 414.54 L191.5 413.95 L192.09 413.36 L192.69 412.77 L193.28 412.18 L193.88 411.59 L194.47 411 L195.07 410.41 L195.67 409.83 L196.27 409.24 L196.88 408.66 L197.48 408.08 L198.08 407.5 L198.69 406.91 L199.29 406.34 L199.9 405.76 L200.51 405.18 L201.12 404.6 L201.73 404.03 L202.34 403.45 L202.95 402.88 L203.57 402.31 L204.18 401.74 L204.8 401.17 L205.41 400.6 L206.03 400.03 L206.65 399.46 L207.27 398.9 L207.89 398.33 L208.51 397.77 L209.14 397.21 L209.76 396.64 L210.39 396.08 L211.01 395.52 L211.64 394.97 L212.27 394.41 L212.89 393.85 L213.52 393.3 L214.16 392.74 L214.79 392.19 L215.42 391.64 L216.05 391.09 L216.69 390.54 L217.32 389.99 L217.96 389.44 L218.6 388.89 L219.24 388.35 L219.88 387.8 L220.52 387.26 L221.16 386.72 L221.8 386.17 L222.44 385.63 L223.09 385.09 L223.73 384.56 L224.38 384.02 L225.03 383.48 L225.67 382.95 L226.32 382.41 L226.97 381.88 L227.62 381.35 L228.27 380.82 L228.92 380.29 L229.58 379.76 L230.23 379.23 L230.89 378.71 L231.54 378.18 L232.2 377.66 L232.86 377.13 L233.51 376.61 L234.17 376.09 L234.83 375.57 L235.49 375.05 L236.16 374.53 L236.82 374.02 L237.48 373.5 L238.14 372.99 L238.81 372.47 L239.48 371.96 L240.14 371.45 L240.81 370.94 L241.48 370.43 L242.15 369.92 L242.82 369.42 L243.49 368.91 L244.16 368.41 L244.83 367.91 L245.51 367.41 L246.18 366.92 L246.86 366.42 L247.54 365.93 L248.22 365.44 L248.9 364.96 L249.58 364.47 L250.27 363.99 L250.95 363.51 L251.64 363.04 L252.32 362.56 L253.01 362.09 L253.71 361.63 L254.4 361.17 L255.09 360.71 L255.79 360.25 L256.49 359.8 L257.18 359.35 L257.89 358.91 L258.59 358.47 L259.29 358.03 L260 357.6 L260.71 357.17 L261.42 356.75 L262.13 356.33 L262.85 355.91 L263.56 355.5 L264.28 355.1 L265 354.7 L265.73 354.3 L266.45 353.91 L267.18 353.53 L267.91 353.15 L268.64 352.78 L269.38 352.41 L270.12 352.05 L270.86 351.69 L271.6 351.34 L272.34 350.99 L273.09 350.66 L273.84 350.32 L274.59 350 L275.35 349.68 L276.1 349.36 L276.87 349.06 L277.63 348.76 L278.39 348.46 L279.16 348.18 L279.94 347.9 L280.71 347.62 L281.49 347.36 L282.27 347.1 L283.05 346.85 L283.84 346.61 L284.63 346.37 L285.42 346.15 L286.22 345.93 L287.02 345.71 L287.82 345.51 L288.63 345.31 L289.44 345.13 L290.25 344.95 L291.07 344.78 L291.89 344.62 L292.71 344.46 L293.54 344.32 L294.37 344.18 L295.2 344.06 L296.04 343.94 L296.88 343.83 L297.72 343.73 L298.57 343.64 L299.42 343.56 L300.28 343.49 L301.14 343.43 L302 343.38 L302.87 343.34 L303.74 343.31 L304.62 343.29 L305.5 343.28" fill="none" stroke="#0000ff" stroke-width="1.75" clip-path="url(#clipc)"/>
<g stroke="#000"><line x1="66.65" y1="542.5" x2="66.65" y2="544.4" stroke-width="0.6"/><line x1="75.6" y1="542.5" x2="75.6" y2="544.4" stroke-width="0.6"/><line x1="81.95" y1="542.5" x2="81.95" y2="544.4" stroke-width="0.6"/><line x1="86.88" y1="542.5" x2="86.88" y2="544.4" stroke-width="0.6"/><line x1="90.9" y1="542.5" x2="90.9" y2="544.4" stroke-width="0.6"/><line x1="94.31" y1="542.5" x2="94.31" y2="544.4" stroke-width="0.6"/><line x1="97.25" y1="542.5" x2="97.25" y2="544.4" stroke-width="0.6"/><line x1="99.85" y1="542.5" x2="99.85" y2="544.4" stroke-width="0.6"/><line x1="102.18" y1="542.5" x2="102.18" y2="545.7" stroke-width="0.8"/><line x1="117.48" y1="542.5" x2="117.48" y2="544.4" stroke-width="0.6"/><line x1="126.43" y1="542.5" x2="126.43" y2="544.4" stroke-width="0.6"/><line x1="132.78" y1="542.5" x2="132.78" y2="544.4" stroke-width="0.6"/><line x1="137.71" y1="542.5" x2="137.71" y2="544.4" stroke-width="0.6"/><line x1="141.73" y1="542.5" x2="141.73" y2="544.4" stroke-width="0.6"/><line x1="145.14" y1="542.5" x2="145.14" y2="544.4" stroke-width="0.6"/><line x1="148.08" y1="542.5" x2="148.08" y2="544.4" stroke-width="0.6"/><line x1="150.68" y1="542.5" x2="150.68" y2="544.4" stroke-width="0.6"/><line x1="153.01" y1="542.5" x2="153.01" y2="545.7" stroke-width="0.8"/><line x1="168.31" y1="542.5" x2="168.31" y2="544.4" stroke-width="0.6"/><line x1="177.26" y1="542.5" x2="177.26" y2="544.4" stroke-width="0.6"/><line x1="183.61" y1="542.5" x2="183.61" y2="544.4" stroke-width="0.6"/><line x1="188.54" y1="542.5" x2="188.54" y2="544.4" stroke-width="0.6"/><line x1="192.56" y1="542.5" x2="192.56" y2="544.4" stroke-width="0.6"/><line x1="195.97" y1="542.5" x2="195.97" y2="544.4" stroke-width="0.6"/><line x1="198.91" y1="542.5" x2="198.91" y2="544.4" stroke-width="0.6"/><line x1="201.51" y1="542.5" x2="201.51" y2="544.4" stroke-width="0.6"/><line x1="203.84" y1="542.5" x2="203.84" y2="545.7" stroke-width="0.8"/><line x1="219.14" y1="542.5" x2="219.14" y2="544.4" stroke-width="0.6"/><line x1="228.09" y1="542.5" x2="228.09" y2="544.4" stroke-width="0.6"/><line x1="234.44" y1="542.5" x2="234.44" y2="544.4" stroke-width="0.6"/><line x1="239.37" y1="542.5" x2="239.37" y2="544.4" stroke-width="0.6"/><line x1="243.39" y1="542.5" x2="243.39" y2="544.4" stroke-width="0.6"/><line x1="246.8" y1="542.5" x2="246.8" y2="544.4" stroke-width="0.6"/><line x1="249.74" y1="542.5" x2="249.74" y2="544.4" stroke-width="0.6"/><line x1="252.34" y1="542.5" x2="252.34" y2="544.4" stroke-width="0.6"/><line x1="254.67" y1="542.5" x2="254.67" y2="545.7" stroke-width="0.8"/><line x1="269.97" y1="542.5" x2="269.97" y2="544.4" stroke-width="0.6"/><line x1="278.92" y1="542.5" x2="278.92" y2="544.4" stroke-width="0.6"/><line x1="285.27" y1="542.5" x2="285.27" y2="544.4" stroke-width="0.6"/><line x1="290.2" y1="542.5" x2="290.2" y2="544.4" stroke-width="0.6"/><line x1="294.22" y1="542.5" x2="294.22" y2="544.4" stroke-width="0.6"/><line x1="297.63" y1="542.5" x2="297.63" y2="544.4" stroke-width="0.6"/><line x1="300.57" y1="542.5" x2="300.57" y2="544.4" stroke-width="0.6"/><line x1="303.17" y1="542.5" x2="303.17" y2="544.4" stroke-width="0.6"/><line x1="305.5" y1="542.5" x2="305.5" y2="545.7" stroke-width="0.8"/><line x1="49.4" y1="542.5" x2="52.6" y2="542.5" stroke-width="0.8"/><line x1="50.7" y1="530.03" x2="52.6" y2="530.03" stroke-width="0.6"/><line x1="50.7" y1="522.74" x2="52.6" y2="522.74" stroke-width="0.6"/><line x1="50.7" y1="517.56" x2="52.6" y2="517.56" stroke-width="0.6"/><line x1="50.7" y1="513.55" x2="52.6" y2="513.55" stroke-width="0.6"/><line x1="50.7" y1="510.27" x2="52.6" y2="510.27" stroke-width="0.6"/><line x1="50.7" y1="507.5" x2="52.6" y2="507.5" stroke-width="0.6"/><line x1="50.7" y1="505.1" x2="52.6" y2="505.1" stroke-width="0.6"/><line x1="50.7" y1="502.98" x2="52.6" y2="502.98" stroke-width="0.6"/><line x1="49.4" y1="501.08" x2="52.6" y2="501.08" stroke-width="0.8"/><line x1="50.7" y1="488.62" x2="52.6" y2="488.62" stroke-width="0.6"/><line x1="50.7" y1="481.32" x2="52.6" y2="481.32" stroke-width="0.6"/><line x1="50.7" y1="476.15" x2="52.6" y2="476.15" stroke-width="0.6"/><line x1="50.7" y1="472.13" x2="52.6" y2="472.13" stroke-width="0.6"/><line x1="50.7" y1="468.85" x2="52.6" y2="468.85" stroke-width="0.6"/><line x1="50.7" y1="466.08" x2="52.6" y2="466.08" stroke-width="0.6"/><line x1="50.7" y1="463.68" x2="52.6" y2="463.68" stroke-width="0.6"/><line x1="50.7" y1="461.56" x2="52.6" y2="461.56" stroke-width="0.6"/><line x1="49.4" y1="459.67" x2="52.6" y2="459.67" stroke-width="0.8"/><line x1="50.7" y1="447.2" x2="52.6" y2="447.2" stroke-width="0.6"/><line x1="50.7" y1="439.91" x2="52.6" y2="439.91" stroke-width="0.6"/><line x1="50.7" y1="434.73" x2="52.6" y2="434.73" stroke-width="0.6"/><line x1="50.7" y1="430.72" x2="52.6" y2="430.72" stroke-width="0.6"/><line x1="50.7" y1="427.44" x2="52.6" y2="427.44" stroke-width="0.6"/><line x1="50.7" y1="424.67" x2="52.6" y2="424.67" stroke-width="0.6"/><line x1="50.7" y1="422.26" x2="52.6" y2="422.26" stroke-width="0.6"/><line x1="50.7" y1="420.15" x2="52.6" y2="420.15" stroke-width="0.6"/><line x1="49.4" y1="418.25" x2="52.6" y2="418.25" stroke-width="0.8"/><line x1="50.7" y1="405.78" x2="52.6" y2="405.78" stroke-width="0.6"/><line x1="50.7" y1="398.49" x2="52.6" y2="398.49" stroke-width="0.6"/><line x1="50.7" y1="393.31" x2="52.6" y2="393.31" stroke-width="0.6"/><line x1="50.7" y1="389.3" x2="52.6" y2="389.3" stroke-width="0.6"/><line x1="50.7" y1="386.02" x2="52.6" y2="386.02" stroke-width="0.6"/><line x1="50.7" y1="383.25" x2="52.6" y2="383.25" stroke-width="0.6"/><line x1="50.7" y1="380.85" x2="52.6" y2="380.85" stroke-width="0.6"/><line x1="50.7" y1="378.73" x2="52.6" y2="378.73" stroke-width="0.6"/><line x1="49.4" y1="376.83" x2="52.6" y2="376.83" stroke-width="0.8"/><line x1="50.7" y1="364.37" x2="52.6" y2="364.37" stroke-width="0.6"/><line x1="50.7" y1="357.07" x2="52.6" y2="357.07" stroke-width="0.6"/><line x1="50.7" y1="351.9" x2="52.6" y2="351.9" stroke-width="0.6"/><line x1="50.7" y1="347.88" x2="52.6" y2="347.88" stroke-width="0.6"/><line x1="50.7" y1="344.6" x2="52.6" y2="344.6" stroke-width="0.6"/><line x1="50.7" y1="341.83" x2="52.6" y2="341.83" stroke-width="0.6"/><line x1="50.7" y1="339.43" x2="52.6" y2="339.43" stroke-width="0.6"/><line x1="50.7" y1="337.31" x2="52.6" y2="337.31" stroke-width="0.6"/><line x1="49.4" y1="335.42" x2="52.6" y2="335.42" stroke-width="0.8"/><line x1="50.7" y1="322.95" x2="52.6" y2="322.95" stroke-width="0.6"/><line x1="50.7" y1="315.66" x2="52.6" y2="315.66" stroke-width="0.6"/><line x1="50.7" y1="310.48" x2="52.6" y2="310.48" stroke-width="0.6"/><line x1="50.7" y1="306.47" x2="52.6" y2="306.47" stroke-width="0.6"/><line x1="50.7" y1="303.19" x2="52.6" y2="303.19" stroke-width="0.6"/><line x1="50.7" y1="300.42" x2="52.6" y2="300.42" stroke-width="0.6"/><line x1="50.7" y1="298.01" x2="52.6" y2="298.01" stroke-width="0.6"/><line x1="50.7" y1="295.9" x2="52.6" y2="295.9" stroke-width="0.6"/><line x1="49.4" y1="294" x2="52.6" y2="294" stroke-width="0.8"/></g>
<text x="101.98" y="556.8" text-anchor="middle" font-size="12.8">10<tspan font-size="9.4" dx="0.4" dy="-4.8">1</tspan></text>
<text x="152.81" y="556.8" text-anchor="middle" font-size="12.8">10<tspan font-size="9.4" dx="0.4" dy="-4.8">2</tspan></text>
<text x="203.64" y="556.8" text-anchor="middle" font-size="12.8">10<tspan font-size="9.4" dx="0.4" dy="-4.8">3</tspan></text>
<text x="254.47" y="556.8" text-anchor="middle" font-size="12.8">10<tspan font-size="9.4" dx="0.4" dy="-4.8">4</tspan></text>
<text x="305.3" y="556.8" text-anchor="middle" font-size="12.8">10<tspan font-size="9.4" dx="0.4" dy="-4.8">5</tspan></text>
<text x="46.3" y="547" text-anchor="end" font-size="12.8">10<tspan font-size="9.4" dx="0.6" dy="-4.6">17</tspan></text>
<text x="46.3" y="505.58" text-anchor="end" font-size="12.8">10<tspan font-size="9.4" dx="0.6" dy="-4.6">18</tspan></text>
<text x="46.3" y="464.17" text-anchor="end" font-size="12.8">10<tspan font-size="9.4" dx="0.6" dy="-4.6">19</tspan></text>
<text x="46.3" y="422.75" text-anchor="end" font-size="12.8">10<tspan font-size="9.4" dx="0.6" dy="-4.6">20</tspan></text>
<text x="46.3" y="381.33" text-anchor="end" font-size="12.8">10<tspan font-size="9.4" dx="0.6" dy="-4.6">21</tspan></text>
<text x="46.3" y="339.92" text-anchor="end" font-size="12.8">10<tspan font-size="9.4" dx="0.6" dy="-4.6">22</tspan></text>
<text x="46.3" y="298.5" text-anchor="end" font-size="12.8">10<tspan font-size="9.4" dx="0.6" dy="-4.6">23</tspan></text>
<text x="178.5" y="570.3" text-anchor="middle" font-size="12.6" textLength="34.6" lengthAdjust="spacingAndGlyphs">r (km)</text>
<text transform="translate(14.9 418.4) rotate(-90)" text-anchor="middle" font-size="12.6" textLength="119" lengthAdjust="spacingAndGlyphs">Flux (molecules s<tspan font-size="9" dy="-4.5">&#8722;1</tspan><tspan dy="4.5">)</tspan></text>
<text x="287.75" y="529.4" text-anchor="middle" font-size="12.4" textLength="17.3" lengthAdjust="spacingAndGlyphs" style="stroke-width:0.08px">(c)</text>
<path d="M405.48 542.49 L405.89 541.76 L406.31 541.04 L406.73 540.32 L407.15 539.59 L407.57 538.87 L407.99 538.15 L408.42 537.43 L408.84 536.71 L409.26 535.99 L409.69 535.27 L410.11 534.55 L410.54 533.83 L410.97 533.11 L411.39 532.39 L411.82 531.68 L412.25 530.96 L412.68 530.24 L413.11 529.53 L413.55 528.81 L413.98 528.09 L414.41 527.38 L414.85 526.66 L415.28 525.95 L415.72 525.24 L416.15 524.52 L416.59 523.81 L417.03 523.1 L417.47 522.39 L417.91 521.67 L418.35 520.96 L418.79 520.25 L419.23 519.54 L419.67 518.83 L420.12 518.12 L420.56 517.42 L421.01 516.71 L421.45 516 L421.9 515.29 L422.35 514.59 L422.79 513.88 L423.24 513.17 L423.69 512.47 L424.14 511.76 L424.6 511.06 L425.05 510.36 L425.5 509.65 L425.95 508.95 L426.41 508.25 L426.86 507.55 L427.32 506.84 L427.78 506.14 L428.24 505.44 L428.7 504.74 L429.15 504.05 L429.61 503.35 L430.08 502.65 L430.54 501.95 L431 501.25 L431.46 500.56 L431.93 499.86 L432.39 499.17 L432.86 498.47 L433.33 497.78 L433.79 497.08 L434.26 496.39 L434.73 495.7 L435.2 495.01 L435.67 494.31 L436.15 493.62 L436.62 492.93 L437.09 492.24 L437.57 491.55 L438.04 490.86 L438.52 490.18 L438.99 489.49 L439.47 488.8 L439.95 488.12 L440.43 487.43 L440.91 486.74 L441.39 486.06 L441.87 485.38 L442.35 484.69 L442.84 484.01 L443.32 483.33 L443.8 482.65 L444.29 481.96 L444.78 481.28 L445.26 480.6 L445.75 479.92 L446.24 479.25 L446.73 478.57 L447.22 477.89 L447.71 477.21 L448.21 476.54 L448.7 475.86 L449.19 475.19 L449.69 474.51 L450.18 473.84 L450.68 473.17 L451.18 472.49 L451.68 471.82 L452.17 471.15 L452.67 470.48 L453.17 469.81 L453.68 469.14 L454.18 468.47 L454.68 467.8 L455.19 467.14 L455.69 466.47 L456.2 465.8 L456.7 465.14 L457.21 464.47 L457.72 463.81 L458.23 463.15 L458.74 462.48 L459.25 461.82 L459.76 461.16 L460.27 460.5 L460.79 459.84 L461.3 459.18 L461.82 458.52 L462.33 457.86 L462.85 457.21 L463.37 456.55 L463.88 455.9 L464.4 455.24 L464.92 454.59 L465.45 453.93 L465.97 453.28 L466.49 452.63 L467.01 451.97 L467.54 451.32 L468.06 450.67 L468.59 450.02 L469.12 449.38 L469.64 448.73 L470.17 448.08 L470.7 447.43 L471.23 446.79 L471.76 446.14 L472.3 445.5 L472.83 444.85 L473.36 444.21 L473.9 443.57 L474.43 442.93 L474.97 442.29 L475.51 441.65 L476.05 441.01 L476.59 440.37 L477.13 439.73 L477.67 439.1 L478.21 438.46 L478.75 437.82 L479.29 437.19 L479.84 436.56 L480.38 435.92 L480.93 435.29 L481.48 434.66 L482.02 434.03 L482.57 433.4 L483.12 432.77 L483.67 432.14 L484.22 431.51 L484.78 430.89 L485.33 430.26 L485.88 429.63 L486.44 429.01 L486.99 428.39 L487.55 427.76 L488.11 427.14 L488.67 426.52 L489.23 425.9 L489.79 425.28 L490.35 424.66 L490.91 424.04 L491.47 423.43 L492.04 422.81 L492.6 422.19 L493.17 421.58 L493.73 420.96 L494.3 420.35 L494.87 419.74 L495.44 419.13 L496.01 418.52 L496.58 417.91 L497.15 417.3 L497.72 416.69 L498.29 416.08 L498.87 415.47 L499.44 414.87 L500.02 414.26 L500.59 413.66 L501.17 413.05 L501.75 412.45 L502.33 411.85 L502.91 411.25 L503.49 410.64 L504.07 410.04 L504.65 409.44 L505.23 408.84 L505.81 408.25 L506.4 407.65 L506.98 407.05 L507.57 406.45 L508.15 405.86 L508.74 405.26 L509.33 404.67 L509.91 404.07 L510.5 403.48 L511.09 402.89 L511.68 402.29 L512.27 401.7 L512.86 401.11 L513.45 400.52 L514.04 399.93 L514.64 399.34 L515.23 398.75 L515.82 398.16 L516.42 397.57 L517.01 396.99 L517.61 396.4 L518.2 395.81 L518.8 395.23 L519.4 394.64 L519.99 394.06 L520.59 393.47 L521.19 392.89 L521.79 392.3 L522.39 391.72 L522.99 391.14 L523.59 390.55 L524.19 389.97 L524.79 389.39 L525.39 388.81 L525.99 388.23 L526.59 387.65 L527.2 387.07 L527.8 386.49 L528.4 385.91 L529.01 385.33 L529.61 384.75 L530.22 384.18 L530.82 383.6 L531.43 383.02 L532.04 382.44 L532.64 381.87 L533.25 381.29 L533.86 380.72 L534.47 380.14 L535.07 379.57 L535.68 378.99 L536.29 378.42 L536.9 377.85 L537.51 377.27 L538.12 376.7 L538.73 376.13 L539.35 375.56 L539.96 374.99 L540.57 374.42 L541.18 373.85 L541.8 373.28 L542.41 372.71 L543.02 372.14 L543.64 371.57 L544.25 371 L544.87 370.44 L545.48 369.87 L546.1 369.3 L546.71 368.74 L547.33 368.17 L547.95 367.61 L548.57 367.04 L549.18 366.48 L549.8 365.91 L550.42 365.35 L551.04 364.79 L551.66 364.23 L552.28 363.66 L552.9 363.1 L553.52 362.54 L554.14 361.98 L554.76 361.42 L555.38 360.86 L556.01 360.3 L556.63 359.75 L557.25 359.19 L557.88 358.63 L558.5 358.07 L559.13 357.52 L559.75 356.96 L560.38 356.41 L561 355.86 L561.63 355.3 L562.26 354.75 L562.89 354.2 L563.52 353.65 L564.15 353.1 L564.78 352.55 L565.41 352 L566.04 351.45 L566.67 350.91 L567.3 350.36 L567.94 349.82 L568.57 349.27 L569.21 348.73 L569.84 348.19 L570.48 347.65 L571.12 347.11 L571.76 346.57 L572.39 346.03 L573.03 345.5 L573.68 344.96 L574.32 344.43 L574.96 343.89 L575.6 343.36 L576.25 342.83 L576.89 342.3 L577.54 341.77 L578.18 341.24 L578.83 340.72 L579.48 340.19 L580.13 339.67 L580.78 339.15 L581.43 338.62 L582.09 338.11 L582.74 337.59 L583.39 337.07 L584.05 336.55 L584.71 336.04 L585.37 335.53 L586.02 335.02 L586.68 334.51 L587.35 334 L588.01 333.49 L588.67 332.99 L589.34 332.48 L590 331.98 L590.67 331.48 L591.34 330.98 L592.01 330.48 L592.68 329.99 L593.35 329.49 L594.02 329 L594.7 328.51 L595.37 328.02 L596.05 327.53 L596.73 327.05 L597.41 326.56 L598.09 326.08 L598.77 325.6 L599.45 325.12 L600.14 324.64 L600.83 324.17 L601.51 323.7 L602.2 323.22 L602.89 322.76 L603.59 322.29 L604.28 321.82 L604.97 321.36 L605.67 320.9 L606.37 320.44 L607.07 319.98 L607.77 319.53 L608.47 319.07 L609.18 318.62 L609.88 318.17 L610.59 317.73 L611.3 317.28 L612.01 316.84 L612.72 316.4 L613.43 315.96 L614.15 315.52 L614.86 315.09 L615.58 314.66 L616.3 314.23 L617.03 313.8 L617.75 313.38 L618.47 312.96 L619.2 312.54 L619.93 312.12 L620.66 311.7 L621.39 311.29" fill="none" stroke="#ff0000" stroke-width="1.75" stroke-dasharray="4.41,1.47,1.47,1.47,1.47,1.47" clip-path="url(#clipd)"/>
<path d="M383.02 542.52 L383.43 541.79 L383.84 541.05 L384.25 540.32 L384.67 539.59 L385.08 538.86 L385.5 538.13 L385.92 537.41 L386.34 536.68 L386.76 535.96 L387.18 535.23 L387.6 534.51 L388.03 533.79 L388.45 533.06 L388.88 532.34 L389.31 531.62 L389.74 530.91 L390.18 530.19 L390.61 529.47 L391.04 528.76 L391.48 528.04 L391.92 527.33 L392.36 526.61 L392.8 525.9 L393.24 525.19 L393.68 524.48 L394.13 523.77 L394.58 523.07 L395.02 522.36 L395.47 521.65 L395.92 520.95 L396.37 520.24 L396.83 519.54 L397.28 518.84 L397.74 518.14 L398.19 517.44 L398.65 516.74 L399.11 516.04 L399.57 515.34 L400.03 514.65 L400.5 513.95 L400.96 513.26 L401.43 512.56 L401.9 511.87 L402.37 511.18 L402.84 510.49 L403.31 509.8 L403.78 509.11 L404.25 508.42 L404.73 507.73 L405.21 507.05 L405.68 506.36 L406.16 505.68 L406.64 505 L407.12 504.31 L407.61 503.63 L408.09 502.95 L408.58 502.27 L409.06 501.59 L409.55 500.92 L410.04 500.24 L410.53 499.57 L411.02 498.89 L411.51 498.22 L412.01 497.54 L412.5 496.87 L413 496.2 L413.5 495.53 L414 494.86 L414.5 494.19 L415 493.53 L415.5 492.86 L416 492.2 L416.51 491.53 L417.01 490.87 L417.52 490.21 L418.03 489.54 L418.54 488.88 L419.05 488.22 L419.56 487.56 L420.08 486.91 L420.59 486.25 L421.11 485.59 L421.62 484.94 L422.14 484.28 L422.66 483.63 L423.18 482.98 L423.7 482.33 L424.22 481.68 L424.74 481.03 L425.27 480.38 L425.8 479.73 L426.32 479.08 L426.85 478.44 L427.38 477.79 L427.91 477.15 L428.44 476.5 L428.97 475.86 L429.51 475.22 L430.04 474.58 L430.58 473.94 L431.11 473.3 L431.65 472.66 L432.19 472.03 L432.73 471.39 L433.27 470.76 L433.81 470.12 L434.35 469.49 L434.9 468.86 L435.44 468.23 L435.99 467.59 L436.54 466.96 L437.09 466.34 L437.63 465.71 L438.19 465.08 L438.74 464.46 L439.29 463.83 L439.84 463.21 L440.4 462.58 L440.95 461.96 L441.51 461.34 L442.07 460.72 L442.63 460.1 L443.18 459.48 L443.75 458.86 L444.31 458.24 L444.87 457.63 L445.43 457.01 L446 456.4 L446.56 455.78 L447.13 455.17 L447.7 454.56 L448.26 453.95 L448.83 453.34 L449.4 452.73 L449.98 452.12 L450.55 451.51 L451.12 450.91 L451.7 450.3 L452.27 449.7 L452.85 449.09 L453.42 448.49 L454 447.89 L454.58 447.29 L455.16 446.69 L455.74 446.09 L456.32 445.49 L456.9 444.89 L457.49 444.29 L458.07 443.7 L458.66 443.1 L459.24 442.51 L459.83 441.92 L460.42 441.32 L461.01 440.73 L461.6 440.14 L462.19 439.55 L462.78 438.96 L463.37 438.37 L463.96 437.79 L464.56 437.2 L465.15 436.61 L465.75 436.03 L466.34 435.45 L466.94 434.86 L467.54 434.28 L468.14 433.7 L468.74 433.12 L469.34 432.54 L469.94 431.96 L470.54 431.38 L471.14 430.81 L471.75 430.23 L472.35 429.65 L472.96 429.08 L473.57 428.51 L474.17 427.93 L474.78 427.36 L475.39 426.79 L476 426.22 L476.61 425.65 L477.22 425.08 L477.83 424.52 L478.44 423.95 L479.06 423.38 L479.67 422.82 L480.29 422.25 L480.9 421.69 L481.52 421.13 L482.14 420.57 L482.75 420 L483.37 419.44 L483.99 418.89 L484.61 418.33 L485.23 417.77 L485.86 417.21 L486.48 416.66 L487.1 416.1 L487.72 415.55 L488.35 414.99 L488.97 414.44 L489.6 413.89 L490.23 413.34 L490.85 412.79 L491.48 412.24 L492.11 411.69 L492.74 411.14 L493.37 410.59 L494 410.05 L494.63 409.5 L495.26 408.95 L495.89 408.41 L496.52 407.86 L497.15 407.32 L497.79 406.77 L498.42 406.23 L499.05 405.69 L499.69 405.15 L500.32 404.61 L500.96 404.06 L501.59 403.52 L502.23 402.98 L502.87 402.44 L503.5 401.9 L504.14 401.36 L504.78 400.83 L505.42 400.29 L506.05 399.75 L506.69 399.21 L507.33 398.68 L507.97 398.14 L508.61 397.6 L509.25 397.07 L509.89 396.53 L510.53 395.99 L511.17 395.46 L511.81 394.92 L512.45 394.39 L513.09 393.85 L513.73 393.32 L514.38 392.78 L515.02 392.25 L515.66 391.71 L516.3 391.18 L516.94 390.65 L517.58 390.11 L518.23 389.58 L518.87 389.04 L519.51 388.51 L520.15 387.98 L520.8 387.44 L521.44 386.91 L522.08 386.37 L522.72 385.84 L523.37 385.31 L524.01 384.77 L524.65 384.24 L525.29 383.71 L525.94 383.17 L526.58 382.64 L527.22 382.11 L527.87 381.57 L528.51 381.04 L529.15 380.51 L529.8 379.97 L530.44 379.44 L531.08 378.91 L531.73 378.38 L532.37 377.84 L533.02 377.31 L533.66 376.78 L534.31 376.25 L534.95 375.72 L535.6 375.19 L536.24 374.65 L536.89 374.12 L537.53 373.59 L538.18 373.06 L538.82 372.53 L539.47 372 L540.11 371.47 L540.76 370.94 L541.41 370.41 L542.05 369.88 L542.7 369.35 L543.35 368.82 L543.99 368.3 L544.64 367.77 L545.29 367.24 L545.94 366.71 L546.59 366.18 L547.23 365.66 L547.88 365.13 L548.53 364.6 L549.18 364.07 L549.83 363.55 L550.48 363.02 L551.13 362.5 L551.78 361.97 L552.43 361.45 L553.08 360.92 L553.73 360.4 L554.38 359.87 L555.03 359.35 L555.68 358.83 L556.34 358.3 L556.99 357.78 L557.64 357.26 L558.29 356.74 L558.95 356.22 L559.6 355.7 L560.26 355.18 L560.91 354.66 L561.57 354.14 L562.22 353.62 L562.88 353.11 L563.54 352.59 L564.19 352.08 L564.85 351.56 L565.51 351.05 L566.17 350.54 L566.83 350.02 L567.49 349.51 L568.15 349 L568.81 348.49 L569.47 347.99 L570.14 347.48 L570.8 346.97 L571.47 346.47 L572.13 345.96 L572.8 345.46 L573.46 344.96 L574.13 344.46 L574.8 343.96 L575.47 343.46 L576.14 342.96 L576.81 342.47 L577.48 341.97 L578.15 341.48 L578.82 340.99 L579.5 340.49 L580.17 340 L580.85 339.52 L581.53 339.03 L582.2 338.54 L582.88 338.06 L583.56 337.58 L584.24 337.1 L584.92 336.62 L585.61 336.14 L586.29 335.66 L586.97 335.19 L587.66 334.72 L588.35 334.25 L589.04 333.78 L589.72 333.31 L590.42 332.84 L591.11 332.38 L591.8 331.91 L592.49 331.45 L593.19 330.99 L593.88 330.54 L594.58 330.08 L595.28 329.63 L595.98 329.18 L596.68 328.73 L597.38 328.28 L598.09 327.83 L598.79 327.39 L599.5 326.95 L600.21 326.51 L600.92 326.07 L601.63 325.64 L602.34 325.2 L603.05 324.77 L603.77 324.34 L604.48 323.92 L605.2 323.49 L605.92 323.07 L606.64 322.65 L607.36 322.23 L608.09 321.82 L608.81 321.41 L609.54 321 L610.27 320.59 L611 320.18 L611.73 319.78 L612.46 319.38 L613.19 318.98 L613.93 318.58 L614.67 318.19 L615.41 317.8 L616.15 317.41 L616.89 317.03 L617.64 316.65 L618.38 316.27 L619.13 315.89 L619.88 315.52 L620.63 315.14 L621.39 314.77" fill="none" stroke="#bfbf00" stroke-width="1.75" stroke-dasharray="9.41,2.35,1.47,2.35" clip-path="url(#clipd)"/>
<path d="M370.5 542.49 L370.58 541.7 L370.66 540.9 L370.74 540.1 L370.82 539.3 L370.89 538.49 L370.97 537.68 L371.05 536.86 L371.12 536.04 L371.2 535.22 L371.28 534.4 L371.36 533.58 L371.44 532.75 L371.53 531.92 L371.61 531.09 L371.7 530.26 L371.79 529.42 L371.88 528.58 L371.97 527.75 L372.07 526.91 L372.17 526.07 L372.27 525.23 L372.38 524.39 L372.49 523.54 L372.6 522.7 L372.72 521.86 L372.84 521.02 L372.97 520.17 L373.1 519.33 L373.23 518.49 L373.38 517.65 L373.52 516.81 L373.67 515.97 L373.83 515.13 L373.99 514.29 L374.16 513.45 L374.34 512.62 L374.52 511.78 L374.71 510.95 L374.9 510.12 L375.1 509.3 L375.31 508.47 L375.53 507.65 L375.75 506.83 L375.98 506.01 L376.23 505.19 L376.47 504.38 L376.73 503.57 L377 502.77 L377.27 501.96 L377.56 501.17 L377.85 500.37 L378.15 499.58 L378.46 498.79 L378.79 498.01 L379.12 497.23 L379.46 496.46 L379.81 495.69 L380.18 494.93 L380.55 494.17 L380.93 493.42 L381.32 492.68 L381.73 491.94 L382.14 491.21 L382.56 490.49 L382.99 489.77 L383.44 489.06 L383.89 488.36 L384.35 487.67 L384.83 486.99 L385.31 486.31 L385.8 485.65 L386.31 484.99 L386.82 484.35 L387.34 483.71 L387.88 483.09 L388.42 482.47 L388.98 481.87 L389.54 481.28 L390.12 480.7 L390.7 480.13 L391.3 479.57 L391.9 479.03 L392.52 478.5 L393.14 477.98 L393.78 477.47 L394.42 476.98 L395.08 476.5 L395.74 476.03 L396.41 475.57 L397.09 475.13 L397.78 474.7 L398.48 474.28 L399.18 473.87 L399.89 473.48 L400.61 473.09 L401.34 472.72 L402.07 472.37 L402.81 472.02 L403.56 471.69 L404.31 471.37 L405.07 471.06 L405.84 470.76 L406.6 470.48 L407.38 470.21 L408.16 469.94 L408.95 469.7 L409.74 469.46 L410.53 469.23 L411.33 469.01 L412.13 468.8 L412.94 468.6 L413.75 468.42 L414.57 468.24 L415.38 468.06 L416.21 467.9 L417.03 467.75 L417.86 467.6 L418.69 467.46 L419.53 467.33 L420.36 467.2 L421.2 467.08 L422.04 466.97 L422.89 466.86 L423.73 466.76 L424.58 466.67 L425.42 466.58 L426.27 466.49 L427.13 466.41 L427.98 466.33 L428.83 466.25 L429.68 466.18 L430.54 466.12 L431.39 466.05 L432.24 465.99 L433.1 465.93 L433.95 465.87 L434.8 465.81 L435.66 465.75 L436.51 465.7 L437.36 465.64 L438.21 465.59 L439.06 465.53 L439.91 465.48 L440.75 465.42 L441.6 465.37 L442.44 465.31 L443.28 465.25 L444.12 465.2 L444.97 465.14 L445.8 465.08 L446.64 465.03 L447.48 464.97 L448.32 464.91 L449.15 464.86 L449.99 464.8 L450.82 464.74 L451.66 464.69 L452.49 464.63 L453.32 464.58 L454.16 464.52 L454.99 464.47 L455.82 464.41 L456.65 464.36 L457.49 464.3 L458.32 464.25 L459.15 464.19 L459.98 464.14 L460.81 464.09 L461.65 464.04 L462.48 463.99 L463.31 463.94 L464.14 463.89 L464.98 463.84 L465.81 463.79 L466.64 463.74 L467.48 463.7 L468.31 463.65 L469.14 463.6 L469.97 463.56 L470.81 463.51 L471.64 463.47 L472.47 463.42 L473.31 463.38 L474.14 463.33 L474.97 463.29 L475.81 463.25 L476.64 463.21 L477.48 463.17 L478.31 463.12 L479.14 463.08 L479.98 463.04 L480.81 463.01 L481.65 462.97 L482.48 462.93 L483.31 462.89 L484.15 462.85 L484.98 462.82 L485.82 462.78 L486.65 462.74 L487.49 462.71 L488.32 462.67 L489.16 462.64 L489.99 462.6 L490.83 462.57 L491.66 462.54 L492.5 462.5 L493.33 462.47 L494.17 462.44 L495 462.41 L495.84 462.38 L496.67 462.35 L497.51 462.32 L498.34 462.29 L499.18 462.26 L500.01 462.23 L500.85 462.2 L501.68 462.17 L502.52 462.14 L503.36 462.12 L504.19 462.09 L505.03 462.06 L505.86 462.04 L506.7 462.01 L507.54 461.99 L508.37 461.96 L509.21 461.94 L510.04 461.91 L510.88 461.89 L511.72 461.86 L512.55 461.84 L513.39 461.82 L514.22 461.8 L515.06 461.77 L515.9 461.75 L516.73 461.73 L517.57 461.71 L518.41 461.69 L519.24 461.67 L520.08 461.65 L520.92 461.63 L521.75 461.61 L522.59 461.59 L523.43 461.57 L524.26 461.55 L525.1 461.54 L525.94 461.52 L526.77 461.5 L527.61 461.48 L528.45 461.47 L529.29 461.45 L530.12 461.44 L530.96 461.42 L531.8 461.4 L532.63 461.39 L533.47 461.37 L534.31 461.36 L535.15 461.35 L535.98 461.33 L536.82 461.32 L537.66 461.3 L538.49 461.29 L539.33 461.28 L540.17 461.26 L541.01 461.25 L541.84 461.24 L542.68 461.23 L543.52 461.22 L544.36 461.21 L545.19 461.19 L546.03 461.18 L546.87 461.17 L547.71 461.16 L548.54 461.15 L549.38 461.14 L550.22 461.13 L551.06 461.12 L551.89 461.11 L552.73 461.1 L553.57 461.09 L554.41 461.09 L555.24 461.08 L556.08 461.07 L556.92 461.06 L557.76 461.05 L558.6 461.05 L559.43 461.04 L560.27 461.03 L561.11 461.02 L561.95 461.02 L562.78 461.01 L563.62 461 L564.46 461 L565.3 460.99 L566.14 460.99 L566.97 460.98 L567.81 460.97 L568.65 460.97 L569.49 460.96 L570.32 460.96 L571.16 460.95 L572 460.95 L572.84 460.94 L573.67 460.94 L574.51 460.93 L575.35 460.93 L576.19 460.92 L577.03 460.92 L577.86 460.92 L578.7 460.91 L579.54 460.91 L580.38 460.91 L581.21 460.9 L582.05 460.9 L582.89 460.89 L583.73 460.89 L584.56 460.89 L585.4 460.89 L586.24 460.88 L587.08 460.88 L587.92 460.88 L588.75 460.87 L589.59 460.87 L590.43 460.87 L591.27 460.87 L592.1 460.86 L592.94 460.86 L593.78 460.86 L594.62 460.86 L595.45 460.86 L596.29 460.85 L597.13 460.85 L597.97 460.85 L598.8 460.85 L599.64 460.85 L600.48 460.84 L601.31 460.84 L602.15 460.84 L602.99 460.84 L603.83 460.84 L604.66 460.83 L605.5 460.83 L606.34 460.83 L607.17 460.83 L608.01 460.83 L608.85 460.83 L609.69 460.82 L610.52 460.82 L611.36 460.82 L612.2 460.82 L613.03 460.82 L613.87 460.82 L614.71 460.81 L615.54 460.81 L616.38 460.81 L617.22 460.81 L618.05 460.81 L618.89 460.81 L619.73 460.8 L620.56 460.8 L621.4 460.8" fill="none" stroke="#bf00bf" stroke-width="1.75" stroke-dasharray="5.44,2.35" clip-path="url(#clipd)"/>
<path d="M368.63 468.01 L368.66 467.19 L368.7 466.36 L368.75 465.53 L368.8 464.7 L368.86 463.87 L368.92 463.03 L369 462.2 L369.08 461.36 L369.16 460.53 L369.26 459.69 L369.36 458.85 L369.46 458.01 L369.58 457.17 L369.7 456.33 L369.83 455.5 L369.96 454.66 L370.11 453.82 L370.26 452.98 L370.41 452.15 L370.58 451.31 L370.75 450.48 L370.93 449.64 L371.12 448.81 L371.31 447.98 L371.52 447.16 L371.73 446.33 L371.95 445.51 L372.17 444.69 L372.41 443.87 L372.65 443.05 L372.9 442.24 L373.16 441.43 L373.42 440.63 L373.7 439.83 L373.98 439.03 L374.27 438.23 L374.57 437.44 L374.87 436.66 L375.19 435.88 L375.51 435.1 L375.84 434.33 L376.19 433.56 L376.53 432.8 L376.89 432.04 L377.26 431.29 L377.63 430.54 L378.02 429.8 L378.41 429.07 L378.81 428.34 L379.22 427.62 L379.64 426.91 L380.07 426.2 L380.51 425.5 L380.95 424.8 L381.41 424.12 L381.87 423.44 L382.35 422.77 L382.83 422.1 L383.32 421.45 L383.82 420.8 L384.33 420.16 L384.85 419.53 L385.38 418.9 L385.92 418.28 L386.46 417.67 L387.02 417.07 L387.58 416.48 L388.15 415.89 L388.72 415.31 L389.31 414.73 L389.9 414.16 L390.5 413.6 L391.1 413.05 L391.72 412.5 L392.34 411.96 L392.97 411.42 L393.6 410.9 L394.24 410.37 L394.88 409.86 L395.54 409.35 L396.19 408.85 L396.86 408.35 L397.53 407.86 L398.2 407.37 L398.88 406.89 L399.57 406.42 L400.26 405.95 L400.95 405.49 L401.65 405.03 L402.36 404.57 L403.07 404.13 L403.78 403.69 L404.5 403.25 L405.22 402.82 L405.95 402.39 L406.68 401.97 L407.41 401.55 L408.14 401.14 L408.88 400.73 L409.62 400.32 L410.37 399.92 L411.12 399.53 L411.87 399.14 L412.62 398.75 L413.38 398.37 L414.13 397.99 L414.89 397.61 L415.66 397.24 L416.42 396.88 L417.18 396.51 L417.95 396.15 L418.72 395.8 L419.49 395.44 L420.25 395.09 L421.02 394.75 L421.8 394.4 L422.57 394.06 L423.34 393.73 L424.12 393.39 L424.89 393.06 L425.67 392.73 L426.44 392.41 L427.22 392.09 L428 391.77 L428.78 391.46 L429.56 391.15 L430.34 390.84 L431.12 390.53 L431.9 390.23 L432.69 389.93 L433.47 389.64 L434.26 389.34 L435.04 389.05 L435.83 388.77 L436.62 388.48 L437.41 388.2 L438.19 387.92 L438.98 387.65 L439.78 387.38 L440.57 387.11 L441.36 386.84 L442.15 386.58 L442.95 386.32 L443.74 386.06 L444.54 385.8 L445.33 385.55 L446.13 385.3 L446.93 385.05 L447.72 384.81 L448.52 384.57 L449.32 384.33 L450.12 384.1 L450.92 383.86 L451.73 383.63 L452.53 383.4 L453.33 383.18 L454.14 382.96 L454.94 382.74 L455.75 382.52 L456.55 382.3 L457.36 382.09 L458.17 381.88 L458.97 381.68 L459.78 381.47 L460.59 381.27 L461.4 381.07 L462.21 380.87 L463.02 380.68 L463.83 380.48 L464.64 380.29 L465.46 380.11 L466.27 379.92 L467.08 379.74 L467.9 379.56 L468.71 379.38 L469.53 379.21 L470.35 379.03 L471.16 378.86 L471.98 378.69 L472.8 378.53 L473.62 378.36 L474.44 378.2 L475.25 378.04 L476.07 377.88 L476.89 377.73 L477.72 377.57 L478.54 377.42 L479.36 377.27 L480.18 377.12 L481 376.98 L481.83 376.84 L482.65 376.7 L483.48 376.56 L484.3 376.42 L485.13 376.29 L485.95 376.15 L486.78 376.02 L487.6 375.89 L488.43 375.77 L489.26 375.64 L490.09 375.52 L490.91 375.4 L491.74 375.28 L492.57 375.16 L493.4 375.04 L494.23 374.93 L495.06 374.82 L495.89 374.71 L496.72 374.6 L497.56 374.49 L498.39 374.39 L499.22 374.29 L500.05 374.19 L500.88 374.09 L501.72 373.99 L502.55 373.89 L503.38 373.8 L504.22 373.7 L505.05 373.61 L505.89 373.52 L506.72 373.43 L507.56 373.35 L508.39 373.26 L509.23 373.18 L510.07 373.1 L510.9 373.02 L511.74 372.94 L512.58 372.86 L513.41 372.79 L514.25 372.71 L515.09 372.64 L515.93 372.57 L516.76 372.5 L517.6 372.43 L518.44 372.36 L519.28 372.29 L520.12 372.23 L520.96 372.17 L521.8 372.1 L522.64 372.04 L523.48 371.98 L524.32 371.92 L525.16 371.87 L526 371.81 L526.84 371.76 L527.68 371.7 L528.52 371.65 L529.36 371.6 L530.2 371.55 L531.04 371.5 L531.88 371.45 L532.72 371.41 L533.57 371.36 L534.41 371.32 L535.25 371.27 L536.09 371.23 L536.93 371.19 L537.78 371.15 L538.62 371.11 L539.46 371.07 L540.3 371.03 L541.14 371 L541.99 370.96 L542.83 370.93 L543.67 370.89 L544.51 370.86 L545.36 370.83 L546.2 370.8 L547.04 370.77 L547.88 370.74 L548.73 370.71 L549.57 370.68 L550.41 370.65 L551.25 370.63 L552.1 370.6 L552.94 370.57 L553.78 370.55 L554.62 370.53 L555.47 370.5 L556.31 370.48 L557.15 370.46 L557.99 370.44 L558.84 370.42 L559.68 370.4 L560.52 370.38 L561.36 370.36 L562.2 370.34 L563.05 370.32 L563.89 370.3 L564.73 370.29 L565.57 370.27 L566.41 370.26 L567.25 370.24 L568.09 370.22 L568.94 370.21 L569.78 370.2 L570.62 370.18 L571.46 370.17 L572.3 370.15 L573.14 370.14 L573.98 370.13 L574.82 370.12 L575.66 370.1 L576.5 370.09 L577.34 370.08 L578.18 370.07 L579.02 370.06 L579.85 370.05 L580.69 370.04 L581.53 370.03 L582.37 370.02 L583.21 370.01 L584.04 370 L584.88 369.98 L585.72 369.97 L586.56 369.96 L587.39 369.96 L588.23 369.95 L589.07 369.94 L589.9 369.93 L590.74 369.92 L591.57 369.91 L592.41 369.9 L593.24 369.89 L594.08 369.88 L594.91 369.87 L595.74 369.86 L596.58 369.84 L597.41 369.83 L598.24 369.82 L599.07 369.81 L599.91 369.8 L600.74 369.79 L601.57 369.78 L602.4 369.77 L603.23 369.75 L604.06 369.74 L604.89 369.73 L605.72 369.72 L606.55 369.7 L607.38 369.69 L608.21 369.68 L609.03 369.66 L609.86 369.65 L610.69 369.63 L611.51 369.62 L612.34 369.6 L613.17 369.58 L613.99 369.57 L614.82 369.55 L615.64 369.53 L616.46 369.51 L617.29 369.5 L618.11 369.48 L618.93 369.46 L619.75 369.44 L620.58 369.42 L621.4 369.39" fill="none" stroke="#008000" stroke-width="1.75" stroke-dasharray="1.47,2.43" clip-path="url(#clipd)"/>
<path d="M368.81 520.51 L368.87 519.65 L368.94 518.79 L369.03 517.93 L369.12 517.08 L369.23 516.23 L369.34 515.39 L369.47 514.55 L369.61 513.71 L369.76 512.88 L369.92 512.05 L370.09 511.23 L370.27 510.41 L370.46 509.59 L370.67 508.78 L370.88 507.97 L371.1 507.17 L371.33 506.37 L371.57 505.57 L371.83 504.78 L372.09 503.99 L372.36 503.2 L372.64 502.42 L372.92 501.65 L373.22 500.88 L373.53 500.11 L373.84 499.34 L374.16 498.58 L374.5 497.83 L374.83 497.07 L375.18 496.32 L375.54 495.58 L375.9 494.84 L376.27 494.1 L376.65 493.37 L377.04 492.64 L377.43 491.91 L377.83 491.19 L378.24 490.47 L378.66 489.76 L379.08 489.05 L379.51 488.34 L379.94 487.64 L380.39 486.94 L380.84 486.24 L381.29 485.55 L381.75 484.86 L382.22 484.18 L382.69 483.49 L383.17 482.82 L383.65 482.14 L384.14 481.47 L384.63 480.8 L385.13 480.14 L385.64 479.48 L386.15 478.82 L386.66 478.17 L387.18 477.52 L387.7 476.87 L388.23 476.22 L388.76 475.58 L389.3 474.94 L389.84 474.31 L390.38 473.68 L390.93 473.05 L391.48 472.43 L392.04 471.8 L392.6 471.18 L393.16 470.57 L393.72 469.95 L394.29 469.34 L394.86 468.74 L395.44 468.13 L396.02 467.53 L396.6 466.93 L397.18 466.33 L397.77 465.74 L398.36 465.15 L398.95 464.56 L399.54 463.97 L400.14 463.39 L400.74 462.8 L401.34 462.22 L401.95 461.64 L402.56 461.07 L403.17 460.49 L403.78 459.92 L404.39 459.35 L405.01 458.78 L405.62 458.21 L406.24 457.65 L406.87 457.09 L407.49 456.52 L408.11 455.96 L408.74 455.41 L409.37 454.85 L410 454.29 L410.63 453.74 L411.26 453.19 L411.9 452.63 L412.53 452.08 L413.17 451.53 L413.8 450.98 L414.44 450.44 L415.08 449.89 L415.72 449.34 L416.36 448.8 L417 448.26 L417.65 447.71 L418.29 447.17 L418.93 446.63 L419.58 446.09 L420.22 445.55 L420.86 445.01 L421.51 444.47 L422.15 443.93 L422.8 443.39 L423.44 442.85 L424.09 442.31 L424.73 441.77 L425.38 441.23 L426.02 440.69 L426.67 440.16 L427.31 439.62 L427.96 439.08 L428.6 438.54 L429.24 438 L429.88 437.46 L430.53 436.92 L431.17 436.38 L431.81 435.84 L432.45 435.3 L433.09 434.76 L433.73 434.22 L434.36 433.68 L435 433.14 L435.64 432.6 L436.28 432.05 L436.91 431.51 L437.55 430.97 L438.19 430.43 L438.82 429.89 L439.46 429.35 L440.1 428.8 L440.73 428.26 L441.37 427.72 L442 427.18 L442.64 426.64 L443.27 426.1 L443.91 425.56 L444.54 425.01 L445.17 424.47 L445.81 423.93 L446.44 423.39 L447.08 422.85 L447.71 422.31 L448.35 421.77 L448.98 421.23 L449.62 420.69 L450.25 420.15 L450.89 419.61 L451.52 419.07 L452.16 418.54 L452.79 418 L453.43 417.46 L454.06 416.92 L454.7 416.39 L455.34 415.85 L455.97 415.31 L456.61 414.78 L457.25 414.24 L457.89 413.71 L458.52 413.17 L459.16 412.64 L459.8 412.11 L460.44 411.57 L461.08 411.04 L461.72 410.51 L462.36 409.98 L463.01 409.45 L463.65 408.92 L464.29 408.39 L464.93 407.86 L465.58 407.33 L466.22 406.81 L466.87 406.28 L467.52 405.75 L468.16 405.23 L468.81 404.71 L469.46 404.18 L470.11 403.66 L470.76 403.14 L471.41 402.62 L472.06 402.1 L472.71 401.58 L473.37 401.06 L474.02 400.54 L474.67 400.02 L475.33 399.51 L475.98 398.99 L476.64 398.47 L477.3 397.96 L477.95 397.44 L478.61 396.93 L479.27 396.42 L479.93 395.9 L480.59 395.39 L481.25 394.88 L481.91 394.37 L482.57 393.86 L483.23 393.34 L483.89 392.83 L484.55 392.32 L485.21 391.81 L485.88 391.3 L486.54 390.79 L487.2 390.29 L487.87 389.78 L488.53 389.27 L489.19 388.76 L489.86 388.25 L490.52 387.74 L491.18 387.24 L491.85 386.73 L492.51 386.22 L493.18 385.71 L493.84 385.21 L494.51 384.7 L495.17 384.19 L495.84 383.68 L496.5 383.18 L497.17 382.67 L497.83 382.16 L498.5 381.66 L499.16 381.15 L499.83 380.64 L500.49 380.13 L501.15 379.63 L501.82 379.12 L502.48 378.61 L503.15 378.1 L503.81 377.59 L504.47 377.08 L505.14 376.58 L505.8 376.07 L506.46 375.56 L507.13 375.05 L507.79 374.54 L508.45 374.03 L509.11 373.52 L509.77 373 L510.43 372.49 L511.09 371.98 L511.75 371.47 L512.41 370.96 L513.07 370.44 L513.73 369.93 L514.39 369.41 L515.05 368.9 L515.7 368.38 L516.36 367.87 L517.02 367.35 L517.67 366.84 L518.33 366.32 L518.98 365.8 L519.64 365.28 L520.29 364.76 L520.95 364.24 L521.6 363.72 L522.25 363.2 L522.91 362.68 L523.56 362.16 L524.21 361.64 L524.86 361.12 L525.51 360.59 L526.16 360.07 L526.81 359.54 L527.46 359.02 L528.11 358.49 L528.75 357.97 L529.4 357.44 L530.05 356.91 L530.69 356.38 L531.34 355.85 L531.98 355.32 L532.63 354.79 L533.27 354.26 L533.92 353.73 L534.56 353.2 L535.2 352.67 L535.85 352.14 L536.49 351.6 L537.13 351.07 L537.78 350.54 L538.42 350.01 L539.06 349.48 L539.7 348.94 L540.35 348.41 L540.99 347.88 L541.63 347.35 L542.28 346.82 L542.92 346.28 L543.56 345.75 L544.21 345.22 L544.85 344.69 L545.5 344.16 L546.14 343.64 L546.79 343.11 L547.44 342.58 L548.08 342.05 L548.73 341.53 L549.38 341 L550.03 340.48 L550.68 339.96 L551.33 339.43 L551.98 338.91 L552.63 338.39 L553.29 337.87 L553.94 337.35 L554.6 336.84 L555.25 336.32 L555.91 335.8 L556.56 335.29 L557.22 334.77 L557.88 334.26 L558.54 333.75 L559.2 333.24 L559.86 332.73 L560.52 332.22 L561.18 331.71 L561.84 331.2 L562.51 330.7 L563.17 330.19 L563.84 329.69 L564.5 329.19 L565.17 328.68 L565.83 328.18 L566.5 327.68 L567.17 327.18 L567.84 326.68 L568.51 326.18 L569.18 325.69 L569.85 325.19 L570.52 324.7 L571.19 324.2 L571.87 323.71 L572.54 323.21 L573.22 322.72 L573.89 322.23 L574.57 321.74 L575.24 321.25 L575.92 320.77 L576.6 320.28 L577.28 319.79 L577.96 319.31 L578.64 318.82 L579.32 318.34 L580 317.86 L580.68 317.38 L581.36 316.9 L582.04 316.42 L582.73 315.94 L583.41 315.46 L584.1 314.98 L584.78 314.51 L585.47 314.03 L586.16 313.56 L586.85 313.08 L587.53 312.61 L588.22 312.14 L588.91 311.67 L589.6 311.2 L590.29 310.73 L590.99 310.26 L591.68 309.79 L592.37 309.33 L593.06 308.86 L593.76 308.4 L594.45 307.93 L595.15 307.47 L595.84 307.01 L596.54 306.55 L597.24 306.09 L597.94 305.63 L598.63 305.17 L599.33 304.71 L600.03 304.25 L600.73 303.8 L601.43 303.34 L602.14 302.89 L602.84 302.44 L603.54 301.98 L604.24 301.53 L604.95 301.08 L605.65 300.63 L606.36 300.18 L607.06 299.73 L607.77 299.29 L608.48 298.84 L609.18 298.39 L609.89 297.95 L610.6 297.51 L611.31 297.06 L612.02 296.62 L612.73 296.18 L613.44 295.74 L614.15 295.3 L614.86 294.86 L615.58 294.42 L616.29 293.99 L617 293.55 L617.72 293.11 L618.43 292.68 L619.15 292.25 L619.86 291.81 L620.58 291.38 L621.3 290.95 L622.01 290.52" fill="none" stroke="#0000ff" stroke-width="1.75" clip-path="url(#clipd)"/>
<g stroke="#000"><line x1="382.55" y1="542.5" x2="382.55" y2="544.4" stroke-width="0.6"/><line x1="391.5" y1="542.5" x2="391.5" y2="544.4" stroke-width="0.6"/><line x1="397.85" y1="542.5" x2="397.85" y2="544.4" stroke-width="0.6"/><line x1="402.78" y1="542.5" x2="402.78" y2="544.4" stroke-width="0.6"/><line x1="406.8" y1="542.5" x2="406.8" y2="544.4" stroke-width="0.6"/><line x1="410.21" y1="542.5" x2="410.21" y2="544.4" stroke-width="0.6"/><line x1="413.15" y1="542.5" x2="413.15" y2="544.4" stroke-width="0.6"/><line x1="415.75" y1="542.5" x2="415.75" y2="544.4" stroke-width="0.6"/><line x1="418.08" y1="542.5" x2="418.08" y2="545.7" stroke-width="0.8"/><line x1="433.38" y1="542.5" x2="433.38" y2="544.4" stroke-width="0.6"/><line x1="442.33" y1="542.5" x2="442.33" y2="544.4" stroke-width="0.6"/><line x1="448.68" y1="542.5" x2="448.68" y2="544.4" stroke-width="0.6"/><line x1="453.61" y1="542.5" x2="453.61" y2="544.4" stroke-width="0.6"/><line x1="457.63" y1="542.5" x2="457.63" y2="544.4" stroke-width="0.6"/><line x1="461.04" y1="542.5" x2="461.04" y2="544.4" stroke-width="0.6"/><line x1="463.98" y1="542.5" x2="463.98" y2="544.4" stroke-width="0.6"/><line x1="466.58" y1="542.5" x2="466.58" y2="544.4" stroke-width="0.6"/><line x1="468.91" y1="542.5" x2="468.91" y2="545.7" stroke-width="0.8"/><line x1="484.21" y1="542.5" x2="484.21" y2="544.4" stroke-width="0.6"/><line x1="493.16" y1="542.5" x2="493.16" y2="544.4" stroke-width="0.6"/><line x1="499.51" y1="542.5" x2="499.51" y2="544.4" stroke-width="0.6"/><line x1="504.44" y1="542.5" x2="504.44" y2="544.4" stroke-width="0.6"/><line x1="508.46" y1="542.5" x2="508.46" y2="544.4" stroke-width="0.6"/><line x1="511.87" y1="542.5" x2="511.87" y2="544.4" stroke-width="0.6"/><line x1="514.81" y1="542.5" x2="514.81" y2="544.4" stroke-width="0.6"/><line x1="517.41" y1="542.5" x2="517.41" y2="544.4" stroke-width="0.6"/><line x1="519.74" y1="542.5" x2="519.74" y2="545.7" stroke-width="0.8"/><line x1="535.04" y1="542.5" x2="535.04" y2="544.4" stroke-width="0.6"/><line x1="543.99" y1="542.5" x2="543.99" y2="544.4" stroke-width="0.6"/><line x1="550.34" y1="542.5" x2="550.34" y2="544.4" stroke-width="0.6"/><line x1="555.27" y1="542.5" x2="555.27" y2="544.4" stroke-width="0.6"/><line x1="559.29" y1="542.5" x2="559.29" y2="544.4" stroke-width="0.6"/><line x1="562.7" y1="542.5" x2="562.7" y2="544.4" stroke-width="0.6"/><line x1="565.64" y1="542.5" x2="565.64" y2="544.4" stroke-width="0.6"/><line x1="568.24" y1="542.5" x2="568.24" y2="544.4" stroke-width="0.6"/><line x1="570.57" y1="542.5" x2="570.57" y2="545.7" stroke-width="0.8"/><line x1="585.87" y1="542.5" x2="585.87" y2="544.4" stroke-width="0.6"/><line x1="594.82" y1="542.5" x2="594.82" y2="544.4" stroke-width="0.6"/><line x1="601.17" y1="542.5" x2="601.17" y2="544.4" stroke-width="0.6"/><line x1="606.1" y1="542.5" x2="606.1" y2="544.4" stroke-width="0.6"/><line x1="610.12" y1="542.5" x2="610.12" y2="544.4" stroke-width="0.6"/><line x1="613.53" y1="542.5" x2="613.53" y2="544.4" stroke-width="0.6"/><line x1="616.47" y1="542.5" x2="616.47" y2="544.4" stroke-width="0.6"/><line x1="619.07" y1="542.5" x2="619.07" y2="544.4" stroke-width="0.6"/><line x1="621.4" y1="542.5" x2="621.4" y2="545.7" stroke-width="0.8"/><line x1="364.8" y1="542.5" x2="368" y2="542.5" stroke-width="0.8"/><line x1="366.1" y1="530.03" x2="368" y2="530.03" stroke-width="0.6"/><line x1="366.1" y1="522.74" x2="368" y2="522.74" stroke-width="0.6"/><line x1="366.1" y1="517.56" x2="368" y2="517.56" stroke-width="0.6"/><line x1="366.1" y1="513.55" x2="368" y2="513.55" stroke-width="0.6"/><line x1="366.1" y1="510.27" x2="368" y2="510.27" stroke-width="0.6"/><line x1="366.1" y1="507.5" x2="368" y2="507.5" stroke-width="0.6"/><line x1="366.1" y1="505.1" x2="368" y2="505.1" stroke-width="0.6"/><line x1="366.1" y1="502.98" x2="368" y2="502.98" stroke-width="0.6"/><line x1="364.8" y1="501.08" x2="368" y2="501.08" stroke-width="0.8"/><line x1="366.1" y1="488.62" x2="368" y2="488.62" stroke-width="0.6"/><line x1="366.1" y1="481.32" x2="368" y2="481.32" stroke-width="0.6"/><line x1="366.1" y1="476.15" x2="368" y2="476.15" stroke-width="0.6"/><line x1="366.1" y1="472.13" x2="368" y2="472.13" stroke-width="0.6"/><line x1="366.1" y1="468.85" x2="368" y2="468.85" stroke-width="0.6"/><line x1="366.1" y1="466.08" x2="368" y2="466.08" stroke-width="0.6"/><line x1="366.1" y1="463.68" x2="368" y2="463.68" stroke-width="0.6"/><line x1="366.1" y1="461.56" x2="368" y2="461.56" stroke-width="0.6"/><line x1="364.8" y1="459.67" x2="368" y2="459.67" stroke-width="0.8"/><line x1="366.1" y1="447.2" x2="368" y2="447.2" stroke-width="0.6"/><line x1="366.1" y1="439.91" x2="368" y2="439.91" stroke-width="0.6"/><line x1="366.1" y1="434.73" x2="368" y2="434.73" stroke-width="0.6"/><line x1="366.1" y1="430.72" x2="368" y2="430.72" stroke-width="0.6"/><line x1="366.1" y1="427.44" x2="368" y2="427.44" stroke-width="0.6"/><line x1="366.1" y1="424.67" x2="368" y2="424.67" stroke-width="0.6"/><line x1="366.1" y1="422.26" x2="368" y2="422.26" stroke-width="0.6"/><line x1="366.1" y1="420.15" x2="368" y2="420.15" stroke-width="0.6"/><line x1="364.8" y1="418.25" x2="368" y2="418.25" stroke-width="0.8"/><line x1="366.1" y1="405.78" x2="368" y2="405.78" stroke-width="0.6"/><line x1="366.1" y1="398.49" x2="368" y2="398.49" stroke-width="0.6"/><line x1="366.1" y1="393.31" x2="368" y2="393.31" stroke-width="0.6"/><line x1="366.1" y1="389.3" x2="368" y2="389.3" stroke-width="0.6"/><line x1="366.1" y1="386.02" x2="368" y2="386.02" stroke-width="0.6"/><line x1="366.1" y1="383.25" x2="368" y2="383.25" stroke-width="0.6"/><line x1="366.1" y1="380.85" x2="368" y2="380.85" stroke-width="0.6"/><line x1="366.1" y1="378.73" x2="368" y2="378.73" stroke-width="0.6"/><line x1="364.8" y1="376.83" x2="368" y2="376.83" stroke-width="0.8"/><line x1="366.1" y1="364.37" x2="368" y2="364.37" stroke-width="0.6"/><line x1="366.1" y1="357.07" x2="368" y2="357.07" stroke-width="0.6"/><line x1="366.1" y1="351.9" x2="368" y2="351.9" stroke-width="0.6"/><line x1="366.1" y1="347.88" x2="368" y2="347.88" stroke-width="0.6"/><line x1="366.1" y1="344.6" x2="368" y2="344.6" stroke-width="0.6"/><line x1="366.1" y1="341.83" x2="368" y2="341.83" stroke-width="0.6"/><line x1="366.1" y1="339.43" x2="368" y2="339.43" stroke-width="0.6"/><line x1="366.1" y1="337.31" x2="368" y2="337.31" stroke-width="0.6"/><line x1="364.8" y1="335.42" x2="368" y2="335.42" stroke-width="0.8"/><line x1="366.1" y1="322.95" x2="368" y2="322.95" stroke-width="0.6"/><line x1="366.1" y1="315.66" x2="368" y2="315.66" stroke-width="0.6"/><line x1="366.1" y1="310.48" x2="368" y2="310.48" stroke-width="0.6"/><line x1="366.1" y1="306.47" x2="368" y2="306.47" stroke-width="0.6"/><line x1="366.1" y1="303.19" x2="368" y2="303.19" stroke-width="0.6"/><line x1="366.1" y1="300.42" x2="368" y2="300.42" stroke-width="0.6"/><line x1="366.1" y1="298.01" x2="368" y2="298.01" stroke-width="0.6"/><line x1="366.1" y1="295.9" x2="368" y2="295.9" stroke-width="0.6"/><line x1="364.8" y1="294" x2="368" y2="294" stroke-width="0.8"/></g>
<text x="417.88" y="556.8" text-anchor="middle" font-size="12.8">10<tspan font-size="9.4" dx="0.4" dy="-4.8">1</tspan></text>
<text x="468.71" y="556.8" text-anchor="middle" font-size="12.8">10<tspan font-size="9.4" dx="0.4" dy="-4.8">2</tspan></text>
<text x="519.54" y="556.8" text-anchor="middle" font-size="12.8">10<tspan font-size="9.4" dx="0.4" dy="-4.8">3</tspan></text>
<text x="570.37" y="556.8" text-anchor="middle" font-size="12.8">10<tspan font-size="9.4" dx="0.4" dy="-4.8">4</tspan></text>
<text x="621.2" y="556.8" text-anchor="middle" font-size="12.8">10<tspan font-size="9.4" dx="0.4" dy="-4.8">5</tspan></text>
<text x="361.7" y="547" text-anchor="end" font-size="12.8">10<tspan font-size="9.4" dx="0.6" dy="-4.6">17</tspan></text>
<text x="361.7" y="505.58" text-anchor="end" font-size="12.8">10<tspan font-size="9.4" dx="0.6" dy="-4.6">18</tspan></text>
<text x="361.7" y="464.17" text-anchor="end" font-size="12.8">10<tspan font-size="9.4" dx="0.6" dy="-4.6">19</tspan></text>
<text x="361.7" y="422.75" text-anchor="end" font-size="12.8">10<tspan font-size="9.4" dx="0.6" dy="-4.6">20</tspan></text>
<text x="361.7" y="381.33" text-anchor="end" font-size="12.8">10<tspan font-size="9.4" dx="0.6" dy="-4.6">21</tspan></text>
<text x="361.7" y="339.92" text-anchor="end" font-size="12.8">10<tspan font-size="9.4" dx="0.6" dy="-4.6">22</tspan></text>
<text x="361.7" y="298.5" text-anchor="end" font-size="12.8">10<tspan font-size="9.4" dx="0.6" dy="-4.6">23</tspan></text>
<text x="493.9" y="570.3" text-anchor="middle" font-size="12.6" textLength="34.6" lengthAdjust="spacingAndGlyphs">r (km)</text>
<text transform="translate(330.3 418.4) rotate(-90)" text-anchor="middle" font-size="12.6" textLength="119" lengthAdjust="spacingAndGlyphs">Flux (molecules s<tspan font-size="9" dy="-4.5">&#8722;1</tspan><tspan dy="4.5">)</tspan></text>
<text x="604.05" y="529.1" text-anchor="middle" font-size="12.4" textLength="18.5" lengthAdjust="spacingAndGlyphs" style="stroke-width:0.08px">(d)</text>
<rect x="52.6" y="6.5" width="252.8" height="248.4" fill="none" stroke="#505050" stroke-width="1.25"/>
<rect x="368" y="6.4" width="253.4" height="248.4" fill="none" stroke="#505050" stroke-width="1.25"/>
<rect x="52.6" y="294" width="252.9" height="248.5" fill="none" stroke="#505050" stroke-width="1.25"/>
<rect x="368" y="294" width="253.4" height="248.5" fill="none" stroke="#505050" stroke-width="1.25"/>
<line x1="61.2" y1="203.7" x2="76.7" y2="203.7" stroke="#0000ff" stroke-width="1.75"/>
<text x="85" y="207.1" font-size="10.5"><tspan>H</tspan><tspan font-size="7.9" dy="2">2</tspan><tspan dy="-2">O</tspan></text>
<line x1="61.2" y1="215.8" x2="76.7" y2="215.8" stroke="#008000" stroke-width="1.75"/>
<circle cx="69.1" cy="215.8" r="2.75" fill="none" stroke="#008000" stroke-width="1"/>
<text x="85" y="219.2" font-size="10.5">CO</text>
<line x1="61.2" y1="227.8" x2="76.7" y2="227.8" stroke="#bf00bf" stroke-width="1.75" stroke-dasharray="1.47,2.43"/>
<text x="85" y="231.2" font-size="10.5">HCN</text>
<line x1="61.2" y1="240" x2="76.7" y2="240" stroke="#bfbf00" stroke-width="1.75" stroke-dasharray="5.44,2.35"/>
<text x="85" y="243.4" font-size="10.5"><tspan>CH</tspan><tspan font-size="7.9" dy="2">3</tspan><tspan dy="-2">OH</tspan></text>
<line x1="157.7" y1="203.7" x2="173.2" y2="203.7" stroke="#ff0000" stroke-width="1.75" stroke-dasharray="9.41,2.35,1.47,2.35"/>
<text x="181.5" y="207.1" font-size="10.5"><tspan>C</tspan><tspan font-size="7.9" dy="2">2</tspan><tspan dy="-2">H</tspan><tspan font-size="7.9" dy="2">2</tspan></text>
<line x1="157.7" y1="215.8" x2="173.2" y2="215.8" stroke="#000000" stroke-width="1.75" stroke-dasharray="4.41,1.47,1.47,1.47,1.47,1.47"/>
<text x="181.5" y="219.2" font-size="10.5"><tspan>NH</tspan><tspan font-size="7.9" dy="2">3</tspan></text>
<line x1="157.7" y1="228" x2="173.2" y2="228" stroke="#00bfbf" stroke-width="1.75"/>
<circle cx="165.6" cy="228" r="2.0" fill="#00bfbf"/>
<text x="181.5" y="231.4" font-size="10.5"><tspan>CS</tspan><tspan font-size="7.9" dy="2">2</tspan></text>
<line x1="377" y1="19.8" x2="392.5" y2="19.8" stroke="#0000ff" stroke-width="1.75"/>
<text x="400.8" y="23.2" font-size="10.5"><tspan>CO</tspan><tspan font-size="8.8" dx="2.1" dy="-3">+</tspan></text>
<line x1="377" y1="32.2" x2="392.5" y2="32.2" stroke="#008000" stroke-width="1.75" stroke-dasharray="1.47,2.43"/>
<text x="400.8" y="35.6" font-size="10.5"><tspan>HCO</tspan><tspan font-size="8.8" dx="2.1" dy="-3">+</tspan></text>
<line x1="377" y1="44.6" x2="392.5" y2="44.6" stroke="#bf00bf" stroke-width="1.75" stroke-dasharray="5.44,2.35"/>
<text x="400.8" y="48" font-size="10.5"><tspan>H</tspan><tspan font-size="7.9" dy="2">2</tspan><tspan dy="-2">O</tspan><tspan font-size="8.8" dx="2.1" dy="-3">+</tspan></text>
<line x1="377" y1="57.4" x2="392.5" y2="57.4" stroke="#bfbf00" stroke-width="1.75" stroke-dasharray="9.41,2.35,1.47,2.35"/>
<text x="400.8" y="60.8" font-size="10.5"><tspan>H</tspan><tspan font-size="7.9" dy="2">3</tspan><tspan dy="-2">O</tspan><tspan font-size="8.8" dx="2.1" dy="-3">+</tspan></text>
<line x1="377" y1="70.2" x2="392.5" y2="70.2" stroke="#ff0000" stroke-width="1.75" stroke-dasharray="4.41,1.47,1.47,1.47,1.47,1.47"/>
<text x="400.8" y="73.6" font-size="10.5"><tspan>OH</tspan><tspan font-size="8.8" dx="2.1" dy="-3">+</tspan></text>
<line x1="377" y1="82.8" x2="392.5" y2="82.8" stroke="#000000" stroke-width="1.75"/>
<circle cx="384.9" cy="82.8" r="2.0" fill="#000000"/>
<text x="400.8" y="86.2" font-size="10.5"><tspan>CO</tspan><tspan font-size="7.9" dy="2">2</tspan><tspan font-size="8.8" dx="2.1" dy="-5">+</tspan></text>
<line x1="377" y1="95.3" x2="392.5" y2="95.3" stroke="#00bfbf" stroke-width="1.75"/>
<circle cx="384.9" cy="95.3" r="2.75" fill="none" stroke="#00bfbf" stroke-width="1"/>
<text x="400.8" y="98.7" font-size="10.5"><tspan>e</tspan><tspan font-size="8.8" dx="2.1" dy="-3">&#8722;</tspan></text>
<line x1="61.2" y1="308.5" x2="76.7" y2="308.5" stroke="#0000ff" stroke-width="1.75"/>
<text x="85" y="311.9" font-size="10.5"><tspan>NH</tspan><tspan font-size="7.9" dy="2">2</tspan><tspan font-size="8.8" dx="2.1" dy="-5">+</tspan></text>
<line x1="61.2" y1="321.3" x2="76.7" y2="321.3" stroke="#008000" stroke-width="1.75" stroke-dasharray="1.47,2.43"/>
<text x="85" y="324.7" font-size="10.5"><tspan>NH</tspan><tspan font-size="7.9" dy="2">3</tspan><tspan font-size="8.8" dx="2.1" dy="-5">+</tspan></text>
<line x1="61.2" y1="334.1" x2="76.7" y2="334.1" stroke="#bf00bf" stroke-width="1.75" stroke-dasharray="5.44,2.35"/>
<text x="85" y="337.5" font-size="10.5"><tspan>NH</tspan><tspan font-size="7.9" dy="2">4</tspan><tspan font-size="8.8" dx="2.1" dy="-5">+</tspan></text>
<line x1="61.2" y1="346.9" x2="76.7" y2="346.9" stroke="#bfbf00" stroke-width="1.75" stroke-dasharray="9.41,2.35,1.47,2.35"/>
<text x="85" y="350.3" font-size="10.5"><tspan>HCN</tspan><tspan font-size="8.8" dx="2.1" dy="-3">+</tspan></text>
<line x1="61.2" y1="359.7" x2="76.7" y2="359.7" stroke="#ff0000" stroke-width="1.75" stroke-dasharray="4.41,1.47,1.47,1.47,1.47,1.47"/>
<text x="85" y="363.1" font-size="10.5"><tspan>HCNH</tspan><tspan font-size="8.8" dx="2.1" dy="-3">+</tspan></text>
<line x1="377" y1="308.4" x2="392.5" y2="308.4" stroke="#0000ff" stroke-width="1.75"/>
<text x="400.8" y="311.8" font-size="10.5"><tspan>CH</tspan><tspan font-size="7.9" dy="2">3</tspan><tspan dy="-2">OH</tspan><tspan font-size="8.8" dx="2.1" dy="-3">+</tspan></text>
<line x1="377" y1="321.4" x2="392.5" y2="321.4" stroke="#008000" stroke-width="1.75" stroke-dasharray="1.47,2.43"/>
<text x="400.8" y="324.8" font-size="10.5"><tspan>CH</tspan><tspan font-size="7.9" dy="2">3</tspan><tspan dy="-2">OH</tspan><tspan font-size="7.9" dy="2">2</tspan><tspan font-size="8.8" dx="2.1" dy="-5">+</tspan></text>
<line x1="377" y1="334.4" x2="392.5" y2="334.4" stroke="#bf00bf" stroke-width="1.75" stroke-dasharray="5.44,2.35"/>
<text x="400.8" y="337.8" font-size="10.5"><tspan>CH</tspan><tspan font-size="7.9" dy="2">3</tspan><tspan dy="-2">OCH</tspan><tspan font-size="7.9" dy="2">4</tspan><tspan font-size="8.8" dx="2.1" dy="-5">+</tspan></text>
<line x1="377" y1="347.4" x2="392.5" y2="347.4" stroke="#bfbf00" stroke-width="1.75" stroke-dasharray="9.41,2.35,1.47,2.35"/>
<text x="400.8" y="350.8" font-size="10.5"><tspan>H</tspan><tspan font-size="7.9" dy="2">2</tspan><tspan dy="-2">COH</tspan><tspan font-size="8.8" dx="2.1" dy="-3">+</tspan></text>
<line x1="377" y1="360.4" x2="392.5" y2="360.4" stroke="#ff0000" stroke-width="1.75" stroke-dasharray="4.41,1.47,1.47,1.47,1.47,1.47"/>
<text x="400.8" y="363.8" font-size="10.5"><tspan>H</tspan><tspan font-size="7.9" dy="2">2</tspan><tspan dy="-2">CO</tspan><tspan font-size="8.8" dx="2.1" dy="-3">+</tspan></text>
</svg>
</body></html>
